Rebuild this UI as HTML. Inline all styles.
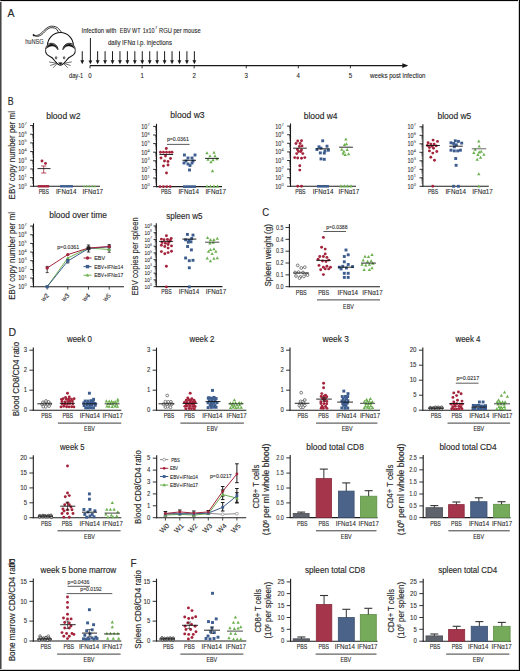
<!DOCTYPE html>
<html><head><meta charset="utf-8"><style>
html,body{margin:0;padding:0;background:#fff;width:520px;height:671px;overflow:hidden}
svg{display:block}
text{font-family:"Liberation Sans", sans-serif;stroke:#2a2a2a;stroke-width:0.1px}
</style></head><body>
<svg width="520" height="671" viewBox="0 0 520 671" font-family='"Liberation Sans", sans-serif' fill="#262626">
<rect x="0" y="0" width="520" height="671" fill="#fff"/>
<rect x="0" y="0" width="520" height="1" fill="#050505"/>
<rect x="0" y="0" width="1" height="671" fill="#454545"/>
<rect x="1" y="1" width="1" height="670" fill="#9a9a9a"/>
<rect x="518" y="0" width="1" height="671" fill="#d0d0d0"/>
<rect x="0" y="669" width="520" height="1" fill="#d0d0d0"/>
<rect x="0" y="1" width="520" height="1" fill="#e6e6e6"/>
<rect x="519" y="0" width="1" height="671" fill="#050505"/>
<rect x="0" y="670" width="520" height="1" fill="#050505"/>
<text x="7.6" y="17.4" font-size="11.5" style="stroke-width:0.14px" textLength="7" lengthAdjust="spacingAndGlyphs">A</text>
<path d="M33.1 34.6 C36 36.4 39.5 35.6 43.9 30.5 C47 27.4 50 26.1 51.5 26.2 C54.5 26.1 57.2 26.9 58.7 28.8 L61.9 32.6" stroke="#111" stroke-width="0.85" fill="none" />
<path d="M34.2 35.7 C37 37.1 40.5 36.6 44.5 31.9 C47 29.1 49.5 27.9 50.8 27.7 C53.5 27.6 55.8 28.1 56.9 29.5 L58.7 32.7" stroke="#111" stroke-width="0.85" fill="none" />
<path d="M33 34.5 L34.4 35.8" stroke="#111" stroke-width="1.6" fill="none" />
<circle cx="60.4" cy="45.4" r="12.9" fill="#fff" stroke="#111" stroke-width="1.1"/>
<path d="M46.5 49.5 L74.3 49.5 L74.8 53.5 L46 53.5Z" fill="#fff"/>
<path d="M45.8 52 C46 55 49.5 56.4 51.8 57.5 C54 59.5 56 63 58.5 64.6 C59.8 65.4 61 65.4 62.3 64.6 C64.8 63 66.8 59.5 69 57.5 C71.3 56.4 74.8 55 75 52" stroke="#111" stroke-width="1.1" fill="#fff" />
<path d="M45.8 52.3 C44.8 48.3 46.8 43.6 51 43.3 C54.8 43.1 57.7 45.8 58 49.8" stroke="#111" stroke-width="0.9" fill="#fff" />
<path d="M75 52.3 C76 48.3 74 43.6 69.8 43.3 C66 43.1 63.1 45.8 62.8 49.8" stroke="#111" stroke-width="0.9" fill="#fff" />
<path d="M46.3 48.6 C47.2 45.6 49.4 44 51.8 44 C54.6 44.1 57 46.2 57.6 49.6 C56.6 47.6 54.6 46.1 52.5 46 C50.2 45.9 48 47 46.3 48.6Z" stroke="#111" stroke-width="0.4" fill="#111" />
<path d="M74.5 48.6 C73.6 45.6 71.4 44 69 44 C66.2 44.1 63.8 46.2 63.2 49.6 C64.2 47.6 66.2 46.1 68.3 46 C70.6 45.9 72.8 47 74.5 48.6Z" stroke="#111" stroke-width="0.4" fill="#111" />
<ellipse cx="56.1" cy="57.8" rx="0.75" ry="1.15" fill="none" stroke="#111" stroke-width="0.75"/>
<ellipse cx="64.1" cy="57.8" rx="0.75" ry="1.15" fill="none" stroke="#111" stroke-width="0.75"/>
<path d="M58.7 62.7 L62.1 62.7 L60.4 64.7Z" stroke="#111" stroke-width="0.5" fill="#111" />
<path d="M56 62.2 C57 63.3 57.8 64 59 64.7" stroke="#111" stroke-width="1" fill="none" />
<path d="M64.8 62.2 C63.8 63.3 63 64 61.8 64.7" stroke="#111" stroke-width="1" fill="none" />
<path d="M56.4 63.2 L49 61.9" stroke="#111" stroke-width="0.6" fill="none" />
<path d="M56.4 63.5 L50.2 65.5" stroke="#111" stroke-width="0.6" fill="none" />
<path d="M56.8 64 L53.1 67.8" stroke="#111" stroke-width="0.6" fill="none" />
<path d="M64.4 63.2 L71.8 61.9" stroke="#111" stroke-width="0.6" fill="none" />
<path d="M64.4 63.5 L70.6 65.5" stroke="#111" stroke-width="0.6" fill="none" />
<path d="M64 64 L67.7 67.8" stroke="#111" stroke-width="0.6" fill="none" />
<text x="25.2" y="43.6" font-size="6.4" textLength="18.5" lengthAdjust="spacingAndGlyphs" fill="#3a3a3a">huNSG</text>
<line x1="90" y1="65.6" x2="407" y2="65.6" stroke="#1a1a1a" stroke-width="1.1"/>
<path d="M402.3 63.3 L408.3 65.6 L402.3 67.9Z" fill="#1a1a1a"/>
<line x1="90" y1="65.6" x2="90" y2="68.3" stroke="#1a1a1a" stroke-width="0.9"/>
<text x="90" y="78" font-size="6.8" text-anchor="middle" textLength="3.4" lengthAdjust="spacingAndGlyphs">0</text>
<line x1="142.08" y1="65.6" x2="142.08" y2="68.3" stroke="#1a1a1a" stroke-width="0.9"/>
<text x="142.08" y="78" font-size="6.8" text-anchor="middle" textLength="3.4" lengthAdjust="spacingAndGlyphs">1</text>
<line x1="194.16" y1="65.6" x2="194.16" y2="68.3" stroke="#1a1a1a" stroke-width="0.9"/>
<text x="194.16" y="78" font-size="6.8" text-anchor="middle" textLength="3.4" lengthAdjust="spacingAndGlyphs">2</text>
<line x1="246.24" y1="65.6" x2="246.24" y2="68.3" stroke="#1a1a1a" stroke-width="0.9"/>
<text x="246.24" y="78" font-size="6.8" text-anchor="middle" textLength="3.4" lengthAdjust="spacingAndGlyphs">3</text>
<line x1="298.32" y1="65.6" x2="298.32" y2="68.3" stroke="#1a1a1a" stroke-width="0.9"/>
<text x="298.32" y="78" font-size="6.8" text-anchor="middle" textLength="3.4" lengthAdjust="spacingAndGlyphs">4</text>
<line x1="350.4" y1="65.6" x2="350.4" y2="68.3" stroke="#1a1a1a" stroke-width="0.9"/>
<text x="350.4" y="78" font-size="6.8" text-anchor="middle" textLength="3.4" lengthAdjust="spacingAndGlyphs">5</text>
<text x="69" y="78" font-size="6.8" textLength="14.2" lengthAdjust="spacingAndGlyphs">day-1</text>
<text x="370" y="77.8" font-size="6.6" textLength="55.5" lengthAdjust="spacingAndGlyphs">weeks post infection</text>
<line x1="82.25" y1="51.2" x2="82.25" y2="61.2" stroke="#1a1a1a" stroke-width="1"/>
<path d="M80.35 60.3 L84.15 60.3 L82.25 64.2Z" fill="#1a1a1a"/>
<line x1="90.4" y1="38" x2="90.4" y2="61.3" stroke="#1a1a1a" stroke-width="1"/>
<path d="M88.5 60.4 L92.3 60.4 L90.4 64.3Z" fill="#1a1a1a"/>
<line x1="97.64" y1="51.2" x2="97.64" y2="61.2" stroke="#1a1a1a" stroke-width="1"/>
<path d="M95.74 60.3 L99.54 60.3 L97.64 64.2Z" fill="#1a1a1a"/>
<line x1="105.08" y1="51.2" x2="105.08" y2="61.2" stroke="#1a1a1a" stroke-width="1"/>
<path d="M103.18 60.3 L106.98 60.3 L105.08 64.2Z" fill="#1a1a1a"/>
<line x1="112.52" y1="51.2" x2="112.52" y2="61.2" stroke="#1a1a1a" stroke-width="1"/>
<path d="M110.62 60.3 L114.42 60.3 L112.52 64.2Z" fill="#1a1a1a"/>
<line x1="119.96" y1="51.2" x2="119.96" y2="61.2" stroke="#1a1a1a" stroke-width="1"/>
<path d="M118.06 60.3 L121.86 60.3 L119.96 64.2Z" fill="#1a1a1a"/>
<line x1="127.4" y1="51.2" x2="127.4" y2="61.2" stroke="#1a1a1a" stroke-width="1"/>
<path d="M125.5 60.3 L129.3 60.3 L127.4 64.2Z" fill="#1a1a1a"/>
<line x1="134.84" y1="51.2" x2="134.84" y2="61.2" stroke="#1a1a1a" stroke-width="1"/>
<path d="M132.94 60.3 L136.74 60.3 L134.84 64.2Z" fill="#1a1a1a"/>
<line x1="142.28" y1="51.2" x2="142.28" y2="61.2" stroke="#1a1a1a" stroke-width="1"/>
<path d="M140.38 60.3 L144.18 60.3 L142.28 64.2Z" fill="#1a1a1a"/>
<line x1="149.72" y1="51.2" x2="149.72" y2="61.2" stroke="#1a1a1a" stroke-width="1"/>
<path d="M147.82 60.3 L151.62 60.3 L149.72 64.2Z" fill="#1a1a1a"/>
<line x1="157.16" y1="51.2" x2="157.16" y2="61.2" stroke="#1a1a1a" stroke-width="1"/>
<path d="M155.26 60.3 L159.06 60.3 L157.16 64.2Z" fill="#1a1a1a"/>
<line x1="164.6" y1="51.2" x2="164.6" y2="61.2" stroke="#1a1a1a" stroke-width="1"/>
<path d="M162.7 60.3 L166.5 60.3 L164.6 64.2Z" fill="#1a1a1a"/>
<line x1="172.04" y1="51.2" x2="172.04" y2="61.2" stroke="#1a1a1a" stroke-width="1"/>
<path d="M170.14 60.3 L173.94 60.3 L172.04 64.2Z" fill="#1a1a1a"/>
<line x1="179.48" y1="51.2" x2="179.48" y2="61.2" stroke="#1a1a1a" stroke-width="1"/>
<path d="M177.58 60.3 L181.38 60.3 L179.48 64.2Z" fill="#1a1a1a"/>
<line x1="186.92" y1="51.2" x2="186.92" y2="61.2" stroke="#1a1a1a" stroke-width="1"/>
<path d="M185.02 60.3 L188.82 60.3 L186.92 64.2Z" fill="#1a1a1a"/>
<line x1="194.36" y1="51.2" x2="194.36" y2="61.2" stroke="#1a1a1a" stroke-width="1"/>
<path d="M192.46 60.3 L196.26 60.3 L194.36 64.2Z" fill="#1a1a1a"/>
<text x="81.5" y="32.6" font-size="6.8" textLength="34.9" lengthAdjust="spacingAndGlyphs">Infection with</text>
<text x="119.8" y="32.6" font-size="6.8" textLength="20.7" lengthAdjust="spacingAndGlyphs">EBV WT</text>
<text x="142.7" y="32.6" font-size="6.8" textLength="11.7" lengthAdjust="spacingAndGlyphs">1x10</text>
<text x="155" y="29.4" font-size="4" fill="#666">7</text>
<text x="159" y="32.6" font-size="6.8" textLength="41.6" lengthAdjust="spacingAndGlyphs">RGU per mouse</text>
<text x="108" y="44.6" font-size="6.8" textLength="64" lengthAdjust="spacingAndGlyphs">daily IFNα i.p. injections</text>
<text x="7.8" y="104.9" font-size="11.5" style="stroke-width:0.14px" textLength="5.9" lengthAdjust="spacingAndGlyphs">B</text>
<line x1="33.5" y1="122.94" x2="33.5" y2="186.8" stroke="#1c1c1c" stroke-width="1.1"/>
<line x1="33" y1="186.3" x2="100" y2="186.3" stroke="#1c1c1c" stroke-width="1.1"/>
<line x1="30.1" y1="186.3" x2="33.5" y2="186.3" stroke="#1c1c1c" stroke-width="0.9"/>
<text x="24.2" y="188.75" font-size="6.8" text-anchor="end" textLength="6" lengthAdjust="spacingAndGlyphs" fill="#333">10</text>
<text x="24.4" y="185.89" font-size="4.01" fill="#888">0</text>
<line x1="32" y1="183.69" x2="33.5" y2="183.69" stroke="#1c1c1c" stroke-width="0.5" opacity="0.8"/>
<line x1="32" y1="182.16" x2="33.5" y2="182.16" stroke="#1c1c1c" stroke-width="0.5" opacity="0.8"/>
<line x1="32" y1="181.07" x2="33.5" y2="181.07" stroke="#1c1c1c" stroke-width="0.5" opacity="0.8"/>
<line x1="32" y1="180.23" x2="33.5" y2="180.23" stroke="#1c1c1c" stroke-width="0.5" opacity="0.8"/>
<line x1="32" y1="179.55" x2="33.5" y2="179.55" stroke="#1c1c1c" stroke-width="0.5" opacity="0.8"/>
<line x1="32" y1="178.96" x2="33.5" y2="178.96" stroke="#1c1c1c" stroke-width="0.5" opacity="0.8"/>
<line x1="32" y1="178.46" x2="33.5" y2="178.46" stroke="#1c1c1c" stroke-width="0.5" opacity="0.8"/>
<line x1="32" y1="178.02" x2="33.5" y2="178.02" stroke="#1c1c1c" stroke-width="0.5" opacity="0.8"/>
<line x1="30.1" y1="177.62" x2="33.5" y2="177.62" stroke="#1c1c1c" stroke-width="0.9"/>
<text x="24.2" y="180.07" font-size="6.8" text-anchor="end" textLength="6" lengthAdjust="spacingAndGlyphs" fill="#333">10</text>
<text x="24.4" y="177.21" font-size="4.01" fill="#888">1</text>
<line x1="32" y1="175.01" x2="33.5" y2="175.01" stroke="#1c1c1c" stroke-width="0.5" opacity="0.8"/>
<line x1="32" y1="173.48" x2="33.5" y2="173.48" stroke="#1c1c1c" stroke-width="0.5" opacity="0.8"/>
<line x1="32" y1="172.39" x2="33.5" y2="172.39" stroke="#1c1c1c" stroke-width="0.5" opacity="0.8"/>
<line x1="32" y1="171.55" x2="33.5" y2="171.55" stroke="#1c1c1c" stroke-width="0.5" opacity="0.8"/>
<line x1="32" y1="170.87" x2="33.5" y2="170.87" stroke="#1c1c1c" stroke-width="0.5" opacity="0.8"/>
<line x1="32" y1="170.28" x2="33.5" y2="170.28" stroke="#1c1c1c" stroke-width="0.5" opacity="0.8"/>
<line x1="32" y1="169.78" x2="33.5" y2="169.78" stroke="#1c1c1c" stroke-width="0.5" opacity="0.8"/>
<line x1="32" y1="169.34" x2="33.5" y2="169.34" stroke="#1c1c1c" stroke-width="0.5" opacity="0.8"/>
<line x1="30.1" y1="168.94" x2="33.5" y2="168.94" stroke="#1c1c1c" stroke-width="0.9"/>
<text x="24.2" y="171.39" font-size="6.8" text-anchor="end" textLength="6" lengthAdjust="spacingAndGlyphs" fill="#333">10</text>
<text x="24.4" y="168.53" font-size="4.01" fill="#888">2</text>
<line x1="32" y1="166.33" x2="33.5" y2="166.33" stroke="#1c1c1c" stroke-width="0.5" opacity="0.8"/>
<line x1="32" y1="164.8" x2="33.5" y2="164.8" stroke="#1c1c1c" stroke-width="0.5" opacity="0.8"/>
<line x1="32" y1="163.71" x2="33.5" y2="163.71" stroke="#1c1c1c" stroke-width="0.5" opacity="0.8"/>
<line x1="32" y1="162.87" x2="33.5" y2="162.87" stroke="#1c1c1c" stroke-width="0.5" opacity="0.8"/>
<line x1="32" y1="162.19" x2="33.5" y2="162.19" stroke="#1c1c1c" stroke-width="0.5" opacity="0.8"/>
<line x1="32" y1="161.6" x2="33.5" y2="161.6" stroke="#1c1c1c" stroke-width="0.5" opacity="0.8"/>
<line x1="32" y1="161.1" x2="33.5" y2="161.1" stroke="#1c1c1c" stroke-width="0.5" opacity="0.8"/>
<line x1="32" y1="160.66" x2="33.5" y2="160.66" stroke="#1c1c1c" stroke-width="0.5" opacity="0.8"/>
<line x1="30.1" y1="160.26" x2="33.5" y2="160.26" stroke="#1c1c1c" stroke-width="0.9"/>
<text x="24.2" y="162.71" font-size="6.8" text-anchor="end" textLength="6" lengthAdjust="spacingAndGlyphs" fill="#333">10</text>
<text x="24.4" y="159.85" font-size="4.01" fill="#888">3</text>
<line x1="32" y1="157.65" x2="33.5" y2="157.65" stroke="#1c1c1c" stroke-width="0.5" opacity="0.8"/>
<line x1="32" y1="156.12" x2="33.5" y2="156.12" stroke="#1c1c1c" stroke-width="0.5" opacity="0.8"/>
<line x1="32" y1="155.03" x2="33.5" y2="155.03" stroke="#1c1c1c" stroke-width="0.5" opacity="0.8"/>
<line x1="32" y1="154.19" x2="33.5" y2="154.19" stroke="#1c1c1c" stroke-width="0.5" opacity="0.8"/>
<line x1="32" y1="153.51" x2="33.5" y2="153.51" stroke="#1c1c1c" stroke-width="0.5" opacity="0.8"/>
<line x1="32" y1="152.92" x2="33.5" y2="152.92" stroke="#1c1c1c" stroke-width="0.5" opacity="0.8"/>
<line x1="32" y1="152.42" x2="33.5" y2="152.42" stroke="#1c1c1c" stroke-width="0.5" opacity="0.8"/>
<line x1="32" y1="151.98" x2="33.5" y2="151.98" stroke="#1c1c1c" stroke-width="0.5" opacity="0.8"/>
<line x1="30.1" y1="151.58" x2="33.5" y2="151.58" stroke="#1c1c1c" stroke-width="0.9"/>
<text x="24.2" y="154.03" font-size="6.8" text-anchor="end" textLength="6" lengthAdjust="spacingAndGlyphs" fill="#333">10</text>
<text x="24.4" y="151.17" font-size="4.01" fill="#888">4</text>
<line x1="32" y1="148.97" x2="33.5" y2="148.97" stroke="#1c1c1c" stroke-width="0.5" opacity="0.8"/>
<line x1="32" y1="147.44" x2="33.5" y2="147.44" stroke="#1c1c1c" stroke-width="0.5" opacity="0.8"/>
<line x1="32" y1="146.35" x2="33.5" y2="146.35" stroke="#1c1c1c" stroke-width="0.5" opacity="0.8"/>
<line x1="32" y1="145.51" x2="33.5" y2="145.51" stroke="#1c1c1c" stroke-width="0.5" opacity="0.8"/>
<line x1="32" y1="144.83" x2="33.5" y2="144.83" stroke="#1c1c1c" stroke-width="0.5" opacity="0.8"/>
<line x1="32" y1="144.24" x2="33.5" y2="144.24" stroke="#1c1c1c" stroke-width="0.5" opacity="0.8"/>
<line x1="32" y1="143.74" x2="33.5" y2="143.74" stroke="#1c1c1c" stroke-width="0.5" opacity="0.8"/>
<line x1="32" y1="143.3" x2="33.5" y2="143.3" stroke="#1c1c1c" stroke-width="0.5" opacity="0.8"/>
<line x1="30.1" y1="142.9" x2="33.5" y2="142.9" stroke="#1c1c1c" stroke-width="0.9"/>
<text x="24.2" y="145.35" font-size="6.8" text-anchor="end" textLength="6" lengthAdjust="spacingAndGlyphs" fill="#333">10</text>
<text x="24.4" y="142.49" font-size="4.01" fill="#888">5</text>
<line x1="32" y1="140.29" x2="33.5" y2="140.29" stroke="#1c1c1c" stroke-width="0.5" opacity="0.8"/>
<line x1="32" y1="138.76" x2="33.5" y2="138.76" stroke="#1c1c1c" stroke-width="0.5" opacity="0.8"/>
<line x1="32" y1="137.67" x2="33.5" y2="137.67" stroke="#1c1c1c" stroke-width="0.5" opacity="0.8"/>
<line x1="32" y1="136.83" x2="33.5" y2="136.83" stroke="#1c1c1c" stroke-width="0.5" opacity="0.8"/>
<line x1="32" y1="136.15" x2="33.5" y2="136.15" stroke="#1c1c1c" stroke-width="0.5" opacity="0.8"/>
<line x1="32" y1="135.56" x2="33.5" y2="135.56" stroke="#1c1c1c" stroke-width="0.5" opacity="0.8"/>
<line x1="32" y1="135.06" x2="33.5" y2="135.06" stroke="#1c1c1c" stroke-width="0.5" opacity="0.8"/>
<line x1="32" y1="134.62" x2="33.5" y2="134.62" stroke="#1c1c1c" stroke-width="0.5" opacity="0.8"/>
<line x1="30.1" y1="134.22" x2="33.5" y2="134.22" stroke="#1c1c1c" stroke-width="0.9"/>
<text x="24.2" y="136.67" font-size="6.8" text-anchor="end" textLength="6" lengthAdjust="spacingAndGlyphs" fill="#333">10</text>
<text x="24.4" y="133.81" font-size="4.01" fill="#888">6</text>
<line x1="32" y1="131.61" x2="33.5" y2="131.61" stroke="#1c1c1c" stroke-width="0.5" opacity="0.8"/>
<line x1="32" y1="130.08" x2="33.5" y2="130.08" stroke="#1c1c1c" stroke-width="0.5" opacity="0.8"/>
<line x1="32" y1="128.99" x2="33.5" y2="128.99" stroke="#1c1c1c" stroke-width="0.5" opacity="0.8"/>
<line x1="32" y1="128.15" x2="33.5" y2="128.15" stroke="#1c1c1c" stroke-width="0.5" opacity="0.8"/>
<line x1="32" y1="127.47" x2="33.5" y2="127.47" stroke="#1c1c1c" stroke-width="0.5" opacity="0.8"/>
<line x1="32" y1="126.88" x2="33.5" y2="126.88" stroke="#1c1c1c" stroke-width="0.5" opacity="0.8"/>
<line x1="32" y1="126.38" x2="33.5" y2="126.38" stroke="#1c1c1c" stroke-width="0.5" opacity="0.8"/>
<line x1="32" y1="125.94" x2="33.5" y2="125.94" stroke="#1c1c1c" stroke-width="0.5" opacity="0.8"/>
<line x1="30.1" y1="125.54" x2="33.5" y2="125.54" stroke="#1c1c1c" stroke-width="0.9"/>
<text x="24.2" y="127.99" font-size="6.8" text-anchor="end" textLength="6" lengthAdjust="spacingAndGlyphs" fill="#333">10</text>
<text x="24.4" y="125.13" font-size="4.01" fill="#888">7</text>
<text x="46.2" y="118.6" font-size="8.6" style="stroke-width:0.14px" textLength="34.3" lengthAdjust="spacingAndGlyphs">blood w2</text>
<text x="15.3" y="155.2" font-size="9.2" style="stroke-width:0.14px" text-anchor="middle" textLength="88.4" lengthAdjust="spacingAndGlyphs" transform="rotate(-90 15.3 155.2)">EBV copy number per ml</text>
<text x="43.85" y="193.9" font-size="6.6" text-anchor="middle" textLength="10.4" lengthAdjust="spacingAndGlyphs">PBS</text>
<text x="66.2" y="193.9" font-size="6.6" text-anchor="middle" textLength="20.6" lengthAdjust="spacingAndGlyphs">IFNα14</text>
<text x="92.8" y="193.9" font-size="6.6" text-anchor="middle" textLength="20.6" lengthAdjust="spacingAndGlyphs">IFNα17</text>
<rect x="37.7" y="185.1" width="11.5" height="2.4" fill="#a4243b"/>
<rect x="60" y="185.1" width="13" height="2.4" fill="#3d5d8f"/>
<path d="M84 184.91L85.27 187.22L82.73 187.22Z" fill="#6db04f"/>
<path d="M86.75 184.91L88.02 187.22L85.48 187.22Z" fill="#6db04f"/>
<path d="M89.5 184.91L90.77 187.22L88.23 187.22Z" fill="#6db04f"/>
<path d="M92.25 184.91L93.52 187.22L90.98 187.22Z" fill="#6db04f"/>
<path d="M95 184.91L96.27 187.22L93.73 187.22Z" fill="#6db04f"/>
<circle cx="42" cy="161" r="1.45" fill="#a4243b"/>
<circle cx="45.5" cy="163.4" r="1.45" fill="#a4243b"/>
<line x1="43.7" y1="166" x2="43.7" y2="173" stroke="#a4243b" stroke-width="0.8"/>
<line x1="41.1" y1="166" x2="46.3" y2="166" stroke="#a4243b" stroke-width="0.8"/>
<line x1="41.1" y1="173" x2="46.3" y2="173" stroke="#a4243b" stroke-width="0.8"/>
<line x1="37.5" y1="168.6" x2="50.5" y2="168.6" stroke="#111" stroke-width="0.9"/>
<line x1="156.5" y1="123.8" x2="156.5" y2="187.1" stroke="#1c1c1c" stroke-width="1.1"/>
<line x1="156" y1="186.6" x2="222" y2="186.6" stroke="#1c1c1c" stroke-width="1.1"/>
<line x1="153.1" y1="186.6" x2="156.5" y2="186.6" stroke="#1c1c1c" stroke-width="0.9"/>
<text x="147.2" y="189.05" font-size="6.8" text-anchor="end" textLength="6" lengthAdjust="spacingAndGlyphs" fill="#333">10</text>
<text x="147.4" y="186.19" font-size="4.01" fill="#888">0</text>
<line x1="155" y1="184.01" x2="156.5" y2="184.01" stroke="#1c1c1c" stroke-width="0.5" opacity="0.8"/>
<line x1="155" y1="182.5" x2="156.5" y2="182.5" stroke="#1c1c1c" stroke-width="0.5" opacity="0.8"/>
<line x1="155" y1="181.42" x2="156.5" y2="181.42" stroke="#1c1c1c" stroke-width="0.5" opacity="0.8"/>
<line x1="155" y1="180.59" x2="156.5" y2="180.59" stroke="#1c1c1c" stroke-width="0.5" opacity="0.8"/>
<line x1="155" y1="179.91" x2="156.5" y2="179.91" stroke="#1c1c1c" stroke-width="0.5" opacity="0.8"/>
<line x1="155" y1="179.33" x2="156.5" y2="179.33" stroke="#1c1c1c" stroke-width="0.5" opacity="0.8"/>
<line x1="155" y1="178.83" x2="156.5" y2="178.83" stroke="#1c1c1c" stroke-width="0.5" opacity="0.8"/>
<line x1="155" y1="178.39" x2="156.5" y2="178.39" stroke="#1c1c1c" stroke-width="0.5" opacity="0.8"/>
<line x1="153.1" y1="178" x2="156.5" y2="178" stroke="#1c1c1c" stroke-width="0.9"/>
<text x="147.2" y="180.45" font-size="6.8" text-anchor="end" textLength="6" lengthAdjust="spacingAndGlyphs" fill="#333">10</text>
<text x="147.4" y="177.59" font-size="4.01" fill="#888">1</text>
<line x1="155" y1="175.41" x2="156.5" y2="175.41" stroke="#1c1c1c" stroke-width="0.5" opacity="0.8"/>
<line x1="155" y1="173.9" x2="156.5" y2="173.9" stroke="#1c1c1c" stroke-width="0.5" opacity="0.8"/>
<line x1="155" y1="172.82" x2="156.5" y2="172.82" stroke="#1c1c1c" stroke-width="0.5" opacity="0.8"/>
<line x1="155" y1="171.99" x2="156.5" y2="171.99" stroke="#1c1c1c" stroke-width="0.5" opacity="0.8"/>
<line x1="155" y1="171.31" x2="156.5" y2="171.31" stroke="#1c1c1c" stroke-width="0.5" opacity="0.8"/>
<line x1="155" y1="170.73" x2="156.5" y2="170.73" stroke="#1c1c1c" stroke-width="0.5" opacity="0.8"/>
<line x1="155" y1="170.23" x2="156.5" y2="170.23" stroke="#1c1c1c" stroke-width="0.5" opacity="0.8"/>
<line x1="155" y1="169.79" x2="156.5" y2="169.79" stroke="#1c1c1c" stroke-width="0.5" opacity="0.8"/>
<line x1="153.1" y1="169.4" x2="156.5" y2="169.4" stroke="#1c1c1c" stroke-width="0.9"/>
<text x="147.2" y="171.85" font-size="6.8" text-anchor="end" textLength="6" lengthAdjust="spacingAndGlyphs" fill="#333">10</text>
<text x="147.4" y="168.99" font-size="4.01" fill="#888">2</text>
<line x1="155" y1="166.81" x2="156.5" y2="166.81" stroke="#1c1c1c" stroke-width="0.5" opacity="0.8"/>
<line x1="155" y1="165.3" x2="156.5" y2="165.3" stroke="#1c1c1c" stroke-width="0.5" opacity="0.8"/>
<line x1="155" y1="164.22" x2="156.5" y2="164.22" stroke="#1c1c1c" stroke-width="0.5" opacity="0.8"/>
<line x1="155" y1="163.39" x2="156.5" y2="163.39" stroke="#1c1c1c" stroke-width="0.5" opacity="0.8"/>
<line x1="155" y1="162.71" x2="156.5" y2="162.71" stroke="#1c1c1c" stroke-width="0.5" opacity="0.8"/>
<line x1="155" y1="162.13" x2="156.5" y2="162.13" stroke="#1c1c1c" stroke-width="0.5" opacity="0.8"/>
<line x1="155" y1="161.63" x2="156.5" y2="161.63" stroke="#1c1c1c" stroke-width="0.5" opacity="0.8"/>
<line x1="155" y1="161.19" x2="156.5" y2="161.19" stroke="#1c1c1c" stroke-width="0.5" opacity="0.8"/>
<line x1="153.1" y1="160.8" x2="156.5" y2="160.8" stroke="#1c1c1c" stroke-width="0.9"/>
<text x="147.2" y="163.25" font-size="6.8" text-anchor="end" textLength="6" lengthAdjust="spacingAndGlyphs" fill="#333">10</text>
<text x="147.4" y="160.39" font-size="4.01" fill="#888">3</text>
<line x1="155" y1="158.21" x2="156.5" y2="158.21" stroke="#1c1c1c" stroke-width="0.5" opacity="0.8"/>
<line x1="155" y1="156.7" x2="156.5" y2="156.7" stroke="#1c1c1c" stroke-width="0.5" opacity="0.8"/>
<line x1="155" y1="155.62" x2="156.5" y2="155.62" stroke="#1c1c1c" stroke-width="0.5" opacity="0.8"/>
<line x1="155" y1="154.79" x2="156.5" y2="154.79" stroke="#1c1c1c" stroke-width="0.5" opacity="0.8"/>
<line x1="155" y1="154.11" x2="156.5" y2="154.11" stroke="#1c1c1c" stroke-width="0.5" opacity="0.8"/>
<line x1="155" y1="153.53" x2="156.5" y2="153.53" stroke="#1c1c1c" stroke-width="0.5" opacity="0.8"/>
<line x1="155" y1="153.03" x2="156.5" y2="153.03" stroke="#1c1c1c" stroke-width="0.5" opacity="0.8"/>
<line x1="155" y1="152.59" x2="156.5" y2="152.59" stroke="#1c1c1c" stroke-width="0.5" opacity="0.8"/>
<line x1="153.1" y1="152.2" x2="156.5" y2="152.2" stroke="#1c1c1c" stroke-width="0.9"/>
<text x="147.2" y="154.65" font-size="6.8" text-anchor="end" textLength="6" lengthAdjust="spacingAndGlyphs" fill="#333">10</text>
<text x="147.4" y="151.79" font-size="4.01" fill="#888">4</text>
<line x1="155" y1="149.61" x2="156.5" y2="149.61" stroke="#1c1c1c" stroke-width="0.5" opacity="0.8"/>
<line x1="155" y1="148.1" x2="156.5" y2="148.1" stroke="#1c1c1c" stroke-width="0.5" opacity="0.8"/>
<line x1="155" y1="147.02" x2="156.5" y2="147.02" stroke="#1c1c1c" stroke-width="0.5" opacity="0.8"/>
<line x1="155" y1="146.19" x2="156.5" y2="146.19" stroke="#1c1c1c" stroke-width="0.5" opacity="0.8"/>
<line x1="155" y1="145.51" x2="156.5" y2="145.51" stroke="#1c1c1c" stroke-width="0.5" opacity="0.8"/>
<line x1="155" y1="144.93" x2="156.5" y2="144.93" stroke="#1c1c1c" stroke-width="0.5" opacity="0.8"/>
<line x1="155" y1="144.43" x2="156.5" y2="144.43" stroke="#1c1c1c" stroke-width="0.5" opacity="0.8"/>
<line x1="155" y1="143.99" x2="156.5" y2="143.99" stroke="#1c1c1c" stroke-width="0.5" opacity="0.8"/>
<line x1="153.1" y1="143.6" x2="156.5" y2="143.6" stroke="#1c1c1c" stroke-width="0.9"/>
<text x="147.2" y="146.05" font-size="6.8" text-anchor="end" textLength="6" lengthAdjust="spacingAndGlyphs" fill="#333">10</text>
<text x="147.4" y="143.19" font-size="4.01" fill="#888">5</text>
<line x1="155" y1="141.01" x2="156.5" y2="141.01" stroke="#1c1c1c" stroke-width="0.5" opacity="0.8"/>
<line x1="155" y1="139.5" x2="156.5" y2="139.5" stroke="#1c1c1c" stroke-width="0.5" opacity="0.8"/>
<line x1="155" y1="138.42" x2="156.5" y2="138.42" stroke="#1c1c1c" stroke-width="0.5" opacity="0.8"/>
<line x1="155" y1="137.59" x2="156.5" y2="137.59" stroke="#1c1c1c" stroke-width="0.5" opacity="0.8"/>
<line x1="155" y1="136.91" x2="156.5" y2="136.91" stroke="#1c1c1c" stroke-width="0.5" opacity="0.8"/>
<line x1="155" y1="136.33" x2="156.5" y2="136.33" stroke="#1c1c1c" stroke-width="0.5" opacity="0.8"/>
<line x1="155" y1="135.83" x2="156.5" y2="135.83" stroke="#1c1c1c" stroke-width="0.5" opacity="0.8"/>
<line x1="155" y1="135.39" x2="156.5" y2="135.39" stroke="#1c1c1c" stroke-width="0.5" opacity="0.8"/>
<line x1="153.1" y1="135" x2="156.5" y2="135" stroke="#1c1c1c" stroke-width="0.9"/>
<text x="147.2" y="137.45" font-size="6.8" text-anchor="end" textLength="6" lengthAdjust="spacingAndGlyphs" fill="#333">10</text>
<text x="147.4" y="134.59" font-size="4.01" fill="#888">6</text>
<line x1="155" y1="132.41" x2="156.5" y2="132.41" stroke="#1c1c1c" stroke-width="0.5" opacity="0.8"/>
<line x1="155" y1="130.9" x2="156.5" y2="130.9" stroke="#1c1c1c" stroke-width="0.5" opacity="0.8"/>
<line x1="155" y1="129.82" x2="156.5" y2="129.82" stroke="#1c1c1c" stroke-width="0.5" opacity="0.8"/>
<line x1="155" y1="128.99" x2="156.5" y2="128.99" stroke="#1c1c1c" stroke-width="0.5" opacity="0.8"/>
<line x1="155" y1="128.31" x2="156.5" y2="128.31" stroke="#1c1c1c" stroke-width="0.5" opacity="0.8"/>
<line x1="155" y1="127.73" x2="156.5" y2="127.73" stroke="#1c1c1c" stroke-width="0.5" opacity="0.8"/>
<line x1="155" y1="127.23" x2="156.5" y2="127.23" stroke="#1c1c1c" stroke-width="0.5" opacity="0.8"/>
<line x1="155" y1="126.79" x2="156.5" y2="126.79" stroke="#1c1c1c" stroke-width="0.5" opacity="0.8"/>
<line x1="153.1" y1="126.4" x2="156.5" y2="126.4" stroke="#1c1c1c" stroke-width="0.9"/>
<text x="147.2" y="128.85" font-size="6.8" text-anchor="end" textLength="6" lengthAdjust="spacingAndGlyphs" fill="#333">10</text>
<text x="147.4" y="125.99" font-size="4.01" fill="#888">7</text>
<text x="170.3" y="118.2" font-size="8.6" style="stroke-width:0.14px" textLength="34.3" lengthAdjust="spacingAndGlyphs">blood w3</text>
<text x="166.1" y="193.9" font-size="6.6" text-anchor="middle" textLength="10.4" lengthAdjust="spacingAndGlyphs">PBS</text>
<text x="188.7" y="193.9" font-size="6.6" text-anchor="middle" textLength="20.6" lengthAdjust="spacingAndGlyphs">IFNα14</text>
<text x="215.7" y="193.9" font-size="6.6" text-anchor="middle" textLength="20.6" lengthAdjust="spacingAndGlyphs">IFNα17</text>
<text x="177.85" y="141.2" font-size="5" text-anchor="middle" textLength="21.9" lengthAdjust="spacingAndGlyphs" fill="#333">p=0.0361</text>
<line x1="166.9" y1="144.4" x2="189.6" y2="144.4" stroke="#333" stroke-width="0.8"/>
<circle cx="166.3" cy="148.5" r="1.45" fill="#a4243b"/>
<circle cx="160.5" cy="152.3" r="1.45" fill="#a4243b"/>
<circle cx="163.5" cy="152.3" r="1.45" fill="#a4243b"/>
<circle cx="166.5" cy="152.3" r="1.45" fill="#a4243b"/>
<circle cx="169.5" cy="152.3" r="1.45" fill="#a4243b"/>
<circle cx="172" cy="152.3" r="1.45" fill="#a4243b"/>
<circle cx="161" cy="158" r="1.45" fill="#a4243b"/>
<circle cx="170.5" cy="158.5" r="1.45" fill="#a4243b"/>
<circle cx="164.5" cy="161" r="1.45" fill="#a4243b"/>
<circle cx="168" cy="161.5" r="1.45" fill="#a4243b"/>
<circle cx="163.5" cy="166" r="1.45" fill="#a4243b"/>
<circle cx="168" cy="165" r="1.45" fill="#a4243b"/>
<circle cx="166.5" cy="173" r="1.45" fill="#a4243b"/>
<circle cx="165.5" cy="156" r="1.45" fill="#a4243b"/>
<circle cx="160" cy="186.6" r="1.45" fill="#a4243b"/>
<circle cx="163.4" cy="186.6" r="1.45" fill="#a4243b"/>
<circle cx="166.8" cy="186.6" r="1.45" fill="#a4243b"/>
<circle cx="170.2" cy="186.6" r="1.45" fill="#a4243b"/>
<line x1="159.4" y1="154.5" x2="173.1" y2="154.5" stroke="#111" stroke-width="0.9"/>
<rect x="182.95" y="153.55" width="2.9" height="2.9" fill="#3d5d8f"/>
<rect x="193.55" y="153.55" width="2.9" height="2.9" fill="#3d5d8f"/>
<rect x="186.55" y="156.55" width="2.9" height="2.9" fill="#3d5d8f"/>
<rect x="190.55" y="156.55" width="2.9" height="2.9" fill="#3d5d8f"/>
<rect x="182.55" y="161.55" width="2.9" height="2.9" fill="#3d5d8f"/>
<rect x="186.55" y="162.55" width="2.9" height="2.9" fill="#3d5d8f"/>
<rect x="190.55" y="161.55" width="2.9" height="2.9" fill="#3d5d8f"/>
<rect x="188.55" y="164.05" width="2.9" height="2.9" fill="#3d5d8f"/>
<rect x="188.05" y="168.55" width="2.9" height="2.9" fill="#3d5d8f"/>
<rect x="184.55" y="159.55" width="2.9" height="2.9" fill="#3d5d8f"/>
<rect x="191.55" y="159.55" width="2.9" height="2.9" fill="#3d5d8f"/>
<rect x="183" y="185.3" width="13" height="2.6" fill="#3d5d8f"/>
<line x1="182.5" y1="160.3" x2="196" y2="160.3" stroke="#111" stroke-width="0.9"/>
<path d="M207 151.17L208.67 154.22L205.33 154.22Z" fill="#6db04f"/>
<path d="M214 150.67L215.67 153.72L212.33 153.72Z" fill="#6db04f"/>
<path d="M210 154.17L211.67 157.22L208.33 157.22Z" fill="#6db04f"/>
<path d="M215 154.17L216.67 157.22L213.33 157.22Z" fill="#6db04f"/>
<path d="M208 157.67L209.67 160.72L206.33 160.72Z" fill="#6db04f"/>
<path d="M213 158.17L214.67 161.22L211.33 161.22Z" fill="#6db04f"/>
<path d="M217 157.17L218.67 160.22L215.33 160.22Z" fill="#6db04f"/>
<path d="M211 160.17L212.67 163.22L209.33 163.22Z" fill="#6db04f"/>
<path d="M212.5 169.17L214.17 172.22L210.83 172.22Z" fill="#6db04f"/>
<path d="M207 184.57L208.67 187.62L205.33 187.62Z" fill="#6db04f"/>
<path d="M210.5 184.57L212.17 187.62L208.83 187.62Z" fill="#6db04f"/>
<path d="M214 184.57L215.67 187.62L212.33 187.62Z" fill="#6db04f"/>
<path d="M217.5 184.57L219.17 187.62L215.83 187.62Z" fill="#6db04f"/>
<line x1="205" y1="158.4" x2="219" y2="158.4" stroke="#111" stroke-width="0.9"/>
<line x1="290.5" y1="123.5" x2="290.5" y2="186.8" stroke="#1c1c1c" stroke-width="1.1"/>
<line x1="290" y1="186.3" x2="356" y2="186.3" stroke="#1c1c1c" stroke-width="1.1"/>
<line x1="287.1" y1="186.3" x2="290.5" y2="186.3" stroke="#1c1c1c" stroke-width="0.9"/>
<text x="281.2" y="188.75" font-size="6.8" text-anchor="end" textLength="6" lengthAdjust="spacingAndGlyphs" fill="#333">10</text>
<text x="281.4" y="185.89" font-size="4.01" fill="#888">0</text>
<line x1="289" y1="183.71" x2="290.5" y2="183.71" stroke="#1c1c1c" stroke-width="0.5" opacity="0.8"/>
<line x1="289" y1="182.2" x2="290.5" y2="182.2" stroke="#1c1c1c" stroke-width="0.5" opacity="0.8"/>
<line x1="289" y1="181.12" x2="290.5" y2="181.12" stroke="#1c1c1c" stroke-width="0.5" opacity="0.8"/>
<line x1="289" y1="180.29" x2="290.5" y2="180.29" stroke="#1c1c1c" stroke-width="0.5" opacity="0.8"/>
<line x1="289" y1="179.61" x2="290.5" y2="179.61" stroke="#1c1c1c" stroke-width="0.5" opacity="0.8"/>
<line x1="289" y1="179.03" x2="290.5" y2="179.03" stroke="#1c1c1c" stroke-width="0.5" opacity="0.8"/>
<line x1="289" y1="178.53" x2="290.5" y2="178.53" stroke="#1c1c1c" stroke-width="0.5" opacity="0.8"/>
<line x1="289" y1="178.09" x2="290.5" y2="178.09" stroke="#1c1c1c" stroke-width="0.5" opacity="0.8"/>
<line x1="287.1" y1="177.7" x2="290.5" y2="177.7" stroke="#1c1c1c" stroke-width="0.9"/>
<text x="281.2" y="180.15" font-size="6.8" text-anchor="end" textLength="6" lengthAdjust="spacingAndGlyphs" fill="#333">10</text>
<text x="281.4" y="177.29" font-size="4.01" fill="#888">1</text>
<line x1="289" y1="175.11" x2="290.5" y2="175.11" stroke="#1c1c1c" stroke-width="0.5" opacity="0.8"/>
<line x1="289" y1="173.6" x2="290.5" y2="173.6" stroke="#1c1c1c" stroke-width="0.5" opacity="0.8"/>
<line x1="289" y1="172.52" x2="290.5" y2="172.52" stroke="#1c1c1c" stroke-width="0.5" opacity="0.8"/>
<line x1="289" y1="171.69" x2="290.5" y2="171.69" stroke="#1c1c1c" stroke-width="0.5" opacity="0.8"/>
<line x1="289" y1="171.01" x2="290.5" y2="171.01" stroke="#1c1c1c" stroke-width="0.5" opacity="0.8"/>
<line x1="289" y1="170.43" x2="290.5" y2="170.43" stroke="#1c1c1c" stroke-width="0.5" opacity="0.8"/>
<line x1="289" y1="169.93" x2="290.5" y2="169.93" stroke="#1c1c1c" stroke-width="0.5" opacity="0.8"/>
<line x1="289" y1="169.49" x2="290.5" y2="169.49" stroke="#1c1c1c" stroke-width="0.5" opacity="0.8"/>
<line x1="287.1" y1="169.1" x2="290.5" y2="169.1" stroke="#1c1c1c" stroke-width="0.9"/>
<text x="281.2" y="171.55" font-size="6.8" text-anchor="end" textLength="6" lengthAdjust="spacingAndGlyphs" fill="#333">10</text>
<text x="281.4" y="168.69" font-size="4.01" fill="#888">2</text>
<line x1="289" y1="166.51" x2="290.5" y2="166.51" stroke="#1c1c1c" stroke-width="0.5" opacity="0.8"/>
<line x1="289" y1="165" x2="290.5" y2="165" stroke="#1c1c1c" stroke-width="0.5" opacity="0.8"/>
<line x1="289" y1="163.92" x2="290.5" y2="163.92" stroke="#1c1c1c" stroke-width="0.5" opacity="0.8"/>
<line x1="289" y1="163.09" x2="290.5" y2="163.09" stroke="#1c1c1c" stroke-width="0.5" opacity="0.8"/>
<line x1="289" y1="162.41" x2="290.5" y2="162.41" stroke="#1c1c1c" stroke-width="0.5" opacity="0.8"/>
<line x1="289" y1="161.83" x2="290.5" y2="161.83" stroke="#1c1c1c" stroke-width="0.5" opacity="0.8"/>
<line x1="289" y1="161.33" x2="290.5" y2="161.33" stroke="#1c1c1c" stroke-width="0.5" opacity="0.8"/>
<line x1="289" y1="160.89" x2="290.5" y2="160.89" stroke="#1c1c1c" stroke-width="0.5" opacity="0.8"/>
<line x1="287.1" y1="160.5" x2="290.5" y2="160.5" stroke="#1c1c1c" stroke-width="0.9"/>
<text x="281.2" y="162.95" font-size="6.8" text-anchor="end" textLength="6" lengthAdjust="spacingAndGlyphs" fill="#333">10</text>
<text x="281.4" y="160.09" font-size="4.01" fill="#888">3</text>
<line x1="289" y1="157.91" x2="290.5" y2="157.91" stroke="#1c1c1c" stroke-width="0.5" opacity="0.8"/>
<line x1="289" y1="156.4" x2="290.5" y2="156.4" stroke="#1c1c1c" stroke-width="0.5" opacity="0.8"/>
<line x1="289" y1="155.32" x2="290.5" y2="155.32" stroke="#1c1c1c" stroke-width="0.5" opacity="0.8"/>
<line x1="289" y1="154.49" x2="290.5" y2="154.49" stroke="#1c1c1c" stroke-width="0.5" opacity="0.8"/>
<line x1="289" y1="153.81" x2="290.5" y2="153.81" stroke="#1c1c1c" stroke-width="0.5" opacity="0.8"/>
<line x1="289" y1="153.23" x2="290.5" y2="153.23" stroke="#1c1c1c" stroke-width="0.5" opacity="0.8"/>
<line x1="289" y1="152.73" x2="290.5" y2="152.73" stroke="#1c1c1c" stroke-width="0.5" opacity="0.8"/>
<line x1="289" y1="152.29" x2="290.5" y2="152.29" stroke="#1c1c1c" stroke-width="0.5" opacity="0.8"/>
<line x1="287.1" y1="151.9" x2="290.5" y2="151.9" stroke="#1c1c1c" stroke-width="0.9"/>
<text x="281.2" y="154.35" font-size="6.8" text-anchor="end" textLength="6" lengthAdjust="spacingAndGlyphs" fill="#333">10</text>
<text x="281.4" y="151.49" font-size="4.01" fill="#888">4</text>
<line x1="289" y1="149.31" x2="290.5" y2="149.31" stroke="#1c1c1c" stroke-width="0.5" opacity="0.8"/>
<line x1="289" y1="147.8" x2="290.5" y2="147.8" stroke="#1c1c1c" stroke-width="0.5" opacity="0.8"/>
<line x1="289" y1="146.72" x2="290.5" y2="146.72" stroke="#1c1c1c" stroke-width="0.5" opacity="0.8"/>
<line x1="289" y1="145.89" x2="290.5" y2="145.89" stroke="#1c1c1c" stroke-width="0.5" opacity="0.8"/>
<line x1="289" y1="145.21" x2="290.5" y2="145.21" stroke="#1c1c1c" stroke-width="0.5" opacity="0.8"/>
<line x1="289" y1="144.63" x2="290.5" y2="144.63" stroke="#1c1c1c" stroke-width="0.5" opacity="0.8"/>
<line x1="289" y1="144.13" x2="290.5" y2="144.13" stroke="#1c1c1c" stroke-width="0.5" opacity="0.8"/>
<line x1="289" y1="143.69" x2="290.5" y2="143.69" stroke="#1c1c1c" stroke-width="0.5" opacity="0.8"/>
<line x1="287.1" y1="143.3" x2="290.5" y2="143.3" stroke="#1c1c1c" stroke-width="0.9"/>
<text x="281.2" y="145.75" font-size="6.8" text-anchor="end" textLength="6" lengthAdjust="spacingAndGlyphs" fill="#333">10</text>
<text x="281.4" y="142.89" font-size="4.01" fill="#888">5</text>
<line x1="289" y1="140.71" x2="290.5" y2="140.71" stroke="#1c1c1c" stroke-width="0.5" opacity="0.8"/>
<line x1="289" y1="139.2" x2="290.5" y2="139.2" stroke="#1c1c1c" stroke-width="0.5" opacity="0.8"/>
<line x1="289" y1="138.12" x2="290.5" y2="138.12" stroke="#1c1c1c" stroke-width="0.5" opacity="0.8"/>
<line x1="289" y1="137.29" x2="290.5" y2="137.29" stroke="#1c1c1c" stroke-width="0.5" opacity="0.8"/>
<line x1="289" y1="136.61" x2="290.5" y2="136.61" stroke="#1c1c1c" stroke-width="0.5" opacity="0.8"/>
<line x1="289" y1="136.03" x2="290.5" y2="136.03" stroke="#1c1c1c" stroke-width="0.5" opacity="0.8"/>
<line x1="289" y1="135.53" x2="290.5" y2="135.53" stroke="#1c1c1c" stroke-width="0.5" opacity="0.8"/>
<line x1="289" y1="135.09" x2="290.5" y2="135.09" stroke="#1c1c1c" stroke-width="0.5" opacity="0.8"/>
<line x1="287.1" y1="134.7" x2="290.5" y2="134.7" stroke="#1c1c1c" stroke-width="0.9"/>
<text x="281.2" y="137.15" font-size="6.8" text-anchor="end" textLength="6" lengthAdjust="spacingAndGlyphs" fill="#333">10</text>
<text x="281.4" y="134.29" font-size="4.01" fill="#888">6</text>
<line x1="289" y1="132.11" x2="290.5" y2="132.11" stroke="#1c1c1c" stroke-width="0.5" opacity="0.8"/>
<line x1="289" y1="130.6" x2="290.5" y2="130.6" stroke="#1c1c1c" stroke-width="0.5" opacity="0.8"/>
<line x1="289" y1="129.52" x2="290.5" y2="129.52" stroke="#1c1c1c" stroke-width="0.5" opacity="0.8"/>
<line x1="289" y1="128.69" x2="290.5" y2="128.69" stroke="#1c1c1c" stroke-width="0.5" opacity="0.8"/>
<line x1="289" y1="128.01" x2="290.5" y2="128.01" stroke="#1c1c1c" stroke-width="0.5" opacity="0.8"/>
<line x1="289" y1="127.43" x2="290.5" y2="127.43" stroke="#1c1c1c" stroke-width="0.5" opacity="0.8"/>
<line x1="289" y1="126.93" x2="290.5" y2="126.93" stroke="#1c1c1c" stroke-width="0.5" opacity="0.8"/>
<line x1="289" y1="126.49" x2="290.5" y2="126.49" stroke="#1c1c1c" stroke-width="0.5" opacity="0.8"/>
<line x1="287.1" y1="126.1" x2="290.5" y2="126.1" stroke="#1c1c1c" stroke-width="0.9"/>
<text x="281.2" y="128.55" font-size="6.8" text-anchor="end" textLength="6" lengthAdjust="spacingAndGlyphs" fill="#333">10</text>
<text x="281.4" y="125.69" font-size="4.01" fill="#888">7</text>
<text x="303.7" y="118.6" font-size="8.6" style="stroke-width:0.14px" textLength="33.8" lengthAdjust="spacingAndGlyphs">blood w4</text>
<text x="300.4" y="193.9" font-size="6.6" text-anchor="middle" textLength="10.4" lengthAdjust="spacingAndGlyphs">PBS</text>
<text x="323.1" y="193.9" font-size="6.6" text-anchor="middle" textLength="20.6" lengthAdjust="spacingAndGlyphs">IFNα14</text>
<text x="348.9" y="193.9" font-size="6.6" text-anchor="middle" textLength="20.6" lengthAdjust="spacingAndGlyphs">IFNα17</text>
<circle cx="297.7" cy="141" r="1.45" fill="#a4243b"/>
<circle cx="301.5" cy="140.8" r="1.45" fill="#a4243b"/>
<circle cx="296" cy="143.5" r="1.45" fill="#a4243b"/>
<circle cx="300.1" cy="143.5" r="1.45" fill="#a4243b"/>
<circle cx="302" cy="145.9" r="1.45" fill="#a4243b"/>
<circle cx="299.4" cy="146.4" r="1.45" fill="#a4243b"/>
<circle cx="297.4" cy="149.5" r="1.45" fill="#a4243b"/>
<circle cx="301.5" cy="149.9" r="1.45" fill="#a4243b"/>
<circle cx="298.5" cy="151.5" r="1.45" fill="#a4243b"/>
<circle cx="300.8" cy="151.5" r="1.45" fill="#a4243b"/>
<circle cx="296.7" cy="153.6" r="1.45" fill="#a4243b"/>
<circle cx="302.8" cy="153.6" r="1.45" fill="#a4243b"/>
<circle cx="294.7" cy="157.6" r="1.45" fill="#a4243b"/>
<circle cx="297.7" cy="158" r="1.45" fill="#a4243b"/>
<circle cx="301.5" cy="158.3" r="1.45" fill="#a4243b"/>
<circle cx="304.8" cy="157.6" r="1.45" fill="#a4243b"/>
<circle cx="299.8" cy="165.7" r="1.45" fill="#a4243b"/>
<circle cx="299.8" cy="170.1" r="1.45" fill="#a4243b"/>
<circle cx="297.7" cy="186.3" r="1.45" fill="#a4243b"/>
<circle cx="301.5" cy="186.3" r="1.45" fill="#a4243b"/>
<line x1="293.1" y1="148.2" x2="306.8" y2="148.2" stroke="#111" stroke-width="0.9"/>
<rect x="321.25" y="139.35" width="2.9" height="2.9" fill="#3d5d8f"/>
<rect x="317.55" y="145.35" width="2.9" height="2.9" fill="#3d5d8f"/>
<rect x="325.55" y="144.75" width="2.9" height="2.9" fill="#3d5d8f"/>
<rect x="315.45" y="148.05" width="2.9" height="2.9" fill="#3d5d8f"/>
<rect x="319.55" y="146.75" width="2.9" height="2.9" fill="#3d5d8f"/>
<rect x="323.55" y="149.45" width="2.9" height="2.9" fill="#3d5d8f"/>
<rect x="326.95" y="148.75" width="2.9" height="2.9" fill="#3d5d8f"/>
<rect x="318.85" y="151.45" width="2.9" height="2.9" fill="#3d5d8f"/>
<rect x="322.85" y="151.65" width="2.9" height="2.9" fill="#3d5d8f"/>
<rect x="319.55" y="157.45" width="2.9" height="2.9" fill="#3d5d8f"/>
<rect x="322.85" y="157.85" width="2.9" height="2.9" fill="#3d5d8f"/>
<rect x="316.9" y="185" width="12.1" height="2.6" fill="#3d5d8f"/>
<line x1="316" y1="148.8" x2="329.7" y2="148.8" stroke="#111" stroke-width="0.9"/>
<path d="M345.9 137.57L347.57 140.62L344.23 140.62Z" fill="#6db04f"/>
<path d="M344.5 142.97L346.17 146.02L342.83 146.02Z" fill="#6db04f"/>
<path d="M346.5 142.27L348.17 145.32L344.83 145.32Z" fill="#6db04f"/>
<path d="M341.8 147.67L343.47 150.72L340.13 150.72Z" fill="#6db04f"/>
<path d="M347.2 148.07L348.87 151.12L345.53 151.12Z" fill="#6db04f"/>
<path d="M343.2 151.77L344.87 154.82L341.53 154.82Z" fill="#6db04f"/>
<path d="M348.6 152.17L350.27 155.22L346.93 155.22Z" fill="#6db04f"/>
<path d="M345.2 153.07L346.87 156.12L343.53 156.12Z" fill="#6db04f"/>
<path d="M343.9 149.67L345.57 152.72L342.23 152.72Z" fill="#6db04f"/>
<path d="M340.9 184.37L342.57 187.42L339.23 187.42Z" fill="#6db04f"/>
<path d="M344.3 184.37L345.97 187.42L342.63 187.42Z" fill="#6db04f"/>
<path d="M347.6 184.37L349.27 187.42L345.93 187.42Z" fill="#6db04f"/>
<path d="M351 184.37L352.67 187.42L349.33 187.42Z" fill="#6db04f"/>
<line x1="339.1" y1="147.2" x2="352.9" y2="147.2" stroke="#111" stroke-width="0.9"/>
<line x1="422.9" y1="124.2" x2="422.9" y2="186.8" stroke="#1c1c1c" stroke-width="1.1"/>
<line x1="422.4" y1="186.3" x2="488.8" y2="186.3" stroke="#1c1c1c" stroke-width="1.1"/>
<line x1="419.5" y1="186.3" x2="422.9" y2="186.3" stroke="#1c1c1c" stroke-width="0.9"/>
<text x="413.6" y="188.75" font-size="6.8" text-anchor="end" textLength="6" lengthAdjust="spacingAndGlyphs" fill="#333">10</text>
<text x="413.8" y="185.89" font-size="4.01" fill="#888">0</text>
<line x1="421.4" y1="183.74" x2="422.9" y2="183.74" stroke="#1c1c1c" stroke-width="0.5" opacity="0.8"/>
<line x1="421.4" y1="182.24" x2="422.9" y2="182.24" stroke="#1c1c1c" stroke-width="0.5" opacity="0.8"/>
<line x1="421.4" y1="181.18" x2="422.9" y2="181.18" stroke="#1c1c1c" stroke-width="0.5" opacity="0.8"/>
<line x1="421.4" y1="180.36" x2="422.9" y2="180.36" stroke="#1c1c1c" stroke-width="0.5" opacity="0.8"/>
<line x1="421.4" y1="179.69" x2="422.9" y2="179.69" stroke="#1c1c1c" stroke-width="0.5" opacity="0.8"/>
<line x1="421.4" y1="179.12" x2="422.9" y2="179.12" stroke="#1c1c1c" stroke-width="0.5" opacity="0.8"/>
<line x1="421.4" y1="178.62" x2="422.9" y2="178.62" stroke="#1c1c1c" stroke-width="0.5" opacity="0.8"/>
<line x1="421.4" y1="178.19" x2="422.9" y2="178.19" stroke="#1c1c1c" stroke-width="0.5" opacity="0.8"/>
<line x1="419.5" y1="177.8" x2="422.9" y2="177.8" stroke="#1c1c1c" stroke-width="0.9"/>
<text x="413.6" y="180.25" font-size="6.8" text-anchor="end" textLength="6" lengthAdjust="spacingAndGlyphs" fill="#333">10</text>
<text x="413.8" y="177.39" font-size="4.01" fill="#888">1</text>
<line x1="421.4" y1="175.24" x2="422.9" y2="175.24" stroke="#1c1c1c" stroke-width="0.5" opacity="0.8"/>
<line x1="421.4" y1="173.74" x2="422.9" y2="173.74" stroke="#1c1c1c" stroke-width="0.5" opacity="0.8"/>
<line x1="421.4" y1="172.68" x2="422.9" y2="172.68" stroke="#1c1c1c" stroke-width="0.5" opacity="0.8"/>
<line x1="421.4" y1="171.86" x2="422.9" y2="171.86" stroke="#1c1c1c" stroke-width="0.5" opacity="0.8"/>
<line x1="421.4" y1="171.19" x2="422.9" y2="171.19" stroke="#1c1c1c" stroke-width="0.5" opacity="0.8"/>
<line x1="421.4" y1="170.62" x2="422.9" y2="170.62" stroke="#1c1c1c" stroke-width="0.5" opacity="0.8"/>
<line x1="421.4" y1="170.12" x2="422.9" y2="170.12" stroke="#1c1c1c" stroke-width="0.5" opacity="0.8"/>
<line x1="421.4" y1="169.69" x2="422.9" y2="169.69" stroke="#1c1c1c" stroke-width="0.5" opacity="0.8"/>
<line x1="419.5" y1="169.3" x2="422.9" y2="169.3" stroke="#1c1c1c" stroke-width="0.9"/>
<text x="413.6" y="171.75" font-size="6.8" text-anchor="end" textLength="6" lengthAdjust="spacingAndGlyphs" fill="#333">10</text>
<text x="413.8" y="168.89" font-size="4.01" fill="#888">2</text>
<line x1="421.4" y1="166.74" x2="422.9" y2="166.74" stroke="#1c1c1c" stroke-width="0.5" opacity="0.8"/>
<line x1="421.4" y1="165.24" x2="422.9" y2="165.24" stroke="#1c1c1c" stroke-width="0.5" opacity="0.8"/>
<line x1="421.4" y1="164.18" x2="422.9" y2="164.18" stroke="#1c1c1c" stroke-width="0.5" opacity="0.8"/>
<line x1="421.4" y1="163.36" x2="422.9" y2="163.36" stroke="#1c1c1c" stroke-width="0.5" opacity="0.8"/>
<line x1="421.4" y1="162.69" x2="422.9" y2="162.69" stroke="#1c1c1c" stroke-width="0.5" opacity="0.8"/>
<line x1="421.4" y1="162.12" x2="422.9" y2="162.12" stroke="#1c1c1c" stroke-width="0.5" opacity="0.8"/>
<line x1="421.4" y1="161.62" x2="422.9" y2="161.62" stroke="#1c1c1c" stroke-width="0.5" opacity="0.8"/>
<line x1="421.4" y1="161.19" x2="422.9" y2="161.19" stroke="#1c1c1c" stroke-width="0.5" opacity="0.8"/>
<line x1="419.5" y1="160.8" x2="422.9" y2="160.8" stroke="#1c1c1c" stroke-width="0.9"/>
<text x="413.6" y="163.25" font-size="6.8" text-anchor="end" textLength="6" lengthAdjust="spacingAndGlyphs" fill="#333">10</text>
<text x="413.8" y="160.39" font-size="4.01" fill="#888">3</text>
<line x1="421.4" y1="158.24" x2="422.9" y2="158.24" stroke="#1c1c1c" stroke-width="0.5" opacity="0.8"/>
<line x1="421.4" y1="156.74" x2="422.9" y2="156.74" stroke="#1c1c1c" stroke-width="0.5" opacity="0.8"/>
<line x1="421.4" y1="155.68" x2="422.9" y2="155.68" stroke="#1c1c1c" stroke-width="0.5" opacity="0.8"/>
<line x1="421.4" y1="154.86" x2="422.9" y2="154.86" stroke="#1c1c1c" stroke-width="0.5" opacity="0.8"/>
<line x1="421.4" y1="154.19" x2="422.9" y2="154.19" stroke="#1c1c1c" stroke-width="0.5" opacity="0.8"/>
<line x1="421.4" y1="153.62" x2="422.9" y2="153.62" stroke="#1c1c1c" stroke-width="0.5" opacity="0.8"/>
<line x1="421.4" y1="153.12" x2="422.9" y2="153.12" stroke="#1c1c1c" stroke-width="0.5" opacity="0.8"/>
<line x1="421.4" y1="152.69" x2="422.9" y2="152.69" stroke="#1c1c1c" stroke-width="0.5" opacity="0.8"/>
<line x1="419.5" y1="152.3" x2="422.9" y2="152.3" stroke="#1c1c1c" stroke-width="0.9"/>
<text x="413.6" y="154.75" font-size="6.8" text-anchor="end" textLength="6" lengthAdjust="spacingAndGlyphs" fill="#333">10</text>
<text x="413.8" y="151.89" font-size="4.01" fill="#888">4</text>
<line x1="421.4" y1="149.74" x2="422.9" y2="149.74" stroke="#1c1c1c" stroke-width="0.5" opacity="0.8"/>
<line x1="421.4" y1="148.24" x2="422.9" y2="148.24" stroke="#1c1c1c" stroke-width="0.5" opacity="0.8"/>
<line x1="421.4" y1="147.18" x2="422.9" y2="147.18" stroke="#1c1c1c" stroke-width="0.5" opacity="0.8"/>
<line x1="421.4" y1="146.36" x2="422.9" y2="146.36" stroke="#1c1c1c" stroke-width="0.5" opacity="0.8"/>
<line x1="421.4" y1="145.69" x2="422.9" y2="145.69" stroke="#1c1c1c" stroke-width="0.5" opacity="0.8"/>
<line x1="421.4" y1="145.12" x2="422.9" y2="145.12" stroke="#1c1c1c" stroke-width="0.5" opacity="0.8"/>
<line x1="421.4" y1="144.62" x2="422.9" y2="144.62" stroke="#1c1c1c" stroke-width="0.5" opacity="0.8"/>
<line x1="421.4" y1="144.19" x2="422.9" y2="144.19" stroke="#1c1c1c" stroke-width="0.5" opacity="0.8"/>
<line x1="419.5" y1="143.8" x2="422.9" y2="143.8" stroke="#1c1c1c" stroke-width="0.9"/>
<text x="413.6" y="146.25" font-size="6.8" text-anchor="end" textLength="6" lengthAdjust="spacingAndGlyphs" fill="#333">10</text>
<text x="413.8" y="143.39" font-size="4.01" fill="#888">5</text>
<line x1="421.4" y1="141.24" x2="422.9" y2="141.24" stroke="#1c1c1c" stroke-width="0.5" opacity="0.8"/>
<line x1="421.4" y1="139.74" x2="422.9" y2="139.74" stroke="#1c1c1c" stroke-width="0.5" opacity="0.8"/>
<line x1="421.4" y1="138.68" x2="422.9" y2="138.68" stroke="#1c1c1c" stroke-width="0.5" opacity="0.8"/>
<line x1="421.4" y1="137.86" x2="422.9" y2="137.86" stroke="#1c1c1c" stroke-width="0.5" opacity="0.8"/>
<line x1="421.4" y1="137.19" x2="422.9" y2="137.19" stroke="#1c1c1c" stroke-width="0.5" opacity="0.8"/>
<line x1="421.4" y1="136.62" x2="422.9" y2="136.62" stroke="#1c1c1c" stroke-width="0.5" opacity="0.8"/>
<line x1="421.4" y1="136.12" x2="422.9" y2="136.12" stroke="#1c1c1c" stroke-width="0.5" opacity="0.8"/>
<line x1="421.4" y1="135.69" x2="422.9" y2="135.69" stroke="#1c1c1c" stroke-width="0.5" opacity="0.8"/>
<line x1="419.5" y1="135.3" x2="422.9" y2="135.3" stroke="#1c1c1c" stroke-width="0.9"/>
<text x="413.6" y="137.75" font-size="6.8" text-anchor="end" textLength="6" lengthAdjust="spacingAndGlyphs" fill="#333">10</text>
<text x="413.8" y="134.89" font-size="4.01" fill="#888">6</text>
<line x1="421.4" y1="132.74" x2="422.9" y2="132.74" stroke="#1c1c1c" stroke-width="0.5" opacity="0.8"/>
<line x1="421.4" y1="131.24" x2="422.9" y2="131.24" stroke="#1c1c1c" stroke-width="0.5" opacity="0.8"/>
<line x1="421.4" y1="130.18" x2="422.9" y2="130.18" stroke="#1c1c1c" stroke-width="0.5" opacity="0.8"/>
<line x1="421.4" y1="129.36" x2="422.9" y2="129.36" stroke="#1c1c1c" stroke-width="0.5" opacity="0.8"/>
<line x1="421.4" y1="128.69" x2="422.9" y2="128.69" stroke="#1c1c1c" stroke-width="0.5" opacity="0.8"/>
<line x1="421.4" y1="128.12" x2="422.9" y2="128.12" stroke="#1c1c1c" stroke-width="0.5" opacity="0.8"/>
<line x1="421.4" y1="127.62" x2="422.9" y2="127.62" stroke="#1c1c1c" stroke-width="0.5" opacity="0.8"/>
<line x1="421.4" y1="127.19" x2="422.9" y2="127.19" stroke="#1c1c1c" stroke-width="0.5" opacity="0.8"/>
<line x1="419.5" y1="126.8" x2="422.9" y2="126.8" stroke="#1c1c1c" stroke-width="0.9"/>
<text x="413.6" y="129.25" font-size="6.8" text-anchor="end" textLength="6" lengthAdjust="spacingAndGlyphs" fill="#333">10</text>
<text x="413.8" y="126.39" font-size="4.01" fill="#888">7</text>
<text x="437.5" y="118.6" font-size="8.6" style="stroke-width:0.14px" textLength="33.8" lengthAdjust="spacingAndGlyphs">blood w5</text>
<text x="433.1" y="193.9" font-size="6.6" text-anchor="middle" textLength="10.4" lengthAdjust="spacingAndGlyphs">PBS</text>
<text x="455.7" y="193.9" font-size="6.6" text-anchor="middle" textLength="20.6" lengthAdjust="spacingAndGlyphs">IFNα14</text>
<text x="482.5" y="193.9" font-size="6.6" text-anchor="middle" textLength="20.6" lengthAdjust="spacingAndGlyphs">IFNα17</text>
<circle cx="433.1" cy="140.1" r="1.45" fill="#a4243b"/>
<circle cx="428.1" cy="142.8" r="1.45" fill="#a4243b"/>
<circle cx="437.5" cy="141.4" r="1.45" fill="#a4243b"/>
<circle cx="430.8" cy="144.1" r="1.45" fill="#a4243b"/>
<circle cx="434.1" cy="144.1" r="1.45" fill="#a4243b"/>
<circle cx="427.4" cy="145.5" r="1.45" fill="#a4243b"/>
<circle cx="432.1" cy="146.2" r="1.45" fill="#a4243b"/>
<circle cx="436.2" cy="145.9" r="1.45" fill="#a4243b"/>
<circle cx="429.4" cy="147.5" r="1.45" fill="#a4243b"/>
<circle cx="433.5" cy="148.2" r="1.45" fill="#a4243b"/>
<circle cx="429.4" cy="150.9" r="1.45" fill="#a4243b"/>
<circle cx="436.8" cy="151.5" r="1.45" fill="#a4243b"/>
<circle cx="432.8" cy="153.1" r="1.45" fill="#a4243b"/>
<circle cx="430.8" cy="157.3" r="1.45" fill="#a4243b"/>
<circle cx="434.5" cy="160.3" r="1.45" fill="#a4243b"/>
<circle cx="432.8" cy="186.3" r="1.45" fill="#a4243b"/>
<line x1="426" y1="145.5" x2="439.9" y2="145.5" stroke="#111" stroke-width="0.9"/>
<rect x="449.55" y="141.35" width="2.9" height="2.9" fill="#3d5d8f"/>
<rect x="453.85" y="139.35" width="2.9" height="2.9" fill="#3d5d8f"/>
<rect x="456.95" y="139.95" width="2.9" height="2.9" fill="#3d5d8f"/>
<rect x="460.25" y="141.65" width="2.9" height="2.9" fill="#3d5d8f"/>
<rect x="452.15" y="142.05" width="2.9" height="2.9" fill="#3d5d8f"/>
<rect x="454.85" y="143.35" width="2.9" height="2.9" fill="#3d5d8f"/>
<rect x="452.85" y="145.35" width="2.9" height="2.9" fill="#3d5d8f"/>
<rect x="449.55" y="148.75" width="2.9" height="2.9" fill="#3d5d8f"/>
<rect x="452.85" y="149.45" width="2.9" height="2.9" fill="#3d5d8f"/>
<rect x="456.25" y="149.45" width="2.9" height="2.9" fill="#3d5d8f"/>
<rect x="458.95" y="148.75" width="2.9" height="2.9" fill="#3d5d8f"/>
<rect x="454.25" y="157.05" width="2.9" height="2.9" fill="#3d5d8f"/>
<rect x="454.65" y="163.85" width="2.9" height="2.9" fill="#3d5d8f"/>
<rect x="452.15" y="184.85" width="2.9" height="2.9" fill="#3d5d8f"/>
<rect x="456.95" y="184.85" width="2.9" height="2.9" fill="#3d5d8f"/>
<line x1="449.3" y1="146.2" x2="462.8" y2="146.2" stroke="#111" stroke-width="0.9"/>
<path d="M478.8 139.57L480.47 142.62L477.13 142.62Z" fill="#6db04f"/>
<path d="M479.2 144.57L480.87 147.62L477.53 147.62Z" fill="#6db04f"/>
<path d="M475.2 147.67L476.87 150.72L473.53 150.72Z" fill="#6db04f"/>
<path d="M481.2 149.67L482.87 152.72L479.53 152.72Z" fill="#6db04f"/>
<path d="M473.8 151.07L475.47 154.12L472.13 154.12Z" fill="#6db04f"/>
<path d="M479.2 150.37L480.87 153.42L477.53 153.42Z" fill="#6db04f"/>
<path d="M483.9 152.77L485.57 155.82L482.23 155.82Z" fill="#6db04f"/>
<path d="M477.9 153.07L479.57 156.12L476.23 156.12Z" fill="#6db04f"/>
<path d="M480.6 155.77L482.27 158.82L478.93 158.82Z" fill="#6db04f"/>
<path d="M477.2 157.77L478.87 160.82L475.53 160.82Z" fill="#6db04f"/>
<path d="M478.8 172.27L480.47 175.32L477.13 175.32Z" fill="#6db04f"/>
<path d="M478.8 184.47L480.47 187.52L477.13 187.52Z" fill="#6db04f"/>
<line x1="471.8" y1="148.8" x2="486.2" y2="148.8" stroke="#555" stroke-width="0.9"/>
<line x1="33.5" y1="223.48" x2="33.5" y2="287.2" stroke="#1c1c1c" stroke-width="1.1"/>
<line x1="33" y1="286.7" x2="124" y2="286.7" stroke="#1c1c1c" stroke-width="1.1"/>
<line x1="30.1" y1="286.7" x2="33.5" y2="286.7" stroke="#1c1c1c" stroke-width="0.9"/>
<text x="24.2" y="289.15" font-size="6.8" text-anchor="end" textLength="6" lengthAdjust="spacingAndGlyphs" fill="#333">10</text>
<text x="24.4" y="286.29" font-size="4.01" fill="#888">0</text>
<line x1="32" y1="284.09" x2="33.5" y2="284.09" stroke="#1c1c1c" stroke-width="0.5" opacity="0.8"/>
<line x1="32" y1="282.57" x2="33.5" y2="282.57" stroke="#1c1c1c" stroke-width="0.5" opacity="0.8"/>
<line x1="32" y1="281.49" x2="33.5" y2="281.49" stroke="#1c1c1c" stroke-width="0.5" opacity="0.8"/>
<line x1="32" y1="280.65" x2="33.5" y2="280.65" stroke="#1c1c1c" stroke-width="0.5" opacity="0.8"/>
<line x1="32" y1="279.96" x2="33.5" y2="279.96" stroke="#1c1c1c" stroke-width="0.5" opacity="0.8"/>
<line x1="32" y1="279.38" x2="33.5" y2="279.38" stroke="#1c1c1c" stroke-width="0.5" opacity="0.8"/>
<line x1="32" y1="278.88" x2="33.5" y2="278.88" stroke="#1c1c1c" stroke-width="0.5" opacity="0.8"/>
<line x1="32" y1="278.44" x2="33.5" y2="278.44" stroke="#1c1c1c" stroke-width="0.5" opacity="0.8"/>
<line x1="30.1" y1="278.04" x2="33.5" y2="278.04" stroke="#1c1c1c" stroke-width="0.9"/>
<text x="24.2" y="280.49" font-size="6.8" text-anchor="end" textLength="6" lengthAdjust="spacingAndGlyphs" fill="#333">10</text>
<text x="24.4" y="277.63" font-size="4.01" fill="#888">1</text>
<line x1="32" y1="275.43" x2="33.5" y2="275.43" stroke="#1c1c1c" stroke-width="0.5" opacity="0.8"/>
<line x1="32" y1="273.91" x2="33.5" y2="273.91" stroke="#1c1c1c" stroke-width="0.5" opacity="0.8"/>
<line x1="32" y1="272.83" x2="33.5" y2="272.83" stroke="#1c1c1c" stroke-width="0.5" opacity="0.8"/>
<line x1="32" y1="271.99" x2="33.5" y2="271.99" stroke="#1c1c1c" stroke-width="0.5" opacity="0.8"/>
<line x1="32" y1="271.3" x2="33.5" y2="271.3" stroke="#1c1c1c" stroke-width="0.5" opacity="0.8"/>
<line x1="32" y1="270.72" x2="33.5" y2="270.72" stroke="#1c1c1c" stroke-width="0.5" opacity="0.8"/>
<line x1="32" y1="270.22" x2="33.5" y2="270.22" stroke="#1c1c1c" stroke-width="0.5" opacity="0.8"/>
<line x1="32" y1="269.78" x2="33.5" y2="269.78" stroke="#1c1c1c" stroke-width="0.5" opacity="0.8"/>
<line x1="30.1" y1="269.38" x2="33.5" y2="269.38" stroke="#1c1c1c" stroke-width="0.9"/>
<text x="24.2" y="271.83" font-size="6.8" text-anchor="end" textLength="6" lengthAdjust="spacingAndGlyphs" fill="#333">10</text>
<text x="24.4" y="268.97" font-size="4.01" fill="#888">2</text>
<line x1="32" y1="266.77" x2="33.5" y2="266.77" stroke="#1c1c1c" stroke-width="0.5" opacity="0.8"/>
<line x1="32" y1="265.25" x2="33.5" y2="265.25" stroke="#1c1c1c" stroke-width="0.5" opacity="0.8"/>
<line x1="32" y1="264.17" x2="33.5" y2="264.17" stroke="#1c1c1c" stroke-width="0.5" opacity="0.8"/>
<line x1="32" y1="263.33" x2="33.5" y2="263.33" stroke="#1c1c1c" stroke-width="0.5" opacity="0.8"/>
<line x1="32" y1="262.64" x2="33.5" y2="262.64" stroke="#1c1c1c" stroke-width="0.5" opacity="0.8"/>
<line x1="32" y1="262.06" x2="33.5" y2="262.06" stroke="#1c1c1c" stroke-width="0.5" opacity="0.8"/>
<line x1="32" y1="261.56" x2="33.5" y2="261.56" stroke="#1c1c1c" stroke-width="0.5" opacity="0.8"/>
<line x1="32" y1="261.12" x2="33.5" y2="261.12" stroke="#1c1c1c" stroke-width="0.5" opacity="0.8"/>
<line x1="30.1" y1="260.72" x2="33.5" y2="260.72" stroke="#1c1c1c" stroke-width="0.9"/>
<text x="24.2" y="263.17" font-size="6.8" text-anchor="end" textLength="6" lengthAdjust="spacingAndGlyphs" fill="#333">10</text>
<text x="24.4" y="260.31" font-size="4.01" fill="#888">3</text>
<line x1="32" y1="258.11" x2="33.5" y2="258.11" stroke="#1c1c1c" stroke-width="0.5" opacity="0.8"/>
<line x1="32" y1="256.59" x2="33.5" y2="256.59" stroke="#1c1c1c" stroke-width="0.5" opacity="0.8"/>
<line x1="32" y1="255.51" x2="33.5" y2="255.51" stroke="#1c1c1c" stroke-width="0.5" opacity="0.8"/>
<line x1="32" y1="254.67" x2="33.5" y2="254.67" stroke="#1c1c1c" stroke-width="0.5" opacity="0.8"/>
<line x1="32" y1="253.98" x2="33.5" y2="253.98" stroke="#1c1c1c" stroke-width="0.5" opacity="0.8"/>
<line x1="32" y1="253.4" x2="33.5" y2="253.4" stroke="#1c1c1c" stroke-width="0.5" opacity="0.8"/>
<line x1="32" y1="252.9" x2="33.5" y2="252.9" stroke="#1c1c1c" stroke-width="0.5" opacity="0.8"/>
<line x1="32" y1="252.46" x2="33.5" y2="252.46" stroke="#1c1c1c" stroke-width="0.5" opacity="0.8"/>
<line x1="30.1" y1="252.06" x2="33.5" y2="252.06" stroke="#1c1c1c" stroke-width="0.9"/>
<text x="24.2" y="254.51" font-size="6.8" text-anchor="end" textLength="6" lengthAdjust="spacingAndGlyphs" fill="#333">10</text>
<text x="24.4" y="251.65" font-size="4.01" fill="#888">4</text>
<line x1="32" y1="249.45" x2="33.5" y2="249.45" stroke="#1c1c1c" stroke-width="0.5" opacity="0.8"/>
<line x1="32" y1="247.93" x2="33.5" y2="247.93" stroke="#1c1c1c" stroke-width="0.5" opacity="0.8"/>
<line x1="32" y1="246.85" x2="33.5" y2="246.85" stroke="#1c1c1c" stroke-width="0.5" opacity="0.8"/>
<line x1="32" y1="246.01" x2="33.5" y2="246.01" stroke="#1c1c1c" stroke-width="0.5" opacity="0.8"/>
<line x1="32" y1="245.32" x2="33.5" y2="245.32" stroke="#1c1c1c" stroke-width="0.5" opacity="0.8"/>
<line x1="32" y1="244.74" x2="33.5" y2="244.74" stroke="#1c1c1c" stroke-width="0.5" opacity="0.8"/>
<line x1="32" y1="244.24" x2="33.5" y2="244.24" stroke="#1c1c1c" stroke-width="0.5" opacity="0.8"/>
<line x1="32" y1="243.8" x2="33.5" y2="243.8" stroke="#1c1c1c" stroke-width="0.5" opacity="0.8"/>
<line x1="30.1" y1="243.4" x2="33.5" y2="243.4" stroke="#1c1c1c" stroke-width="0.9"/>
<text x="24.2" y="245.85" font-size="6.8" text-anchor="end" textLength="6" lengthAdjust="spacingAndGlyphs" fill="#333">10</text>
<text x="24.4" y="242.99" font-size="4.01" fill="#888">5</text>
<line x1="32" y1="240.79" x2="33.5" y2="240.79" stroke="#1c1c1c" stroke-width="0.5" opacity="0.8"/>
<line x1="32" y1="239.27" x2="33.5" y2="239.27" stroke="#1c1c1c" stroke-width="0.5" opacity="0.8"/>
<line x1="32" y1="238.19" x2="33.5" y2="238.19" stroke="#1c1c1c" stroke-width="0.5" opacity="0.8"/>
<line x1="32" y1="237.35" x2="33.5" y2="237.35" stroke="#1c1c1c" stroke-width="0.5" opacity="0.8"/>
<line x1="32" y1="236.66" x2="33.5" y2="236.66" stroke="#1c1c1c" stroke-width="0.5" opacity="0.8"/>
<line x1="32" y1="236.08" x2="33.5" y2="236.08" stroke="#1c1c1c" stroke-width="0.5" opacity="0.8"/>
<line x1="32" y1="235.58" x2="33.5" y2="235.58" stroke="#1c1c1c" stroke-width="0.5" opacity="0.8"/>
<line x1="32" y1="235.14" x2="33.5" y2="235.14" stroke="#1c1c1c" stroke-width="0.5" opacity="0.8"/>
<line x1="30.1" y1="234.74" x2="33.5" y2="234.74" stroke="#1c1c1c" stroke-width="0.9"/>
<text x="24.2" y="237.19" font-size="6.8" text-anchor="end" textLength="6" lengthAdjust="spacingAndGlyphs" fill="#333">10</text>
<text x="24.4" y="234.33" font-size="4.01" fill="#888">6</text>
<line x1="32" y1="232.13" x2="33.5" y2="232.13" stroke="#1c1c1c" stroke-width="0.5" opacity="0.8"/>
<line x1="32" y1="230.61" x2="33.5" y2="230.61" stroke="#1c1c1c" stroke-width="0.5" opacity="0.8"/>
<line x1="32" y1="229.53" x2="33.5" y2="229.53" stroke="#1c1c1c" stroke-width="0.5" opacity="0.8"/>
<line x1="32" y1="228.69" x2="33.5" y2="228.69" stroke="#1c1c1c" stroke-width="0.5" opacity="0.8"/>
<line x1="32" y1="228" x2="33.5" y2="228" stroke="#1c1c1c" stroke-width="0.5" opacity="0.8"/>
<line x1="32" y1="227.42" x2="33.5" y2="227.42" stroke="#1c1c1c" stroke-width="0.5" opacity="0.8"/>
<line x1="32" y1="226.92" x2="33.5" y2="226.92" stroke="#1c1c1c" stroke-width="0.5" opacity="0.8"/>
<line x1="32" y1="226.48" x2="33.5" y2="226.48" stroke="#1c1c1c" stroke-width="0.5" opacity="0.8"/>
<line x1="30.1" y1="226.08" x2="33.5" y2="226.08" stroke="#1c1c1c" stroke-width="0.9"/>
<text x="24.2" y="228.53" font-size="6.8" text-anchor="end" textLength="6" lengthAdjust="spacingAndGlyphs" fill="#333">10</text>
<text x="24.4" y="225.67" font-size="4.01" fill="#888">7</text>
<text x="49.3" y="218.4" font-size="8.6" style="stroke-width:0.14px" textLength="57.7" lengthAdjust="spacingAndGlyphs">blood over time</text>
<text x="15.3" y="255.9" font-size="9.2" style="stroke-width:0.14px" text-anchor="middle" textLength="87.8" lengthAdjust="spacingAndGlyphs" transform="rotate(-90 15.3 255.9)">EBV copy number per ml</text>
<line x1="47.2" y1="286.7" x2="47.2" y2="289.6" stroke="#1c1c1c" stroke-width="0.8"/>
<text x="49.2" y="296" font-size="6.4" text-anchor="end" textLength="8.2" lengthAdjust="spacingAndGlyphs" transform="rotate(-45 49.2 296)">w2</text>
<line x1="67.8" y1="286.7" x2="67.8" y2="289.6" stroke="#1c1c1c" stroke-width="0.8"/>
<text x="69.8" y="296" font-size="6.4" text-anchor="end" textLength="8.2" lengthAdjust="spacingAndGlyphs" transform="rotate(-45 69.8 296)">w3</text>
<line x1="88.5" y1="286.7" x2="88.5" y2="289.6" stroke="#1c1c1c" stroke-width="0.8"/>
<text x="90.5" y="296" font-size="6.4" text-anchor="end" textLength="8.2" lengthAdjust="spacingAndGlyphs" transform="rotate(-45 90.5 296)">w4</text>
<line x1="109.2" y1="286.7" x2="109.2" y2="289.6" stroke="#1c1c1c" stroke-width="0.8"/>
<text x="111.2" y="296" font-size="6.4" text-anchor="end" textLength="8.2" lengthAdjust="spacingAndGlyphs" transform="rotate(-45 111.2 296)">w5</text>
<text x="68.2" y="249.3" font-size="5" text-anchor="middle" textLength="22" lengthAdjust="spacingAndGlyphs" fill="#333">p=0.0361</text>
<polyline points="47.2,286.7 67.8,258 88.5,248 109.2,249.5" fill="none" stroke="#6db04f" stroke-width="1"/>
<polyline points="47.2,286.7 67.8,261 88.5,248.5 109.2,246.8" fill="none" stroke="#3d5d8f" stroke-width="1"/>
<polyline points="47.2,268 67.8,254.6 88.5,248 109.2,246.5" fill="none" stroke="#a4243b" stroke-width="1"/>
<line x1="47.2" y1="266.4" x2="47.2" y2="272.6" stroke="#222" stroke-width="0.8"/>
<line x1="45.7" y1="266.4" x2="48.7" y2="266.4" stroke="#222" stroke-width="0.8"/>
<line x1="45.7" y1="272.6" x2="48.7" y2="272.6" stroke="#222" stroke-width="0.8"/>
<line x1="67.8" y1="259.5" x2="67.8" y2="263" stroke="#222" stroke-width="0.8"/>
<line x1="66.3" y1="259.5" x2="69.3" y2="259.5" stroke="#222" stroke-width="0.8"/>
<line x1="66.3" y1="263" x2="69.3" y2="263" stroke="#222" stroke-width="0.8"/>
<line x1="88.5" y1="245" x2="88.5" y2="252" stroke="#222" stroke-width="0.9"/>
<line x1="86.9" y1="245" x2="90.1" y2="245" stroke="#222" stroke-width="0.9"/>
<line x1="86.9" y1="252" x2="90.1" y2="252" stroke="#222" stroke-width="0.9"/>
<line x1="109.2" y1="244.5" x2="109.2" y2="250" stroke="#222" stroke-width="0.8"/>
<line x1="107.7" y1="244.5" x2="110.7" y2="244.5" stroke="#222" stroke-width="0.8"/>
<line x1="107.7" y1="250" x2="110.7" y2="250" stroke="#222" stroke-width="0.8"/>
<line x1="109.2" y1="247.5" x2="109.2" y2="252.3" stroke="#222" stroke-width="0.8"/>
<line x1="107.7" y1="247.5" x2="110.7" y2="247.5" stroke="#222" stroke-width="0.8"/>
<line x1="107.7" y1="252.3" x2="110.7" y2="252.3" stroke="#222" stroke-width="0.8"/>
<path d="M47.2 284.9L49 288L45.4 288Z" fill="#6db04f"/>
<path d="M67.8 256.2L69.6 259.3L66 259.3Z" fill="#6db04f"/>
<path d="M88.5 246.2L90.3 249.3L86.7 249.3Z" fill="#6db04f"/>
<path d="M109.2 247.7L111 250.8L107.4 250.8Z" fill="#6db04f"/>
<rect x="45.6" y="285.1" width="3.2" height="3.2" fill="#3d5d8f"/>
<rect x="66.2" y="259.4" width="3.2" height="3.2" fill="#3d5d8f"/>
<rect x="86.9" y="246.9" width="3.2" height="3.2" fill="#3d5d8f"/>
<rect x="107.6" y="245.2" width="3.2" height="3.2" fill="#3d5d8f"/>
<circle cx="47.2" cy="268" r="1.7" fill="#a4243b"/>
<circle cx="67.8" cy="254.6" r="1.7" fill="#a4243b"/>
<circle cx="88.5" cy="248" r="1.7" fill="#a4243b"/>
<circle cx="109.2" cy="246.5" r="1.7" fill="#a4243b"/>
<rect x="86.6" y="246.4" width="3.8" height="3.8" fill="#222"/>
<line x1="83.5" y1="258" x2="91.5" y2="258" stroke="#a4243b" stroke-width="1"/>
<circle cx="87.5" cy="258" r="1.7" fill="#a4243b"/>
<text x="94.2" y="260.1" font-size="5.9" textLength="11" lengthAdjust="spacingAndGlyphs">EBV</text>
<line x1="83.5" y1="266.6" x2="91.5" y2="266.6" stroke="#3d5d8f" stroke-width="1"/>
<rect x="85.8" y="264.9" width="3.4" height="3.4" fill="#3d5d8f"/>
<text x="94.2" y="268.7" font-size="5.9" textLength="29" lengthAdjust="spacingAndGlyphs">EBV+IFNα14</text>
<line x1="83.5" y1="275.2" x2="91.5" y2="275.2" stroke="#6db04f" stroke-width="1"/>
<path d="M87.5 273.4L89.3 276.5L85.7 276.5Z" fill="#6db04f"/>
<text x="94.2" y="277.3" font-size="5.9" textLength="29" lengthAdjust="spacingAndGlyphs">EBV+IFNα17</text>
<line x1="156.3" y1="223.34" x2="156.3" y2="287.1" stroke="#1c1c1c" stroke-width="1.1"/>
<line x1="155.8" y1="286.6" x2="222.5" y2="286.6" stroke="#1c1c1c" stroke-width="1.1"/>
<line x1="153.6" y1="286.6" x2="156.3" y2="286.6" stroke="#1c1c1c" stroke-width="0.9"/>
<text x="149.9" y="288.72" font-size="5.9" text-anchor="end" textLength="5.4" lengthAdjust="spacingAndGlyphs" fill="#333">10</text>
<text x="150.1" y="286.25" font-size="3.48" fill="#888">0</text>
<line x1="154.8" y1="284.57" x2="156.3" y2="284.57" stroke="#1c1c1c" stroke-width="0.5" opacity="0.8"/>
<line x1="154.8" y1="283.38" x2="156.3" y2="283.38" stroke="#1c1c1c" stroke-width="0.5" opacity="0.8"/>
<line x1="154.8" y1="282.54" x2="156.3" y2="282.54" stroke="#1c1c1c" stroke-width="0.5" opacity="0.8"/>
<line x1="154.8" y1="281.89" x2="156.3" y2="281.89" stroke="#1c1c1c" stroke-width="0.5" opacity="0.8"/>
<line x1="154.8" y1="281.36" x2="156.3" y2="281.36" stroke="#1c1c1c" stroke-width="0.5" opacity="0.8"/>
<line x1="154.8" y1="280.9" x2="156.3" y2="280.9" stroke="#1c1c1c" stroke-width="0.5" opacity="0.8"/>
<line x1="154.8" y1="280.51" x2="156.3" y2="280.51" stroke="#1c1c1c" stroke-width="0.5" opacity="0.8"/>
<line x1="154.8" y1="280.17" x2="156.3" y2="280.17" stroke="#1c1c1c" stroke-width="0.5" opacity="0.8"/>
<line x1="153.6" y1="279.86" x2="156.3" y2="279.86" stroke="#1c1c1c" stroke-width="0.9"/>
<text x="149.9" y="281.98" font-size="5.9" text-anchor="end" textLength="5.4" lengthAdjust="spacingAndGlyphs" fill="#333">10</text>
<text x="150.1" y="279.51" font-size="3.48" fill="#888">1</text>
<line x1="154.8" y1="277.83" x2="156.3" y2="277.83" stroke="#1c1c1c" stroke-width="0.5" opacity="0.8"/>
<line x1="154.8" y1="276.64" x2="156.3" y2="276.64" stroke="#1c1c1c" stroke-width="0.5" opacity="0.8"/>
<line x1="154.8" y1="275.8" x2="156.3" y2="275.8" stroke="#1c1c1c" stroke-width="0.5" opacity="0.8"/>
<line x1="154.8" y1="275.15" x2="156.3" y2="275.15" stroke="#1c1c1c" stroke-width="0.5" opacity="0.8"/>
<line x1="154.8" y1="274.62" x2="156.3" y2="274.62" stroke="#1c1c1c" stroke-width="0.5" opacity="0.8"/>
<line x1="154.8" y1="274.16" x2="156.3" y2="274.16" stroke="#1c1c1c" stroke-width="0.5" opacity="0.8"/>
<line x1="154.8" y1="273.77" x2="156.3" y2="273.77" stroke="#1c1c1c" stroke-width="0.5" opacity="0.8"/>
<line x1="154.8" y1="273.43" x2="156.3" y2="273.43" stroke="#1c1c1c" stroke-width="0.5" opacity="0.8"/>
<line x1="153.6" y1="273.12" x2="156.3" y2="273.12" stroke="#1c1c1c" stroke-width="0.9"/>
<text x="149.9" y="275.24" font-size="5.9" text-anchor="end" textLength="5.4" lengthAdjust="spacingAndGlyphs" fill="#333">10</text>
<text x="150.1" y="272.77" font-size="3.48" fill="#888">2</text>
<line x1="154.8" y1="271.09" x2="156.3" y2="271.09" stroke="#1c1c1c" stroke-width="0.5" opacity="0.8"/>
<line x1="154.8" y1="269.9" x2="156.3" y2="269.9" stroke="#1c1c1c" stroke-width="0.5" opacity="0.8"/>
<line x1="154.8" y1="269.06" x2="156.3" y2="269.06" stroke="#1c1c1c" stroke-width="0.5" opacity="0.8"/>
<line x1="154.8" y1="268.41" x2="156.3" y2="268.41" stroke="#1c1c1c" stroke-width="0.5" opacity="0.8"/>
<line x1="154.8" y1="267.88" x2="156.3" y2="267.88" stroke="#1c1c1c" stroke-width="0.5" opacity="0.8"/>
<line x1="154.8" y1="267.42" x2="156.3" y2="267.42" stroke="#1c1c1c" stroke-width="0.5" opacity="0.8"/>
<line x1="154.8" y1="267.03" x2="156.3" y2="267.03" stroke="#1c1c1c" stroke-width="0.5" opacity="0.8"/>
<line x1="154.8" y1="266.69" x2="156.3" y2="266.69" stroke="#1c1c1c" stroke-width="0.5" opacity="0.8"/>
<line x1="153.6" y1="266.38" x2="156.3" y2="266.38" stroke="#1c1c1c" stroke-width="0.9"/>
<text x="149.9" y="268.5" font-size="5.9" text-anchor="end" textLength="5.4" lengthAdjust="spacingAndGlyphs" fill="#333">10</text>
<text x="150.1" y="266.03" font-size="3.48" fill="#888">3</text>
<line x1="154.8" y1="264.35" x2="156.3" y2="264.35" stroke="#1c1c1c" stroke-width="0.5" opacity="0.8"/>
<line x1="154.8" y1="263.16" x2="156.3" y2="263.16" stroke="#1c1c1c" stroke-width="0.5" opacity="0.8"/>
<line x1="154.8" y1="262.32" x2="156.3" y2="262.32" stroke="#1c1c1c" stroke-width="0.5" opacity="0.8"/>
<line x1="154.8" y1="261.67" x2="156.3" y2="261.67" stroke="#1c1c1c" stroke-width="0.5" opacity="0.8"/>
<line x1="154.8" y1="261.14" x2="156.3" y2="261.14" stroke="#1c1c1c" stroke-width="0.5" opacity="0.8"/>
<line x1="154.8" y1="260.68" x2="156.3" y2="260.68" stroke="#1c1c1c" stroke-width="0.5" opacity="0.8"/>
<line x1="154.8" y1="260.29" x2="156.3" y2="260.29" stroke="#1c1c1c" stroke-width="0.5" opacity="0.8"/>
<line x1="154.8" y1="259.95" x2="156.3" y2="259.95" stroke="#1c1c1c" stroke-width="0.5" opacity="0.8"/>
<line x1="153.6" y1="259.64" x2="156.3" y2="259.64" stroke="#1c1c1c" stroke-width="0.9"/>
<text x="149.9" y="261.76" font-size="5.9" text-anchor="end" textLength="5.4" lengthAdjust="spacingAndGlyphs" fill="#333">10</text>
<text x="150.1" y="259.29" font-size="3.48" fill="#888">4</text>
<line x1="154.8" y1="257.61" x2="156.3" y2="257.61" stroke="#1c1c1c" stroke-width="0.5" opacity="0.8"/>
<line x1="154.8" y1="256.42" x2="156.3" y2="256.42" stroke="#1c1c1c" stroke-width="0.5" opacity="0.8"/>
<line x1="154.8" y1="255.58" x2="156.3" y2="255.58" stroke="#1c1c1c" stroke-width="0.5" opacity="0.8"/>
<line x1="154.8" y1="254.93" x2="156.3" y2="254.93" stroke="#1c1c1c" stroke-width="0.5" opacity="0.8"/>
<line x1="154.8" y1="254.4" x2="156.3" y2="254.4" stroke="#1c1c1c" stroke-width="0.5" opacity="0.8"/>
<line x1="154.8" y1="253.94" x2="156.3" y2="253.94" stroke="#1c1c1c" stroke-width="0.5" opacity="0.8"/>
<line x1="154.8" y1="253.55" x2="156.3" y2="253.55" stroke="#1c1c1c" stroke-width="0.5" opacity="0.8"/>
<line x1="154.8" y1="253.21" x2="156.3" y2="253.21" stroke="#1c1c1c" stroke-width="0.5" opacity="0.8"/>
<line x1="153.6" y1="252.9" x2="156.3" y2="252.9" stroke="#1c1c1c" stroke-width="0.9"/>
<text x="149.9" y="255.02" font-size="5.9" text-anchor="end" textLength="5.4" lengthAdjust="spacingAndGlyphs" fill="#333">10</text>
<text x="150.1" y="252.55" font-size="3.48" fill="#888">5</text>
<line x1="154.8" y1="250.87" x2="156.3" y2="250.87" stroke="#1c1c1c" stroke-width="0.5" opacity="0.8"/>
<line x1="154.8" y1="249.68" x2="156.3" y2="249.68" stroke="#1c1c1c" stroke-width="0.5" opacity="0.8"/>
<line x1="154.8" y1="248.84" x2="156.3" y2="248.84" stroke="#1c1c1c" stroke-width="0.5" opacity="0.8"/>
<line x1="154.8" y1="248.19" x2="156.3" y2="248.19" stroke="#1c1c1c" stroke-width="0.5" opacity="0.8"/>
<line x1="154.8" y1="247.66" x2="156.3" y2="247.66" stroke="#1c1c1c" stroke-width="0.5" opacity="0.8"/>
<line x1="154.8" y1="247.2" x2="156.3" y2="247.2" stroke="#1c1c1c" stroke-width="0.5" opacity="0.8"/>
<line x1="154.8" y1="246.81" x2="156.3" y2="246.81" stroke="#1c1c1c" stroke-width="0.5" opacity="0.8"/>
<line x1="154.8" y1="246.47" x2="156.3" y2="246.47" stroke="#1c1c1c" stroke-width="0.5" opacity="0.8"/>
<line x1="153.6" y1="246.16" x2="156.3" y2="246.16" stroke="#1c1c1c" stroke-width="0.9"/>
<text x="149.9" y="248.28" font-size="5.9" text-anchor="end" textLength="5.4" lengthAdjust="spacingAndGlyphs" fill="#333">10</text>
<text x="150.1" y="245.81" font-size="3.48" fill="#888">6</text>
<line x1="154.8" y1="244.13" x2="156.3" y2="244.13" stroke="#1c1c1c" stroke-width="0.5" opacity="0.8"/>
<line x1="154.8" y1="242.94" x2="156.3" y2="242.94" stroke="#1c1c1c" stroke-width="0.5" opacity="0.8"/>
<line x1="154.8" y1="242.1" x2="156.3" y2="242.1" stroke="#1c1c1c" stroke-width="0.5" opacity="0.8"/>
<line x1="154.8" y1="241.45" x2="156.3" y2="241.45" stroke="#1c1c1c" stroke-width="0.5" opacity="0.8"/>
<line x1="154.8" y1="240.92" x2="156.3" y2="240.92" stroke="#1c1c1c" stroke-width="0.5" opacity="0.8"/>
<line x1="154.8" y1="240.46" x2="156.3" y2="240.46" stroke="#1c1c1c" stroke-width="0.5" opacity="0.8"/>
<line x1="154.8" y1="240.07" x2="156.3" y2="240.07" stroke="#1c1c1c" stroke-width="0.5" opacity="0.8"/>
<line x1="154.8" y1="239.73" x2="156.3" y2="239.73" stroke="#1c1c1c" stroke-width="0.5" opacity="0.8"/>
<line x1="153.6" y1="239.42" x2="156.3" y2="239.42" stroke="#1c1c1c" stroke-width="0.9"/>
<text x="149.9" y="241.54" font-size="5.9" text-anchor="end" textLength="5.4" lengthAdjust="spacingAndGlyphs" fill="#333">10</text>
<text x="150.1" y="239.07" font-size="3.48" fill="#888">7</text>
<line x1="154.8" y1="237.39" x2="156.3" y2="237.39" stroke="#1c1c1c" stroke-width="0.5" opacity="0.8"/>
<line x1="154.8" y1="236.2" x2="156.3" y2="236.2" stroke="#1c1c1c" stroke-width="0.5" opacity="0.8"/>
<line x1="154.8" y1="235.36" x2="156.3" y2="235.36" stroke="#1c1c1c" stroke-width="0.5" opacity="0.8"/>
<line x1="154.8" y1="234.71" x2="156.3" y2="234.71" stroke="#1c1c1c" stroke-width="0.5" opacity="0.8"/>
<line x1="154.8" y1="234.18" x2="156.3" y2="234.18" stroke="#1c1c1c" stroke-width="0.5" opacity="0.8"/>
<line x1="154.8" y1="233.72" x2="156.3" y2="233.72" stroke="#1c1c1c" stroke-width="0.5" opacity="0.8"/>
<line x1="154.8" y1="233.33" x2="156.3" y2="233.33" stroke="#1c1c1c" stroke-width="0.5" opacity="0.8"/>
<line x1="154.8" y1="232.99" x2="156.3" y2="232.99" stroke="#1c1c1c" stroke-width="0.5" opacity="0.8"/>
<line x1="153.6" y1="232.68" x2="156.3" y2="232.68" stroke="#1c1c1c" stroke-width="0.9"/>
<text x="149.9" y="234.8" font-size="5.9" text-anchor="end" textLength="5.4" lengthAdjust="spacingAndGlyphs" fill="#333">10</text>
<text x="150.1" y="232.33" font-size="3.48" fill="#888">8</text>
<line x1="154.8" y1="230.65" x2="156.3" y2="230.65" stroke="#1c1c1c" stroke-width="0.5" opacity="0.8"/>
<line x1="154.8" y1="229.46" x2="156.3" y2="229.46" stroke="#1c1c1c" stroke-width="0.5" opacity="0.8"/>
<line x1="154.8" y1="228.62" x2="156.3" y2="228.62" stroke="#1c1c1c" stroke-width="0.5" opacity="0.8"/>
<line x1="154.8" y1="227.97" x2="156.3" y2="227.97" stroke="#1c1c1c" stroke-width="0.5" opacity="0.8"/>
<line x1="154.8" y1="227.44" x2="156.3" y2="227.44" stroke="#1c1c1c" stroke-width="0.5" opacity="0.8"/>
<line x1="154.8" y1="226.98" x2="156.3" y2="226.98" stroke="#1c1c1c" stroke-width="0.5" opacity="0.8"/>
<line x1="154.8" y1="226.59" x2="156.3" y2="226.59" stroke="#1c1c1c" stroke-width="0.5" opacity="0.8"/>
<line x1="154.8" y1="226.25" x2="156.3" y2="226.25" stroke="#1c1c1c" stroke-width="0.5" opacity="0.8"/>
<line x1="153.6" y1="225.94" x2="156.3" y2="225.94" stroke="#1c1c1c" stroke-width="0.9"/>
<text x="149.9" y="228.06" font-size="5.9" text-anchor="end" textLength="5.4" lengthAdjust="spacingAndGlyphs" fill="#333">10</text>
<text x="150.1" y="225.59" font-size="3.48" fill="#888">9</text>
<text x="166.2" y="219.2" font-size="8.6" style="stroke-width:0.14px" textLength="36.3" lengthAdjust="spacingAndGlyphs">spleen w5</text>
<text x="138.1" y="256.4" font-size="9.3" style="stroke-width:0.14px" text-anchor="middle" textLength="78.3" lengthAdjust="spacingAndGlyphs" transform="rotate(-90 138.1 256.4)">EBV copies per spleen</text>
<text x="166.5" y="294.4" font-size="6.6" text-anchor="middle" textLength="10.4" lengthAdjust="spacingAndGlyphs">PBS</text>
<text x="189" y="294.4" font-size="6.6" text-anchor="middle" textLength="20.6" lengthAdjust="spacingAndGlyphs">IFNα14</text>
<text x="216" y="294.4" font-size="6.6" text-anchor="middle" textLength="20.6" lengthAdjust="spacingAndGlyphs">IFNα17</text>
<circle cx="166.4" cy="235.8" r="1.45" fill="#a4243b"/>
<circle cx="161.4" cy="239.1" r="1.45" fill="#a4243b"/>
<circle cx="164.1" cy="239.8" r="1.45" fill="#a4243b"/>
<circle cx="167.5" cy="239.5" r="1.45" fill="#a4243b"/>
<circle cx="171.2" cy="238.5" r="1.45" fill="#a4243b"/>
<circle cx="170.2" cy="240.5" r="1.45" fill="#a4243b"/>
<circle cx="162.1" cy="242.5" r="1.45" fill="#a4243b"/>
<circle cx="165.4" cy="243.2" r="1.45" fill="#a4243b"/>
<circle cx="168.8" cy="242.2" r="1.45" fill="#a4243b"/>
<circle cx="161.4" cy="245.2" r="1.45" fill="#a4243b"/>
<circle cx="164.8" cy="246.5" r="1.45" fill="#a4243b"/>
<circle cx="168.1" cy="244.5" r="1.45" fill="#a4243b"/>
<circle cx="171.5" cy="245.9" r="1.45" fill="#a4243b"/>
<circle cx="168.1" cy="248.1" r="1.45" fill="#a4243b"/>
<circle cx="161.4" cy="251.6" r="1.45" fill="#a4243b"/>
<circle cx="164.8" cy="253.7" r="1.45" fill="#a4243b"/>
<circle cx="168.1" cy="252.6" r="1.45" fill="#a4243b"/>
<circle cx="171.5" cy="251.2" r="1.45" fill="#a4243b"/>
<circle cx="166.4" cy="266.3" r="1.45" fill="#a4243b"/>
<circle cx="166.4" cy="286.9" r="1.45" fill="#a4243b"/>
<line x1="159.1" y1="241.4" x2="173.1" y2="241.4" stroke="#111" stroke-width="0.9"/>
<rect x="185.95" y="232.95" width="2.9" height="2.9" fill="#3d5d8f"/>
<rect x="191.55" y="233.65" width="2.9" height="2.9" fill="#3d5d8f"/>
<rect x="184.15" y="238.35" width="2.9" height="2.9" fill="#3d5d8f"/>
<rect x="187.55" y="239.05" width="2.9" height="2.9" fill="#3d5d8f"/>
<rect x="190.25" y="237.05" width="2.9" height="2.9" fill="#3d5d8f"/>
<rect x="186.85" y="240.75" width="2.9" height="2.9" fill="#3d5d8f"/>
<rect x="189.55" y="240.35" width="2.9" height="2.9" fill="#3d5d8f"/>
<rect x="186.15" y="245.05" width="2.9" height="2.9" fill="#3d5d8f"/>
<rect x="189.95" y="248.45" width="2.9" height="2.9" fill="#3d5d8f"/>
<rect x="184.15" y="256.55" width="2.9" height="2.9" fill="#3d5d8f"/>
<rect x="187.85" y="259.25" width="2.9" height="2.9" fill="#3d5d8f"/>
<rect x="191.55" y="258.85" width="2.9" height="2.9" fill="#3d5d8f"/>
<rect x="187.85" y="266.35" width="2.9" height="2.9" fill="#3d5d8f"/>
<rect x="187.85" y="285.45" width="2.9" height="2.9" fill="#3d5d8f"/>
<line x1="182.3" y1="239.1" x2="196.4" y2="239.1" stroke="#111" stroke-width="0.9"/>
<path d="M207.6 235.97L209.27 239.02L205.93 239.02Z" fill="#6db04f"/>
<path d="M210.5 237.97L212.17 241.02L208.83 241.02Z" fill="#6db04f"/>
<path d="M213.9 237.97L215.57 241.02L212.23 241.02Z" fill="#6db04f"/>
<path d="M217.3 236.67L218.97 239.72L215.63 239.72Z" fill="#6db04f"/>
<path d="M209.9 241.37L211.57 244.42L208.23 244.42Z" fill="#6db04f"/>
<path d="M213.2 240.67L214.87 243.72L211.53 243.72Z" fill="#6db04f"/>
<path d="M210.5 248.07L212.17 251.12L208.83 251.12Z" fill="#6db04f"/>
<path d="M213.9 247.17L215.57 250.22L212.23 250.22Z" fill="#6db04f"/>
<path d="M208.5 249.77L210.17 252.82L206.83 252.82Z" fill="#6db04f"/>
<path d="M215.9 249.77L217.57 252.82L214.23 252.82Z" fill="#6db04f"/>
<path d="M212.1 252.07L213.77 255.12L210.43 255.12Z" fill="#6db04f"/>
<path d="M207.2 256.57L208.87 259.62L205.53 259.62Z" fill="#6db04f"/>
<path d="M210.5 259.27L212.17 262.32L208.83 262.32Z" fill="#6db04f"/>
<path d="M213.9 256.77L215.57 259.82L212.23 259.82Z" fill="#6db04f"/>
<path d="M217.3 256.17L218.97 259.22L215.63 259.22Z" fill="#6db04f"/>
<line x1="205.1" y1="242.2" x2="219.3" y2="242.2" stroke="#333" stroke-width="0.9"/>
<text x="262.2" y="215.7" font-size="11.5" style="stroke-width:0.14px" textLength="6.9" lengthAdjust="spacingAndGlyphs">C</text>
<line x1="289.4" y1="224" x2="289.4" y2="287.2" stroke="#1c1c1c" stroke-width="1.1"/>
<line x1="288.9" y1="286.7" x2="380" y2="286.7" stroke="#1c1c1c" stroke-width="1.1"/>
<line x1="285.5" y1="286.7" x2="289.4" y2="286.7" stroke="#1c1c1c" stroke-width="0.9"/>
<text x="283.5" y="288.9" font-size="6.4" text-anchor="end" textLength="7.5" lengthAdjust="spacingAndGlyphs" fill="#333">0.0</text>
<line x1="285.5" y1="274.86" x2="289.4" y2="274.86" stroke="#1c1c1c" stroke-width="0.9"/>
<text x="283.5" y="277.06" font-size="6.4" text-anchor="end" textLength="7.5" lengthAdjust="spacingAndGlyphs" fill="#333">0.1</text>
<line x1="285.5" y1="263.02" x2="289.4" y2="263.02" stroke="#1c1c1c" stroke-width="0.9"/>
<text x="283.5" y="265.22" font-size="6.4" text-anchor="end" textLength="7.5" lengthAdjust="spacingAndGlyphs" fill="#333">0.2</text>
<line x1="285.5" y1="251.18" x2="289.4" y2="251.18" stroke="#1c1c1c" stroke-width="0.9"/>
<text x="283.5" y="253.38" font-size="6.4" text-anchor="end" textLength="7.5" lengthAdjust="spacingAndGlyphs" fill="#333">0.3</text>
<line x1="285.5" y1="239.34" x2="289.4" y2="239.34" stroke="#1c1c1c" stroke-width="0.9"/>
<text x="283.5" y="241.54" font-size="6.4" text-anchor="end" textLength="7.5" lengthAdjust="spacingAndGlyphs" fill="#333">0.4</text>
<line x1="285.5" y1="227.5" x2="289.4" y2="227.5" stroke="#1c1c1c" stroke-width="0.9"/>
<text x="283.5" y="229.7" font-size="6.4" text-anchor="end" textLength="7.5" lengthAdjust="spacingAndGlyphs" fill="#333">0.5</text>
<text x="270.6" y="255.3" font-size="8.2" style="stroke-width:0.14px" text-anchor="middle" textLength="62.4" lengthAdjust="spacingAndGlyphs" transform="rotate(-90 270.6 255.3)">Spleen weight (g)</text>
<text x="301.3" y="294.7" font-size="6.6" text-anchor="middle" textLength="11.02" lengthAdjust="spacingAndGlyphs">PBS</text>
<text x="323.7" y="294.7" font-size="6.6" text-anchor="middle" textLength="11.02" lengthAdjust="spacingAndGlyphs">PBS</text>
<text x="347.8" y="294.7" font-size="6.6" text-anchor="middle" textLength="20.59" lengthAdjust="spacingAndGlyphs">IFNα14</text>
<text x="372.5" y="294.7" font-size="6.6" text-anchor="middle" textLength="20.38" lengthAdjust="spacingAndGlyphs">IFNα17</text>
<line x1="317" y1="299.9" x2="380" y2="299.9" stroke="#333" stroke-width="0.9"/>
<text x="348.5" y="308.7" font-size="6.8" text-anchor="middle" textLength="10.8" lengthAdjust="spacingAndGlyphs">EBV</text>
<text x="336.9" y="229" font-size="4.8" text-anchor="middle" textLength="21.2" lengthAdjust="spacingAndGlyphs" fill="#333">p=0.0388</text>
<line x1="323.4" y1="231.5" x2="346" y2="231.5" stroke="#333" stroke-width="0.8"/>
<circle cx="297.7" cy="265.4" r="1.38" fill="#fff" stroke="#555" stroke-width="0.75"/>
<circle cx="301.3" cy="268" r="1.38" fill="#fff" stroke="#555" stroke-width="0.75"/>
<circle cx="304.8" cy="267.2" r="1.38" fill="#fff" stroke="#555" stroke-width="0.75"/>
<circle cx="295.1" cy="272.5" r="1.38" fill="#fff" stroke="#555" stroke-width="0.75"/>
<circle cx="298.6" cy="272.1" r="1.38" fill="#fff" stroke="#555" stroke-width="0.75"/>
<circle cx="303" cy="272.5" r="1.38" fill="#fff" stroke="#555" stroke-width="0.75"/>
<circle cx="306.6" cy="274.2" r="1.38" fill="#fff" stroke="#555" stroke-width="0.75"/>
<circle cx="296" cy="276" r="1.38" fill="#fff" stroke="#555" stroke-width="0.75"/>
<circle cx="300.4" cy="276.9" r="1.38" fill="#fff" stroke="#555" stroke-width="0.75"/>
<circle cx="303.9" cy="276.4" r="1.38" fill="#fff" stroke="#555" stroke-width="0.75"/>
<circle cx="307.5" cy="275.1" r="1.38" fill="#fff" stroke="#555" stroke-width="0.75"/>
<circle cx="299.5" cy="278.1" r="1.38" fill="#fff" stroke="#555" stroke-width="0.75"/>
<line x1="293.3" y1="273" x2="308.9" y2="273" stroke="#111" stroke-width="0.9"/>
<circle cx="323.4" cy="237.4" r="1.45" fill="#a4243b"/>
<circle cx="321.6" cy="247.3" r="1.45" fill="#a4243b"/>
<circle cx="325.2" cy="249.1" r="1.45" fill="#a4243b"/>
<circle cx="325.2" cy="253.9" r="1.45" fill="#a4243b"/>
<circle cx="319.8" cy="256.5" r="1.45" fill="#a4243b"/>
<circle cx="323.4" cy="256.5" r="1.45" fill="#a4243b"/>
<circle cx="326.9" cy="257.4" r="1.45" fill="#a4243b"/>
<circle cx="318.1" cy="259.2" r="1.45" fill="#a4243b"/>
<circle cx="322.5" cy="261" r="1.45" fill="#a4243b"/>
<circle cx="326" cy="261.5" r="1.45" fill="#a4243b"/>
<circle cx="328.7" cy="260.1" r="1.45" fill="#a4243b"/>
<circle cx="319" cy="265.4" r="1.45" fill="#a4243b"/>
<circle cx="323.4" cy="267.2" r="1.45" fill="#a4243b"/>
<circle cx="326.9" cy="266.3" r="1.45" fill="#a4243b"/>
<circle cx="330.5" cy="267.2" r="1.45" fill="#a4243b"/>
<circle cx="320.7" cy="269.8" r="1.45" fill="#a4243b"/>
<circle cx="325.2" cy="268.9" r="1.45" fill="#a4243b"/>
<circle cx="328.7" cy="268.9" r="1.45" fill="#a4243b"/>
<circle cx="323.4" cy="274.6" r="1.45" fill="#a4243b"/>
<line x1="316.3" y1="260.4" x2="330.8" y2="260.4" stroke="#111" stroke-width="0.9"/>
<rect x="344.55" y="248.55" width="2.9" height="2.9" fill="#3d5d8f"/>
<rect x="346.75" y="253.35" width="2.9" height="2.9" fill="#3d5d8f"/>
<rect x="342.85" y="255.05" width="2.9" height="2.9" fill="#3d5d8f"/>
<rect x="342.85" y="260.35" width="2.9" height="2.9" fill="#3d5d8f"/>
<rect x="337.85" y="265.75" width="2.9" height="2.9" fill="#3d5d8f"/>
<rect x="341.35" y="264.85" width="2.9" height="2.9" fill="#3d5d8f"/>
<rect x="346.75" y="263.05" width="2.9" height="2.9" fill="#3d5d8f"/>
<rect x="351.15" y="265.15" width="2.9" height="2.9" fill="#3d5d8f"/>
<rect x="339.65" y="267.45" width="2.9" height="2.9" fill="#3d5d8f"/>
<rect x="344.95" y="266.55" width="2.9" height="2.9" fill="#3d5d8f"/>
<rect x="342.85" y="271.85" width="2.9" height="2.9" fill="#3d5d8f"/>
<rect x="346.75" y="271.85" width="2.9" height="2.9" fill="#3d5d8f"/>
<rect x="342.85" y="275.95" width="2.9" height="2.9" fill="#3d5d8f"/>
<rect x="346.75" y="275.95" width="2.9" height="2.9" fill="#3d5d8f"/>
<line x1="338.1" y1="267.2" x2="353.5" y2="267.2" stroke="#111" stroke-width="0.9"/>
<path d="M365 254.67L366.67 257.72L363.33 257.72Z" fill="#6db04f"/>
<path d="M368.5 255.07L370.17 258.12L366.83 258.12Z" fill="#6db04f"/>
<path d="M372 252.97L373.67 256.02L370.33 256.02Z" fill="#6db04f"/>
<path d="M363.2 258.57L364.87 261.62L361.53 261.62Z" fill="#6db04f"/>
<path d="M367.6 259.67L369.27 262.72L365.93 262.72Z" fill="#6db04f"/>
<path d="M371.2 259.17L372.87 262.22L369.53 262.22Z" fill="#6db04f"/>
<path d="M362 262.67L363.67 265.72L360.33 265.72Z" fill="#6db04f"/>
<path d="M372.9 261.77L374.57 264.82L371.23 264.82Z" fill="#6db04f"/>
<path d="M365.8 263.57L367.47 266.62L364.13 266.62Z" fill="#6db04f"/>
<path d="M369.4 262.67L371.07 265.72L367.73 265.72Z" fill="#6db04f"/>
<path d="M364.1 267.97L365.77 271.02L362.43 271.02Z" fill="#6db04f"/>
<path d="M369.4 267.97L371.07 271.02L367.73 271.02Z" fill="#6db04f"/>
<path d="M372 266.17L373.67 269.22L370.33 269.22Z" fill="#6db04f"/>
<line x1="361.1" y1="263.1" x2="375.9" y2="263.1" stroke="#111" stroke-width="0.9"/>
<text x="8.4" y="335.9" font-size="11.5" style="stroke-width:0.14px" textLength="7.6" lengthAdjust="spacingAndGlyphs">D</text>
<text x="19.2" y="379" font-size="8.3" style="stroke-width:0.14px" text-anchor="middle" textLength="74.5" lengthAdjust="spacingAndGlyphs" transform="rotate(-90 19.2 379)">Blood CD8/CD4 ratio</text>
<line x1="33.3" y1="347.6" x2="33.3" y2="410.7" stroke="#1c1c1c" stroke-width="1.1"/>
<line x1="32.8" y1="410.2" x2="121.3" y2="410.2" stroke="#1c1c1c" stroke-width="1.1"/>
<line x1="29.4" y1="410.2" x2="33.3" y2="410.2" stroke="#1c1c1c" stroke-width="0.9"/>
<text x="27" y="412.4" font-size="6.4" text-anchor="end" textLength="3.3" lengthAdjust="spacingAndGlyphs" fill="#333">0</text>
<line x1="29.4" y1="390.2" x2="33.3" y2="390.2" stroke="#1c1c1c" stroke-width="0.9"/>
<text x="27" y="392.4" font-size="6.4" text-anchor="end" textLength="3.3" lengthAdjust="spacingAndGlyphs" fill="#333">1</text>
<line x1="29.4" y1="370.2" x2="33.3" y2="370.2" stroke="#1c1c1c" stroke-width="0.9"/>
<text x="27" y="372.4" font-size="6.4" text-anchor="end" textLength="3.3" lengthAdjust="spacingAndGlyphs" fill="#333">2</text>
<line x1="29.4" y1="350.2" x2="33.3" y2="350.2" stroke="#1c1c1c" stroke-width="0.9"/>
<text x="27" y="352.4" font-size="6.4" text-anchor="end" textLength="3.3" lengthAdjust="spacingAndGlyphs" fill="#333">3</text>
<text x="46.5" y="417.9" font-size="6.6" text-anchor="middle" textLength="10.6" lengthAdjust="spacingAndGlyphs">PBS</text>
<text x="67.7" y="417.9" font-size="6.6" text-anchor="middle" textLength="10.6" lengthAdjust="spacingAndGlyphs">PBS</text>
<text x="89.9" y="417.9" font-size="6.6" text-anchor="middle" textLength="20.2" lengthAdjust="spacingAndGlyphs">IFNα14</text>
<text x="112.7" y="417.9" font-size="6.6" text-anchor="middle" textLength="20.2" lengthAdjust="spacingAndGlyphs">IFNα17</text>
<line x1="57.9" y1="423.1" x2="121.3" y2="423.1" stroke="#333" stroke-width="0.95"/>
<text x="89.5" y="430.5" font-size="6.6" text-anchor="middle" textLength="10.8" lengthAdjust="spacingAndGlyphs">EBV</text>
<text x="67" y="342.2" font-size="8.6" style="stroke-width:0.14px" textLength="25" lengthAdjust="spacingAndGlyphs">week 0</text>
<line x1="156.5" y1="347.6" x2="156.5" y2="410.7" stroke="#1c1c1c" stroke-width="1.1"/>
<line x1="156" y1="410.2" x2="246.3" y2="410.2" stroke="#1c1c1c" stroke-width="1.1"/>
<line x1="152.6" y1="410.2" x2="156.5" y2="410.2" stroke="#1c1c1c" stroke-width="0.9"/>
<text x="150.2" y="412.4" font-size="6.4" text-anchor="end" textLength="3.3" lengthAdjust="spacingAndGlyphs" fill="#333">0</text>
<line x1="152.6" y1="390.2" x2="156.5" y2="390.2" stroke="#1c1c1c" stroke-width="0.9"/>
<text x="150.2" y="392.4" font-size="6.4" text-anchor="end" textLength="3.3" lengthAdjust="spacingAndGlyphs" fill="#333">1</text>
<line x1="152.6" y1="370.2" x2="156.5" y2="370.2" stroke="#1c1c1c" stroke-width="0.9"/>
<text x="150.2" y="372.4" font-size="6.4" text-anchor="end" textLength="3.3" lengthAdjust="spacingAndGlyphs" fill="#333">2</text>
<line x1="152.6" y1="350.2" x2="156.5" y2="350.2" stroke="#1c1c1c" stroke-width="0.9"/>
<text x="150.2" y="352.4" font-size="6.4" text-anchor="end" textLength="3.3" lengthAdjust="spacingAndGlyphs" fill="#333">3</text>
<text x="169" y="417.9" font-size="6.6" text-anchor="middle" textLength="10.6" lengthAdjust="spacingAndGlyphs">PBS</text>
<text x="189.6" y="417.9" font-size="6.6" text-anchor="middle" textLength="10.6" lengthAdjust="spacingAndGlyphs">PBS</text>
<text x="212.4" y="417.9" font-size="6.6" text-anchor="middle" textLength="20.2" lengthAdjust="spacingAndGlyphs">IFNα14</text>
<text x="236.6" y="417.9" font-size="6.6" text-anchor="middle" textLength="20.2" lengthAdjust="spacingAndGlyphs">IFNα17</text>
<line x1="180.4" y1="423.1" x2="243.9" y2="423.1" stroke="#333" stroke-width="0.95"/>
<text x="212.2" y="430.5" font-size="6.6" text-anchor="middle" textLength="10.8" lengthAdjust="spacingAndGlyphs">EBV</text>
<text x="189.5" y="342.2" font-size="8.6" style="stroke-width:0.14px" textLength="25" lengthAdjust="spacingAndGlyphs">week 2</text>
<line x1="290" y1="347.6" x2="290" y2="410.7" stroke="#1c1c1c" stroke-width="1.1"/>
<line x1="289.5" y1="410.2" x2="380" y2="410.2" stroke="#1c1c1c" stroke-width="1.1"/>
<line x1="286.1" y1="410.2" x2="290" y2="410.2" stroke="#1c1c1c" stroke-width="0.9"/>
<text x="283.7" y="412.4" font-size="6.4" text-anchor="end" textLength="3.3" lengthAdjust="spacingAndGlyphs" fill="#333">0</text>
<line x1="286.1" y1="390.2" x2="290" y2="390.2" stroke="#1c1c1c" stroke-width="0.9"/>
<text x="283.7" y="392.4" font-size="6.4" text-anchor="end" textLength="3.3" lengthAdjust="spacingAndGlyphs" fill="#333">1</text>
<line x1="286.1" y1="370.2" x2="290" y2="370.2" stroke="#1c1c1c" stroke-width="0.9"/>
<text x="283.7" y="372.4" font-size="6.4" text-anchor="end" textLength="3.3" lengthAdjust="spacingAndGlyphs" fill="#333">2</text>
<line x1="286.1" y1="350.2" x2="290" y2="350.2" stroke="#1c1c1c" stroke-width="0.9"/>
<text x="283.7" y="352.4" font-size="6.4" text-anchor="end" textLength="3.3" lengthAdjust="spacingAndGlyphs" fill="#333">3</text>
<text x="302.7" y="417.9" font-size="6.6" text-anchor="middle" textLength="10.6" lengthAdjust="spacingAndGlyphs">PBS</text>
<text x="323.5" y="417.9" font-size="6.6" text-anchor="middle" textLength="10.6" lengthAdjust="spacingAndGlyphs">PBS</text>
<text x="346.3" y="417.9" font-size="6.6" text-anchor="middle" textLength="20.2" lengthAdjust="spacingAndGlyphs">IFNα14</text>
<text x="370" y="417.9" font-size="6.6" text-anchor="middle" textLength="20.2" lengthAdjust="spacingAndGlyphs">IFNα17</text>
<line x1="316" y1="423.1" x2="377.4" y2="423.1" stroke="#333" stroke-width="0.95"/>
<text x="347.1" y="430.5" font-size="6.6" text-anchor="middle" textLength="10.8" lengthAdjust="spacingAndGlyphs">EBV</text>
<text x="322.5" y="342.2" font-size="8.6" style="stroke-width:0.14px" textLength="26.3" lengthAdjust="spacingAndGlyphs">week 3</text>
<line x1="422.8" y1="347.6" x2="422.8" y2="410.7" stroke="#1c1c1c" stroke-width="1.1"/>
<line x1="422.3" y1="410.2" x2="511.3" y2="410.2" stroke="#1c1c1c" stroke-width="1.1"/>
<line x1="418.9" y1="410.2" x2="422.8" y2="410.2" stroke="#1c1c1c" stroke-width="0.9"/>
<text x="416.5" y="412.4" font-size="6.4" text-anchor="end" textLength="3.3" lengthAdjust="spacingAndGlyphs" fill="#333">0</text>
<line x1="418.9" y1="395.2" x2="422.8" y2="395.2" stroke="#1c1c1c" stroke-width="0.9"/>
<text x="416.5" y="397.4" font-size="6.4" text-anchor="end" textLength="3.3" lengthAdjust="spacingAndGlyphs" fill="#333">5</text>
<line x1="418.9" y1="380.2" x2="422.8" y2="380.2" stroke="#1c1c1c" stroke-width="0.9"/>
<text x="416.5" y="382.4" font-size="6.4" text-anchor="end" textLength="6.8" lengthAdjust="spacingAndGlyphs" fill="#333">10</text>
<line x1="418.9" y1="365.2" x2="422.8" y2="365.2" stroke="#1c1c1c" stroke-width="0.9"/>
<text x="416.5" y="367.4" font-size="6.4" text-anchor="end" textLength="6.8" lengthAdjust="spacingAndGlyphs" fill="#333">15</text>
<line x1="418.9" y1="350.2" x2="422.8" y2="350.2" stroke="#1c1c1c" stroke-width="0.9"/>
<text x="416.5" y="352.4" font-size="6.4" text-anchor="end" textLength="6.8" lengthAdjust="spacingAndGlyphs" fill="#333">20</text>
<text x="436" y="417.9" font-size="6.6" text-anchor="middle" textLength="10.6" lengthAdjust="spacingAndGlyphs">PBS</text>
<text x="456.7" y="417.9" font-size="6.6" text-anchor="middle" textLength="10.6" lengthAdjust="spacingAndGlyphs">PBS</text>
<text x="479.3" y="417.9" font-size="6.6" text-anchor="middle" textLength="20.2" lengthAdjust="spacingAndGlyphs">IFNα14</text>
<text x="502.4" y="417.9" font-size="6.6" text-anchor="middle" textLength="20.2" lengthAdjust="spacingAndGlyphs">IFNα17</text>
<line x1="447.5" y1="423.1" x2="510.1" y2="423.1" stroke="#333" stroke-width="0.95"/>
<text x="478.8" y="430.5" font-size="6.6" text-anchor="middle" textLength="10.8" lengthAdjust="spacingAndGlyphs">EBV</text>
<text x="455.5" y="342.2" font-size="8.6" style="stroke-width:0.14px" textLength="25" lengthAdjust="spacingAndGlyphs">week 4</text>
<circle cx="42.93" cy="402.28" r="1.38" fill="#fff" stroke="#555" stroke-width="0.75"/>
<circle cx="46.26" cy="401.8" r="1.38" fill="#fff" stroke="#555" stroke-width="0.75"/>
<circle cx="48.7" cy="401.96" r="1.38" fill="#fff" stroke="#555" stroke-width="0.75"/>
<circle cx="42.1" cy="404.48" r="1.38" fill="#fff" stroke="#555" stroke-width="0.75"/>
<circle cx="44.24" cy="403.87" r="1.38" fill="#fff" stroke="#555" stroke-width="0.75"/>
<circle cx="47.69" cy="404.2" r="1.38" fill="#fff" stroke="#555" stroke-width="0.75"/>
<circle cx="50.31" cy="403.85" r="1.38" fill="#fff" stroke="#555" stroke-width="0.75"/>
<circle cx="43.25" cy="406.68" r="1.38" fill="#fff" stroke="#555" stroke-width="0.75"/>
<circle cx="45.73" cy="406.86" r="1.38" fill="#fff" stroke="#555" stroke-width="0.75"/>
<circle cx="49.1" cy="406.12" r="1.38" fill="#fff" stroke="#555" stroke-width="0.75"/>
<circle cx="46" cy="401" r="1.38" fill="#fff" stroke="#555" stroke-width="0.75"/>
<line x1="37.3" y1="403.8" x2="52" y2="403.8" stroke="#111" stroke-width="0.9"/>
<circle cx="67.5" cy="393.2" r="1.45" fill="#a4243b"/>
<circle cx="65.6" cy="397.4" r="1.45" fill="#a4243b"/>
<circle cx="69.3" cy="396.9" r="1.45" fill="#a4243b"/>
<circle cx="61.46" cy="399.36" r="1.45" fill="#a4243b"/>
<circle cx="63.16" cy="398.67" r="1.45" fill="#a4243b"/>
<circle cx="66.54" cy="399.19" r="1.45" fill="#a4243b"/>
<circle cx="68.97" cy="398.85" r="1.45" fill="#a4243b"/>
<circle cx="71.51" cy="399.09" r="1.45" fill="#a4243b"/>
<circle cx="74.08" cy="398.73" r="1.45" fill="#a4243b"/>
<circle cx="62.03" cy="401.41" r="1.45" fill="#a4243b"/>
<circle cx="65.02" cy="401.9" r="1.45" fill="#a4243b"/>
<circle cx="67.95" cy="401.54" r="1.45" fill="#a4243b"/>
<circle cx="70.14" cy="401.31" r="1.45" fill="#a4243b"/>
<circle cx="72.44" cy="401.12" r="1.45" fill="#a4243b"/>
<circle cx="62.06" cy="403.85" r="1.45" fill="#a4243b"/>
<circle cx="64.68" cy="404.31" r="1.45" fill="#a4243b"/>
<circle cx="67.53" cy="404.05" r="1.45" fill="#a4243b"/>
<circle cx="69.94" cy="403.62" r="1.45" fill="#a4243b"/>
<circle cx="72.73" cy="403.71" r="1.45" fill="#a4243b"/>
<circle cx="61.01" cy="406.9" r="1.45" fill="#a4243b"/>
<circle cx="63.77" cy="406.25" r="1.45" fill="#a4243b"/>
<circle cx="66.59" cy="406.74" r="1.45" fill="#a4243b"/>
<circle cx="69.03" cy="406.83" r="1.45" fill="#a4243b"/>
<circle cx="71.66" cy="406.73" r="1.45" fill="#a4243b"/>
<circle cx="73.85" cy="406.88" r="1.45" fill="#a4243b"/>
<line x1="59.8" y1="403.3" x2="74.8" y2="403.3" stroke="#111" stroke-width="0.9"/>
<rect x="87.95" y="391.75" width="2.9" height="2.9" fill="#3d5d8f"/>
<rect x="92.15" y="397.85" width="2.9" height="2.9" fill="#3d5d8f"/>
<rect x="83.74" y="399.59" width="2.9" height="2.9" fill="#3d5d8f"/>
<rect x="86.57" y="399.63" width="2.9" height="2.9" fill="#3d5d8f"/>
<rect x="89.53" y="399.2" width="2.9" height="2.9" fill="#3d5d8f"/>
<rect x="91.61" y="399.82" width="2.9" height="2.9" fill="#3d5d8f"/>
<rect x="82.41" y="401.5" width="2.9" height="2.9" fill="#3d5d8f"/>
<rect x="85.85" y="401.69" width="2.9" height="2.9" fill="#3d5d8f"/>
<rect x="88.39" y="401.7" width="2.9" height="2.9" fill="#3d5d8f"/>
<rect x="90.89" y="401.44" width="2.9" height="2.9" fill="#3d5d8f"/>
<rect x="93.58" y="402.01" width="2.9" height="2.9" fill="#3d5d8f"/>
<rect x="82.67" y="404.08" width="2.9" height="2.9" fill="#3d5d8f"/>
<rect x="85.52" y="403.53" width="2.9" height="2.9" fill="#3d5d8f"/>
<rect x="88.31" y="403.96" width="2.9" height="2.9" fill="#3d5d8f"/>
<rect x="90.55" y="403.51" width="2.9" height="2.9" fill="#3d5d8f"/>
<rect x="93.82" y="403.86" width="2.9" height="2.9" fill="#3d5d8f"/>
<rect x="84.22" y="406.35" width="2.9" height="2.9" fill="#3d5d8f"/>
<rect x="86.91" y="406.39" width="2.9" height="2.9" fill="#3d5d8f"/>
<rect x="89.29" y="406.29" width="2.9" height="2.9" fill="#3d5d8f"/>
<rect x="92.04" y="406.4" width="2.9" height="2.9" fill="#3d5d8f"/>
<line x1="82.1" y1="403.8" x2="97.3" y2="403.8" stroke="#111" stroke-width="0.9"/>
<path d="M113.2 400.57L114.87 403.62L111.53 403.62Z" fill="#6db04f"/>
<path d="M117.8 397.77L119.47 400.82L116.13 400.82Z" fill="#6db04f"/>
<path d="M106.34 399.36L108 402.4L104.67 402.4Z" fill="#6db04f"/>
<path d="M109.2 399.4L110.86 402.44L107.53 402.44Z" fill="#6db04f"/>
<path d="M111.57 399.59L113.23 402.64L109.9 402.64Z" fill="#6db04f"/>
<path d="M115.12 399.91L116.79 402.96L113.45 402.96Z" fill="#6db04f"/>
<path d="M117.67 399.45L119.33 402.5L116 402.5Z" fill="#6db04f"/>
<path d="M107.99 401.99L109.65 405.04L106.32 405.04Z" fill="#6db04f"/>
<path d="M110.32 401.86L111.99 404.9L108.66 404.9Z" fill="#6db04f"/>
<path d="M113.06 402.51L114.73 405.56L111.4 405.56Z" fill="#6db04f"/>
<path d="M116.38 402.42L118.05 405.46L114.71 405.46Z" fill="#6db04f"/>
<path d="M106.9 404.43L108.57 407.47L105.23 407.47Z" fill="#6db04f"/>
<path d="M109.11 404.77L110.78 407.82L107.44 407.82Z" fill="#6db04f"/>
<path d="M112.23 404.96L113.9 408L110.56 408Z" fill="#6db04f"/>
<path d="M115.08 404.34L116.75 407.39L113.41 407.39Z" fill="#6db04f"/>
<path d="M117.51 404.81L119.17 407.86L115.84 407.86Z" fill="#6db04f"/>
<line x1="104.6" y1="403.8" x2="119.6" y2="403.8" stroke="#333" stroke-width="0.9"/>
<circle cx="167.2" cy="395.5" r="1.38" fill="#fff" stroke="#555" stroke-width="0.75"/>
<circle cx="165.42" cy="401.69" r="1.38" fill="#fff" stroke="#555" stroke-width="0.75"/>
<circle cx="168.3" cy="401.85" r="1.38" fill="#fff" stroke="#555" stroke-width="0.75"/>
<circle cx="170.94" cy="401.84" r="1.38" fill="#fff" stroke="#555" stroke-width="0.75"/>
<circle cx="163.48" cy="404.22" r="1.38" fill="#fff" stroke="#555" stroke-width="0.75"/>
<circle cx="167.09" cy="404.37" r="1.38" fill="#fff" stroke="#555" stroke-width="0.75"/>
<circle cx="169.75" cy="403.94" r="1.38" fill="#fff" stroke="#555" stroke-width="0.75"/>
<circle cx="172.02" cy="404.05" r="1.38" fill="#fff" stroke="#555" stroke-width="0.75"/>
<circle cx="165.34" cy="407.06" r="1.38" fill="#fff" stroke="#555" stroke-width="0.75"/>
<circle cx="167.51" cy="406.77" r="1.38" fill="#fff" stroke="#555" stroke-width="0.75"/>
<circle cx="170.48" cy="407.33" r="1.38" fill="#fff" stroke="#555" stroke-width="0.75"/>
<line x1="158.5" y1="403.8" x2="174.5" y2="403.8" stroke="#111" stroke-width="0.9"/>
<circle cx="190.2" cy="393.2" r="1.45" fill="#a4243b"/>
<circle cx="187.8" cy="397.9" r="1.45" fill="#a4243b"/>
<circle cx="191.8" cy="398.8" r="1.45" fill="#a4243b"/>
<circle cx="186.24" cy="400.26" r="1.45" fill="#a4243b"/>
<circle cx="188.64" cy="399.81" r="1.45" fill="#a4243b"/>
<circle cx="190.85" cy="400.13" r="1.45" fill="#a4243b"/>
<circle cx="194.02" cy="400.21" r="1.45" fill="#a4243b"/>
<circle cx="184.47" cy="402.34" r="1.45" fill="#a4243b"/>
<circle cx="187.07" cy="402.37" r="1.45" fill="#a4243b"/>
<circle cx="190.23" cy="402.06" r="1.45" fill="#a4243b"/>
<circle cx="192.74" cy="402.27" r="1.45" fill="#a4243b"/>
<circle cx="195.09" cy="402.17" r="1.45" fill="#a4243b"/>
<circle cx="186.26" cy="404.06" r="1.45" fill="#a4243b"/>
<circle cx="188.95" cy="404.4" r="1.45" fill="#a4243b"/>
<circle cx="191.69" cy="404.12" r="1.45" fill="#a4243b"/>
<circle cx="193.64" cy="404.49" r="1.45" fill="#a4243b"/>
<circle cx="184.9" cy="406.33" r="1.45" fill="#a4243b"/>
<circle cx="186.89" cy="406.13" r="1.45" fill="#a4243b"/>
<circle cx="190.13" cy="406.21" r="1.45" fill="#a4243b"/>
<circle cx="193.15" cy="406.45" r="1.45" fill="#a4243b"/>
<circle cx="195.1" cy="406.5" r="1.45" fill="#a4243b"/>
<circle cx="185.81" cy="408.85" r="1.45" fill="#a4243b"/>
<circle cx="189.06" cy="408.51" r="1.45" fill="#a4243b"/>
<circle cx="191.49" cy="408.66" r="1.45" fill="#a4243b"/>
<circle cx="194.36" cy="408.88" r="1.45" fill="#a4243b"/>
<line x1="182.5" y1="403.4" x2="197.5" y2="403.4" stroke="#111" stroke-width="0.9"/>
<rect x="211.05" y="388.95" width="2.9" height="2.9" fill="#3d5d8f"/>
<rect x="207.35" y="396.25" width="2.9" height="2.9" fill="#3d5d8f"/>
<rect x="212.55" y="395.95" width="2.9" height="2.9" fill="#3d5d8f"/>
<rect x="206.82" y="396.77" width="2.9" height="2.9" fill="#3d5d8f"/>
<rect x="209.85" y="396.71" width="2.9" height="2.9" fill="#3d5d8f"/>
<rect x="212.44" y="396.94" width="2.9" height="2.9" fill="#3d5d8f"/>
<rect x="214.66" y="397.06" width="2.9" height="2.9" fill="#3d5d8f"/>
<rect x="207.89" y="399.25" width="2.9" height="2.9" fill="#3d5d8f"/>
<rect x="210.62" y="398.97" width="2.9" height="2.9" fill="#3d5d8f"/>
<rect x="213.67" y="399.56" width="2.9" height="2.9" fill="#3d5d8f"/>
<rect x="206.62" y="401.33" width="2.9" height="2.9" fill="#3d5d8f"/>
<rect x="209.83" y="401.91" width="2.9" height="2.9" fill="#3d5d8f"/>
<rect x="212.48" y="401.47" width="2.9" height="2.9" fill="#3d5d8f"/>
<rect x="215.58" y="401.19" width="2.9" height="2.9" fill="#3d5d8f"/>
<rect x="208.71" y="403.63" width="2.9" height="2.9" fill="#3d5d8f"/>
<rect x="210.69" y="403.49" width="2.9" height="2.9" fill="#3d5d8f"/>
<rect x="213.56" y="404.05" width="2.9" height="2.9" fill="#3d5d8f"/>
<rect x="206.68" y="406.12" width="2.9" height="2.9" fill="#3d5d8f"/>
<rect x="209.84" y="405.95" width="2.9" height="2.9" fill="#3d5d8f"/>
<rect x="212.45" y="405.7" width="2.9" height="2.9" fill="#3d5d8f"/>
<rect x="214.66" y="405.81" width="2.9" height="2.9" fill="#3d5d8f"/>
<line x1="205.5" y1="401.6" x2="220.5" y2="401.6" stroke="#111" stroke-width="0.9"/>
<path d="M234.4 398.27L236.07 401.32L232.73 401.32Z" fill="#6db04f"/>
<path d="M230.33 401.54L231.99 404.59L228.66 404.59Z" fill="#6db04f"/>
<path d="M232.93 401.34L234.59 404.38L231.26 404.38Z" fill="#6db04f"/>
<path d="M235.59 400.97L237.25 404.02L233.92 404.02Z" fill="#6db04f"/>
<path d="M239.2 400.94L240.87 403.99L237.53 403.99Z" fill="#6db04f"/>
<path d="M241.54 401.14L243.21 404.19L239.87 404.19Z" fill="#6db04f"/>
<path d="M231.9 403.42L233.57 406.46L230.24 406.46Z" fill="#6db04f"/>
<path d="M234.34 403.69L236.01 406.73L232.67 406.73Z" fill="#6db04f"/>
<path d="M236.94 403.21L238.61 406.26L235.27 406.26Z" fill="#6db04f"/>
<path d="M239.57 403.24L241.24 406.28L237.9 406.28Z" fill="#6db04f"/>
<path d="M230.51 405.99L232.18 409.04L228.84 409.04Z" fill="#6db04f"/>
<path d="M233.18 405.36L234.85 408.41L231.51 408.41Z" fill="#6db04f"/>
<path d="M235.76 406.07L237.43 409.11L234.09 409.11Z" fill="#6db04f"/>
<path d="M238.26 405.77L239.93 408.81L236.6 408.81Z" fill="#6db04f"/>
<path d="M241.28 405.8L242.94 408.85L239.61 408.85Z" fill="#6db04f"/>
<line x1="228.5" y1="403.8" x2="243.5" y2="403.8" stroke="#333" stroke-width="0.9"/>
<circle cx="301.2" cy="392.7" r="1.38" fill="#fff" stroke="#555" stroke-width="0.75"/>
<circle cx="304.8" cy="400" r="1.38" fill="#fff" stroke="#555" stroke-width="0.75"/>
<circle cx="300.61" cy="401.4" r="1.38" fill="#fff" stroke="#555" stroke-width="0.75"/>
<circle cx="302.99" cy="401.79" r="1.38" fill="#fff" stroke="#555" stroke-width="0.75"/>
<circle cx="300.16" cy="403.5" r="1.38" fill="#fff" stroke="#555" stroke-width="0.75"/>
<circle cx="303.75" cy="403.16" r="1.38" fill="#fff" stroke="#555" stroke-width="0.75"/>
<circle cx="299.35" cy="405.59" r="1.38" fill="#fff" stroke="#555" stroke-width="0.75"/>
<circle cx="301.54" cy="405.4" r="1.38" fill="#fff" stroke="#555" stroke-width="0.75"/>
<circle cx="304.9" cy="405.46" r="1.38" fill="#fff" stroke="#555" stroke-width="0.75"/>
<circle cx="300.88" cy="407.23" r="1.38" fill="#fff" stroke="#555" stroke-width="0.75"/>
<circle cx="303.09" cy="407.19" r="1.38" fill="#fff" stroke="#555" stroke-width="0.75"/>
<line x1="294.8" y1="403.3" x2="309.4" y2="403.3" stroke="#111" stroke-width="0.9"/>
<circle cx="323.6" cy="383.2" r="1.45" fill="#a4243b"/>
<circle cx="323.6" cy="387.8" r="1.45" fill="#a4243b"/>
<circle cx="321.8" cy="393.6" r="1.45" fill="#a4243b"/>
<circle cx="325.5" cy="395.1" r="1.45" fill="#a4243b"/>
<circle cx="321.17" cy="396.44" r="1.45" fill="#a4243b"/>
<circle cx="323.88" cy="396.26" r="1.45" fill="#a4243b"/>
<circle cx="326.81" cy="396.76" r="1.45" fill="#a4243b"/>
<circle cx="322.6" cy="398.63" r="1.45" fill="#a4243b"/>
<circle cx="325.17" cy="398.76" r="1.45" fill="#a4243b"/>
<circle cx="320.85" cy="401.66" r="1.45" fill="#a4243b"/>
<circle cx="324.3" cy="400.94" r="1.45" fill="#a4243b"/>
<circle cx="326.86" cy="401.38" r="1.45" fill="#a4243b"/>
<circle cx="320.98" cy="403.53" r="1.45" fill="#a4243b"/>
<circle cx="323.97" cy="403.67" r="1.45" fill="#a4243b"/>
<circle cx="326.69" cy="403.83" r="1.45" fill="#a4243b"/>
<circle cx="322.08" cy="406.31" r="1.45" fill="#a4243b"/>
<circle cx="325.63" cy="406.48" r="1.45" fill="#a4243b"/>
<circle cx="321.21" cy="408.14" r="1.45" fill="#a4243b"/>
<circle cx="323.3" cy="408.21" r="1.45" fill="#a4243b"/>
<circle cx="326.94" cy="408.34" r="1.45" fill="#a4243b"/>
<line x1="316.2" y1="399.1" x2="331.8" y2="399.1" stroke="#111" stroke-width="0.9"/>
<line x1="323.8" y1="397.5" x2="323.8" y2="401" stroke="#222" stroke-width="0.6"/>
<line x1="321.8" y1="397.5" x2="325.8" y2="397.5" stroke="#222" stroke-width="0.6"/>
<line x1="321.8" y1="401" x2="325.8" y2="401" stroke="#222" stroke-width="0.6"/>
<rect x="342.35" y="389.65" width="2.9" height="2.9" fill="#3d5d8f"/>
<rect x="346.55" y="392.15" width="2.9" height="2.9" fill="#3d5d8f"/>
<rect x="340.8" y="395.1" width="2.9" height="2.9" fill="#3d5d8f"/>
<rect x="343.97" y="395.02" width="2.9" height="2.9" fill="#3d5d8f"/>
<rect x="346.26" y="395.12" width="2.9" height="2.9" fill="#3d5d8f"/>
<rect x="341.88" y="397.36" width="2.9" height="2.9" fill="#3d5d8f"/>
<rect x="345.03" y="397.58" width="2.9" height="2.9" fill="#3d5d8f"/>
<rect x="340.44" y="399.49" width="2.9" height="2.9" fill="#3d5d8f"/>
<rect x="343.14" y="399.9" width="2.9" height="2.9" fill="#3d5d8f"/>
<rect x="346.44" y="399.28" width="2.9" height="2.9" fill="#3d5d8f"/>
<rect x="341.33" y="402.32" width="2.9" height="2.9" fill="#3d5d8f"/>
<rect x="343.7" y="402.04" width="2.9" height="2.9" fill="#3d5d8f"/>
<rect x="345.91" y="401.56" width="2.9" height="2.9" fill="#3d5d8f"/>
<rect x="342.23" y="403.9" width="2.9" height="2.9" fill="#3d5d8f"/>
<rect x="344.59" y="404.04" width="2.9" height="2.9" fill="#3d5d8f"/>
<rect x="340.38" y="406.52" width="2.9" height="2.9" fill="#3d5d8f"/>
<rect x="343.49" y="406.82" width="2.9" height="2.9" fill="#3d5d8f"/>
<rect x="346.27" y="406.66" width="2.9" height="2.9" fill="#3d5d8f"/>
<line x1="337.2" y1="402.1" x2="353" y2="402.1" stroke="#111" stroke-width="0.9"/>
<path d="M370.3 396.97L371.97 400.02L368.63 400.02Z" fill="#6db04f"/>
<path d="M366.6 397.87L368.27 400.92L364.93 400.92Z" fill="#6db04f"/>
<path d="M364.42 399.8L366.09 402.84L362.76 402.84Z" fill="#6db04f"/>
<path d="M367.32 399.39L368.98 402.43L365.65 402.43Z" fill="#6db04f"/>
<path d="M369.36 399.57L371.03 402.62L367.69 402.62Z" fill="#6db04f"/>
<path d="M372.32 399.92L373.99 402.97L370.66 402.97Z" fill="#6db04f"/>
<path d="M365.99 401.92L367.66 404.97L364.32 404.97Z" fill="#6db04f"/>
<path d="M368.56 401.97L370.23 405.01L366.89 405.01Z" fill="#6db04f"/>
<path d="M370.85 401.79L372.51 404.84L369.18 404.84Z" fill="#6db04f"/>
<path d="M365.46 404.33L367.13 407.38L363.79 407.38Z" fill="#6db04f"/>
<path d="M368.06 404.26L369.73 407.31L366.39 407.31Z" fill="#6db04f"/>
<path d="M370.77 404.16L372.44 407.2L369.11 407.2Z" fill="#6db04f"/>
<path d="M364.29 406.1L365.95 409.14L362.62 409.14Z" fill="#6db04f"/>
<path d="M367.49 405.79L369.16 408.83L365.82 408.83Z" fill="#6db04f"/>
<path d="M369.41 406.51L371.08 409.55L367.74 409.55Z" fill="#6db04f"/>
<path d="M372.56 405.85L374.23 408.89L370.89 408.89Z" fill="#6db04f"/>
<line x1="360" y1="403.3" x2="375" y2="403.3" stroke="#333" stroke-width="0.9"/>
<circle cx="430.36" cy="407.75" r="1.38" fill="#bbb" stroke="#3a3a3a" stroke-width="0.8"/>
<circle cx="433.48" cy="407.88" r="1.38" fill="#bbb" stroke="#3a3a3a" stroke-width="0.8"/>
<circle cx="435.69" cy="407.38" r="1.38" fill="#bbb" stroke="#3a3a3a" stroke-width="0.8"/>
<circle cx="438.35" cy="407.38" r="1.38" fill="#bbb" stroke="#3a3a3a" stroke-width="0.8"/>
<circle cx="441.63" cy="407.3" r="1.38" fill="#bbb" stroke="#3a3a3a" stroke-width="0.8"/>
<circle cx="430.63" cy="408.77" r="1.38" fill="#bbb" stroke="#3a3a3a" stroke-width="0.8"/>
<circle cx="433.09" cy="408.95" r="1.38" fill="#bbb" stroke="#3a3a3a" stroke-width="0.8"/>
<circle cx="436.34" cy="409.09" r="1.38" fill="#bbb" stroke="#3a3a3a" stroke-width="0.8"/>
<circle cx="438.21" cy="408.82" r="1.38" fill="#bbb" stroke="#3a3a3a" stroke-width="0.8"/>
<circle cx="441.05" cy="409.3" r="1.38" fill="#bbb" stroke="#3a3a3a" stroke-width="0.8"/>
<line x1="428" y1="408.2" x2="444" y2="408.2" stroke="#111" stroke-width="0.9"/>
<circle cx="453.8" cy="392.9" r="1.45" fill="#a4243b"/>
<circle cx="458.4" cy="391.9" r="1.45" fill="#a4243b"/>
<circle cx="461.1" cy="393.8" r="1.45" fill="#a4243b"/>
<circle cx="456.6" cy="395.6" r="1.45" fill="#a4243b"/>
<circle cx="452.9" cy="397.4" r="1.45" fill="#a4243b"/>
<circle cx="457.5" cy="400.2" r="1.45" fill="#a4243b"/>
<circle cx="453.8" cy="402" r="1.45" fill="#a4243b"/>
<circle cx="462" cy="401.1" r="1.45" fill="#a4243b"/>
<circle cx="451.21" cy="404.16" r="1.45" fill="#a4243b"/>
<circle cx="454.45" cy="404.35" r="1.45" fill="#a4243b"/>
<circle cx="456.77" cy="403.8" r="1.45" fill="#a4243b"/>
<circle cx="459.93" cy="404.13" r="1.45" fill="#a4243b"/>
<circle cx="462.2" cy="404.15" r="1.45" fill="#a4243b"/>
<circle cx="452.85" cy="406.72" r="1.45" fill="#a4243b"/>
<circle cx="455.27" cy="406.28" r="1.45" fill="#a4243b"/>
<circle cx="458.75" cy="406.39" r="1.45" fill="#a4243b"/>
<circle cx="460.81" cy="406.74" r="1.45" fill="#a4243b"/>
<circle cx="451.73" cy="408.72" r="1.45" fill="#a4243b"/>
<circle cx="454.35" cy="409.13" r="1.45" fill="#a4243b"/>
<circle cx="456.66" cy="409.12" r="1.45" fill="#a4243b"/>
<circle cx="459.32" cy="408.87" r="1.45" fill="#a4243b"/>
<circle cx="461.98" cy="408.76" r="1.45" fill="#a4243b"/>
<line x1="449.3" y1="403.5" x2="464.2" y2="403.5" stroke="#111" stroke-width="0.9"/>
<rect x="477.95" y="400.55" width="2.9" height="2.9" fill="#3d5d8f"/>
<rect x="481.65" y="400.55" width="2.9" height="2.9" fill="#3d5d8f"/>
<rect x="471.82" y="403.96" width="2.9" height="2.9" fill="#3d5d8f"/>
<rect x="474.19" y="404.08" width="2.9" height="2.9" fill="#3d5d8f"/>
<rect x="477.04" y="403.96" width="2.9" height="2.9" fill="#3d5d8f"/>
<rect x="479.53" y="404.5" width="2.9" height="2.9" fill="#3d5d8f"/>
<rect x="482.11" y="404.75" width="2.9" height="2.9" fill="#3d5d8f"/>
<rect x="484.09" y="404.22" width="2.9" height="2.9" fill="#3d5d8f"/>
<rect x="471.56" y="407.17" width="2.9" height="2.9" fill="#3d5d8f"/>
<rect x="473.71" y="407.13" width="2.9" height="2.9" fill="#3d5d8f"/>
<rect x="476.91" y="407.65" width="2.9" height="2.9" fill="#3d5d8f"/>
<rect x="479.45" y="407.13" width="2.9" height="2.9" fill="#3d5d8f"/>
<rect x="482.17" y="407.36" width="2.9" height="2.9" fill="#3d5d8f"/>
<rect x="484.08" y="407.31" width="2.9" height="2.9" fill="#3d5d8f"/>
<line x1="471.6" y1="407.1" x2="487" y2="407.1" stroke="#111" stroke-width="0.9"/>
<path d="M504.5 390.47L506.17 393.52L502.83 393.52Z" fill="#6db04f"/>
<path d="M501.4 393.77L503.07 396.82L499.73 396.82Z" fill="#6db04f"/>
<path d="M507.4 394.67L509.07 397.72L505.73 397.72Z" fill="#6db04f"/>
<path d="M498.6 398.37L500.27 401.42L496.93 401.42Z" fill="#6db04f"/>
<path d="M497.11 400.16L498.78 403.2L495.44 403.2Z" fill="#6db04f"/>
<path d="M499.87 400.13L501.53 403.18L498.2 403.18Z" fill="#6db04f"/>
<path d="M502.56 400.3L504.23 403.34L500.89 403.34Z" fill="#6db04f"/>
<path d="M505.11 400.28L506.78 403.33L503.44 403.33Z" fill="#6db04f"/>
<path d="M498.11 402.35L499.78 405.39L496.44 405.39Z" fill="#6db04f"/>
<path d="M501.14 402.22L502.8 405.26L499.47 405.26Z" fill="#6db04f"/>
<path d="M504.24 402.35L505.91 405.4L502.58 405.4Z" fill="#6db04f"/>
<path d="M498.89 405.2L500.56 408.25L497.22 408.25Z" fill="#6db04f"/>
<path d="M501.05 405.15L502.72 408.2L499.39 408.2Z" fill="#6db04f"/>
<path d="M504.31 404.97L505.98 408.02L502.64 408.02Z" fill="#6db04f"/>
<path d="M496.78 407.14L498.44 410.18L495.11 410.18Z" fill="#6db04f"/>
<path d="M500.08 407.01L501.74 410.05L498.41 410.05Z" fill="#6db04f"/>
<path d="M502.37 407.02L504.04 410.07L500.71 410.07Z" fill="#6db04f"/>
<path d="M505.11 407.4L506.78 410.45L503.44 410.45Z" fill="#6db04f"/>
<line x1="494" y1="403.8" x2="510" y2="403.8" stroke="#333" stroke-width="0.9"/>
<text x="468" y="380.4" font-size="4.8" text-anchor="middle" textLength="22.8" lengthAdjust="spacingAndGlyphs" fill="#333">p=0.0217</text>
<line x1="455.8" y1="383.2" x2="478.5" y2="383.2" stroke="#333" stroke-width="0.8"/>
<line x1="33.3" y1="455.2" x2="33.3" y2="518.2" stroke="#1c1c1c" stroke-width="1.1"/>
<line x1="32.8" y1="517.7" x2="121.3" y2="517.7" stroke="#1c1c1c" stroke-width="1.1"/>
<line x1="29.4" y1="517.7" x2="33.3" y2="517.7" stroke="#1c1c1c" stroke-width="0.9"/>
<text x="27" y="519.9" font-size="6.4" text-anchor="end" textLength="3.3" lengthAdjust="spacingAndGlyphs" fill="#333">0</text>
<line x1="29.4" y1="502.8" x2="33.3" y2="502.8" stroke="#1c1c1c" stroke-width="0.9"/>
<text x="27" y="505" font-size="6.4" text-anchor="end" textLength="3.3" lengthAdjust="spacingAndGlyphs" fill="#333">5</text>
<line x1="29.4" y1="487.9" x2="33.3" y2="487.9" stroke="#1c1c1c" stroke-width="0.9"/>
<text x="27" y="490.1" font-size="6.4" text-anchor="end" textLength="6.8" lengthAdjust="spacingAndGlyphs" fill="#333">10</text>
<line x1="29.4" y1="473" x2="33.3" y2="473" stroke="#1c1c1c" stroke-width="0.9"/>
<text x="27" y="475.2" font-size="6.4" text-anchor="end" textLength="6.8" lengthAdjust="spacingAndGlyphs" fill="#333">15</text>
<line x1="29.4" y1="458.1" x2="33.3" y2="458.1" stroke="#1c1c1c" stroke-width="0.9"/>
<text x="27" y="460.3" font-size="6.4" text-anchor="end" textLength="6.8" lengthAdjust="spacingAndGlyphs" fill="#333">20</text>
<text x="46.2" y="525.9" font-size="6.6" text-anchor="middle" textLength="10.6" lengthAdjust="spacingAndGlyphs">PBS</text>
<text x="67" y="525.9" font-size="6.6" text-anchor="middle" textLength="10.6" lengthAdjust="spacingAndGlyphs">PBS</text>
<text x="89.7" y="525.9" font-size="6.6" text-anchor="middle" textLength="20.2" lengthAdjust="spacingAndGlyphs">IFNα14</text>
<text x="112.7" y="525.9" font-size="6.6" text-anchor="middle" textLength="20.2" lengthAdjust="spacingAndGlyphs">IFNα17</text>
<line x1="57.5" y1="530.8" x2="120.6" y2="530.8" stroke="#333" stroke-width="0.95"/>
<text x="89.5" y="538.5" font-size="6.6" text-anchor="middle" textLength="10.8" lengthAdjust="spacingAndGlyphs">EBV</text>
<text x="60" y="449.7" font-size="8.6" style="stroke-width:0.14px" textLength="24.5" lengthAdjust="spacingAndGlyphs">week 5</text>
<circle cx="39.76" cy="515.75" r="1.38" fill="#bbb" stroke="#3a3a3a" stroke-width="0.8"/>
<circle cx="42.93" cy="515.58" r="1.38" fill="#bbb" stroke="#3a3a3a" stroke-width="0.8"/>
<circle cx="45.22" cy="515.83" r="1.38" fill="#bbb" stroke="#3a3a3a" stroke-width="0.8"/>
<circle cx="48.51" cy="515.61" r="1.38" fill="#bbb" stroke="#3a3a3a" stroke-width="0.8"/>
<circle cx="50.91" cy="515.39" r="1.38" fill="#bbb" stroke="#3a3a3a" stroke-width="0.8"/>
<circle cx="39.6" cy="516.9" r="1.38" fill="#bbb" stroke="#3a3a3a" stroke-width="0.8"/>
<circle cx="42.89" cy="516.66" r="1.38" fill="#bbb" stroke="#3a3a3a" stroke-width="0.8"/>
<circle cx="45.79" cy="516.79" r="1.38" fill="#bbb" stroke="#3a3a3a" stroke-width="0.8"/>
<circle cx="47.93" cy="516.63" r="1.38" fill="#bbb" stroke="#3a3a3a" stroke-width="0.8"/>
<circle cx="51.4" cy="517.19" r="1.38" fill="#bbb" stroke="#3a3a3a" stroke-width="0.8"/>
<line x1="38" y1="516.2" x2="53" y2="516.2" stroke="#111" stroke-width="0.9"/>
<circle cx="67.5" cy="466" r="1.45" fill="#a4243b"/>
<circle cx="67.5" cy="493" r="1.45" fill="#a4243b"/>
<circle cx="65.3" cy="496.7" r="1.45" fill="#a4243b"/>
<circle cx="69.3" cy="495.6" r="1.45" fill="#a4243b"/>
<circle cx="67.5" cy="502.9" r="1.45" fill="#a4243b"/>
<circle cx="64.7" cy="504.7" r="1.45" fill="#a4243b"/>
<circle cx="69.3" cy="504.7" r="1.45" fill="#a4243b"/>
<circle cx="62.9" cy="508.9" r="1.45" fill="#a4243b"/>
<circle cx="67.5" cy="509.8" r="1.45" fill="#a4243b"/>
<circle cx="72" cy="509.8" r="1.45" fill="#a4243b"/>
<circle cx="62" cy="513.5" r="1.45" fill="#a4243b"/>
<circle cx="67.5" cy="513.5" r="1.45" fill="#a4243b"/>
<circle cx="73" cy="513.5" r="1.45" fill="#a4243b"/>
<circle cx="63.8" cy="517.2" r="1.45" fill="#a4243b"/>
<circle cx="69.3" cy="517.2" r="1.45" fill="#a4243b"/>
<circle cx="71" cy="507" r="1.45" fill="#a4243b"/>
<circle cx="64" cy="511" r="1.45" fill="#a4243b"/>
<line x1="60.2" y1="506.2" x2="75.3" y2="506.2" stroke="#111" stroke-width="0.9"/>
<line x1="67.5" y1="502.3" x2="67.5" y2="510" stroke="#222" stroke-width="0.7"/>
<line x1="65.5" y1="502.3" x2="69.5" y2="502.3" stroke="#222" stroke-width="0.7"/>
<line x1="65.5" y1="510" x2="69.5" y2="510" stroke="#222" stroke-width="0.7"/>
<rect x="87.95" y="492.45" width="2.9" height="2.9" fill="#3d5d8f"/>
<rect x="87.95" y="497.75" width="2.9" height="2.9" fill="#3d5d8f"/>
<rect x="82.45" y="508.05" width="2.9" height="2.9" fill="#3d5d8f"/>
<rect x="88.55" y="508.05" width="2.9" height="2.9" fill="#3d5d8f"/>
<rect x="93.45" y="509.35" width="2.9" height="2.9" fill="#3d5d8f"/>
<rect x="83.35" y="512.95" width="2.9" height="2.9" fill="#3d5d8f"/>
<rect x="90.75" y="512.95" width="2.9" height="2.9" fill="#3d5d8f"/>
<rect x="85.25" y="515.75" width="2.9" height="2.9" fill="#3d5d8f"/>
<rect x="92.55" y="515.35" width="2.9" height="2.9" fill="#3d5d8f"/>
<rect x="86.55" y="510.55" width="2.9" height="2.9" fill="#3d5d8f"/>
<rect x="88.55" y="514.55" width="2.9" height="2.9" fill="#3d5d8f"/>
<line x1="82" y1="512.2" x2="97" y2="512.2" stroke="#111" stroke-width="0.9"/>
<path d="M112.3 501.07L113.97 504.12L110.63 504.12Z" fill="#6db04f"/>
<path d="M106.8 507.67L108.47 510.72L105.13 510.72Z" fill="#6db04f"/>
<path d="M110.4 507.67L112.07 510.72L108.73 510.72Z" fill="#6db04f"/>
<path d="M114.1 507.67L115.77 510.72L112.43 510.72Z" fill="#6db04f"/>
<path d="M117.8 510.17L119.47 513.22L116.13 513.22Z" fill="#6db04f"/>
<path d="M105.9 512.57L107.57 515.62L104.23 515.62Z" fill="#6db04f"/>
<path d="M111.4 513.47L113.07 516.52L109.73 516.52Z" fill="#6db04f"/>
<path d="M116.8 514.37L118.47 517.42L115.13 517.42Z" fill="#6db04f"/>
<path d="M108 515.17L109.67 518.22L106.33 518.22Z" fill="#6db04f"/>
<path d="M113 515.17L114.67 518.22L111.33 518.22Z" fill="#6db04f"/>
<line x1="104.6" y1="513.1" x2="120" y2="513.1" stroke="#333" stroke-width="0.9"/>
<text x="141.2" y="487" font-size="8.3" style="stroke-width:0.14px" text-anchor="middle" textLength="73.8" lengthAdjust="spacingAndGlyphs" transform="rotate(-90 141.2 487)">Blood CD8/CD4 ratio</text>
<line x1="156.7" y1="455.2" x2="156.7" y2="518.2" stroke="#1c1c1c" stroke-width="1.1"/>
<line x1="156.2" y1="517.7" x2="246.2" y2="517.7" stroke="#1c1c1c" stroke-width="1.1"/>
<line x1="152.8" y1="517.7" x2="156.7" y2="517.7" stroke="#1c1c1c" stroke-width="0.9"/>
<text x="150.4" y="519.9" font-size="6.4" text-anchor="end" textLength="3.3" lengthAdjust="spacingAndGlyphs" fill="#333">0</text>
<line x1="152.8" y1="505.8" x2="156.7" y2="505.8" stroke="#1c1c1c" stroke-width="0.9"/>
<text x="150.4" y="508" font-size="6.4" text-anchor="end" textLength="3.3" lengthAdjust="spacingAndGlyphs" fill="#333">1</text>
<line x1="152.8" y1="493.9" x2="156.7" y2="493.9" stroke="#1c1c1c" stroke-width="0.9"/>
<text x="150.4" y="496.1" font-size="6.4" text-anchor="end" textLength="3.3" lengthAdjust="spacingAndGlyphs" fill="#333">2</text>
<line x1="152.8" y1="482" x2="156.7" y2="482" stroke="#1c1c1c" stroke-width="0.9"/>
<text x="150.4" y="484.2" font-size="6.4" text-anchor="end" textLength="3.3" lengthAdjust="spacingAndGlyphs" fill="#333">3</text>
<line x1="152.8" y1="470.1" x2="156.7" y2="470.1" stroke="#1c1c1c" stroke-width="0.9"/>
<text x="150.4" y="472.3" font-size="6.4" text-anchor="end" textLength="3.3" lengthAdjust="spacingAndGlyphs" fill="#333">4</text>
<line x1="152.8" y1="458.2" x2="156.7" y2="458.2" stroke="#1c1c1c" stroke-width="0.9"/>
<text x="150.4" y="460.4" font-size="6.4" text-anchor="end" textLength="3.3" lengthAdjust="spacingAndGlyphs" fill="#333">5</text>
<line x1="165.4" y1="517.7" x2="165.4" y2="520.5" stroke="#1c1c1c" stroke-width="0.8"/>
<text x="169.8" y="526.4" font-size="6.9" text-anchor="end" textLength="10.2" lengthAdjust="spacingAndGlyphs" transform="rotate(-45 169.8 526.4)">W0</text>
<line x1="179.8" y1="517.7" x2="179.8" y2="520.5" stroke="#1c1c1c" stroke-width="0.8"/>
<text x="184.2" y="526.4" font-size="6.9" text-anchor="end" textLength="10.2" lengthAdjust="spacingAndGlyphs" transform="rotate(-45 184.2 526.4)">W1</text>
<line x1="193.8" y1="517.7" x2="193.8" y2="520.5" stroke="#1c1c1c" stroke-width="0.8"/>
<text x="198.2" y="526.4" font-size="6.9" text-anchor="end" textLength="10.2" lengthAdjust="spacingAndGlyphs" transform="rotate(-45 198.2 526.4)">W2</text>
<line x1="208.3" y1="517.7" x2="208.3" y2="520.5" stroke="#1c1c1c" stroke-width="0.8"/>
<text x="212.7" y="526.4" font-size="6.9" text-anchor="end" textLength="10.2" lengthAdjust="spacingAndGlyphs" transform="rotate(-45 212.7 526.4)">W3</text>
<line x1="222.7" y1="517.7" x2="222.7" y2="520.5" stroke="#1c1c1c" stroke-width="0.8"/>
<text x="227.1" y="526.4" font-size="6.9" text-anchor="end" textLength="10.2" lengthAdjust="spacingAndGlyphs" transform="rotate(-45 227.1 526.4)">W4</text>
<line x1="236.9" y1="517.7" x2="236.9" y2="520.5" stroke="#1c1c1c" stroke-width="0.8"/>
<text x="241.3" y="526.4" font-size="6.9" text-anchor="end" textLength="10.2" lengthAdjust="spacingAndGlyphs" transform="rotate(-45 241.3 526.4)">W5</text>
<polyline points="165.4,513.8 179.8,513.8 193.8,513.6 208.3,513.3 222.7,514.3 236.9,513.7" fill="none" stroke="#8a8a8a" stroke-width="1"/>
<polyline points="165.4,515 179.8,514.4 193.8,515 208.3,513.8 222.7,494.6 236.9,498.1" fill="none" stroke="#6db04f" stroke-width="1"/>
<polyline points="165.4,513.8 179.8,513.8 193.8,513.8 208.3,513.1 222.7,507.3 236.9,495.8" fill="none" stroke="#3d5d8f" stroke-width="1"/>
<polyline points="165.4,513.5 179.8,511.9 193.8,513.1 208.3,511.9 222.7,491.3 236.9,474" fill="none" stroke="#a4243b" stroke-width="1"/>
<line x1="222.7" y1="486.5" x2="222.7" y2="496" stroke="#1a1a1a" stroke-width="1"/>
<line x1="220.9" y1="486.5" x2="224.5" y2="486.5" stroke="#1a1a1a" stroke-width="1"/>
<line x1="220.9" y1="496" x2="224.5" y2="496" stroke="#1a1a1a" stroke-width="1"/>
<line x1="236.9" y1="463.8" x2="236.9" y2="482.7" stroke="#1a1a1a" stroke-width="1"/>
<line x1="235.1" y1="463.8" x2="238.7" y2="463.8" stroke="#1a1a1a" stroke-width="1"/>
<line x1="235.1" y1="482.7" x2="238.7" y2="482.7" stroke="#1a1a1a" stroke-width="1"/>
<line x1="222.7" y1="502.5" x2="222.7" y2="511" stroke="#1a1a1a" stroke-width="1"/>
<line x1="220.9" y1="502.5" x2="224.5" y2="502.5" stroke="#1a1a1a" stroke-width="1"/>
<line x1="220.9" y1="511" x2="224.5" y2="511" stroke="#1a1a1a" stroke-width="1"/>
<line x1="236.9" y1="488.5" x2="236.9" y2="503" stroke="#1a1a1a" stroke-width="1"/>
<line x1="235.1" y1="488.5" x2="238.7" y2="488.5" stroke="#1a1a1a" stroke-width="1"/>
<line x1="235.1" y1="503" x2="238.7" y2="503" stroke="#1a1a1a" stroke-width="1"/>
<line x1="222.7" y1="490" x2="222.7" y2="499.6" stroke="#1a1a1a" stroke-width="1"/>
<line x1="220.9" y1="490" x2="224.5" y2="490" stroke="#1a1a1a" stroke-width="1"/>
<line x1="220.9" y1="499.6" x2="224.5" y2="499.6" stroke="#1a1a1a" stroke-width="1"/>
<line x1="236.9" y1="492.7" x2="236.9" y2="502.3" stroke="#1a1a1a" stroke-width="1"/>
<line x1="235.1" y1="492.7" x2="238.7" y2="492.7" stroke="#1a1a1a" stroke-width="1"/>
<line x1="235.1" y1="502.3" x2="238.7" y2="502.3" stroke="#1a1a1a" stroke-width="1"/>
<line x1="179.8" y1="510" x2="179.8" y2="514" stroke="#1a1a1a" stroke-width="1"/>
<line x1="178" y1="510" x2="181.6" y2="510" stroke="#1a1a1a" stroke-width="1"/>
<line x1="178" y1="514" x2="181.6" y2="514" stroke="#1a1a1a" stroke-width="1"/>
<line x1="208.3" y1="510.5" x2="208.3" y2="514.5" stroke="#1a1a1a" stroke-width="1"/>
<line x1="206.5" y1="510.5" x2="210.1" y2="510.5" stroke="#1a1a1a" stroke-width="1"/>
<line x1="206.5" y1="514.5" x2="210.1" y2="514.5" stroke="#1a1a1a" stroke-width="1"/>
<line x1="193.8" y1="511" x2="193.8" y2="516" stroke="#1a1a1a" stroke-width="1"/>
<line x1="192" y1="511" x2="195.6" y2="511" stroke="#1a1a1a" stroke-width="1"/>
<line x1="192" y1="516" x2="195.6" y2="516" stroke="#1a1a1a" stroke-width="1"/>
<line x1="165.4" y1="511.5" x2="165.4" y2="516" stroke="#1a1a1a" stroke-width="1"/>
<line x1="163.6" y1="511.5" x2="167.2" y2="511.5" stroke="#1a1a1a" stroke-width="1"/>
<line x1="163.6" y1="516" x2="167.2" y2="516" stroke="#1a1a1a" stroke-width="1"/>
<circle cx="165.4" cy="513.8" r="1.4" fill="#fff" stroke="#888" stroke-width="0.7"/>
<circle cx="179.8" cy="513.8" r="1.4" fill="#fff" stroke="#888" stroke-width="0.7"/>
<circle cx="193.8" cy="513.6" r="1.4" fill="#fff" stroke="#888" stroke-width="0.7"/>
<circle cx="208.3" cy="513.3" r="1.4" fill="#fff" stroke="#888" stroke-width="0.7"/>
<circle cx="222.7" cy="514.3" r="1.4" fill="#fff" stroke="#888" stroke-width="0.7"/>
<circle cx="236.9" cy="513.7" r="1.4" fill="#fff" stroke="#888" stroke-width="0.7"/>
<path d="M165.4 513.2L167.2 516.3L163.6 516.3Z" fill="#6db04f"/>
<path d="M179.8 512.6L181.6 515.7L178 515.7Z" fill="#6db04f"/>
<path d="M193.8 513.2L195.6 516.3L192 516.3Z" fill="#6db04f"/>
<path d="M208.3 512L210.1 515.1L206.5 515.1Z" fill="#6db04f"/>
<path d="M222.7 492.8L224.5 495.9L220.9 495.9Z" fill="#6db04f"/>
<path d="M236.9 496.3L238.7 499.4L235.1 499.4Z" fill="#6db04f"/>
<rect x="164" y="512.4" width="2.8" height="2.8" fill="#3d5d8f"/>
<rect x="178.4" y="512.4" width="2.8" height="2.8" fill="#3d5d8f"/>
<rect x="192.4" y="512.4" width="2.8" height="2.8" fill="#3d5d8f"/>
<rect x="206.9" y="511.7" width="2.8" height="2.8" fill="#3d5d8f"/>
<rect x="221.3" y="505.9" width="2.8" height="2.8" fill="#3d5d8f"/>
<rect x="235.5" y="494.4" width="2.8" height="2.8" fill="#3d5d8f"/>
<circle cx="165.4" cy="513.5" r="1.4" fill="#a4243b"/>
<circle cx="179.8" cy="511.9" r="1.4" fill="#a4243b"/>
<circle cx="193.8" cy="513.1" r="1.4" fill="#a4243b"/>
<circle cx="208.3" cy="511.9" r="1.4" fill="#a4243b"/>
<circle cx="222.7" cy="491.3" r="1.4" fill="#a4243b"/>
<circle cx="236.9" cy="474" r="1.4" fill="#a4243b"/>
<line x1="160" y1="459.6" x2="168.3" y2="459.6" stroke="#8a8a8a" stroke-width="1"/>
<circle cx="164.2" cy="459.6" r="1.4" fill="#fff" stroke="#888" stroke-width="0.7"/>
<text x="171.2" y="461.7" font-size="5.9" textLength="8.6" lengthAdjust="spacingAndGlyphs">PBS</text>
<line x1="160" y1="468.3" x2="168.3" y2="468.3" stroke="#a4243b" stroke-width="1"/>
<circle cx="164.2" cy="468.3" r="1.4" fill="#a4243b"/>
<text x="170" y="470.4" font-size="5.9" textLength="8" lengthAdjust="spacingAndGlyphs">EBV</text>
<line x1="160" y1="476.5" x2="168.3" y2="476.5" stroke="#3d5d8f" stroke-width="1"/>
<rect x="162.8" y="475.1" width="2.8" height="2.8" fill="#3d5d8f"/>
<text x="170" y="478.6" font-size="5.9" textLength="28" lengthAdjust="spacingAndGlyphs">EBV+IFNα14</text>
<line x1="160" y1="485" x2="168.3" y2="485" stroke="#6db04f" stroke-width="1"/>
<path d="M164.2 483.2L166 486.3L162.4 486.3Z" fill="#6db04f"/>
<text x="170" y="487.1" font-size="5.9" textLength="28" lengthAdjust="spacingAndGlyphs">EBV+IFNα17</text>
<text x="220.85" y="477.8" font-size="4.8" text-anchor="middle" textLength="21.7" lengthAdjust="spacingAndGlyphs" fill="#333">p=0.0217</text>
<line x1="290.2" y1="455" x2="290.2" y2="518.1" stroke="#1c1c1c" stroke-width="1.1"/>
<line x1="289.7" y1="517.6" x2="377.5" y2="517.6" stroke="#1c1c1c" stroke-width="1.1"/>
<line x1="286.3" y1="517.6" x2="290.2" y2="517.6" stroke="#1c1c1c" stroke-width="0.9"/>
<text x="283.9" y="519.8" font-size="6.4" text-anchor="end" textLength="7.6" lengthAdjust="spacingAndGlyphs" fill="#333">0.0</text>
<line x1="286.3" y1="502.9" x2="290.2" y2="502.9" stroke="#1c1c1c" stroke-width="0.9"/>
<text x="283.9" y="505.1" font-size="6.4" text-anchor="end" textLength="7.6" lengthAdjust="spacingAndGlyphs" fill="#333">0.5</text>
<line x1="286.3" y1="488" x2="290.2" y2="488" stroke="#1c1c1c" stroke-width="0.9"/>
<text x="283.9" y="490.2" font-size="6.4" text-anchor="end" textLength="7.6" lengthAdjust="spacingAndGlyphs" fill="#333">1.0</text>
<line x1="286.3" y1="473.1" x2="290.2" y2="473.1" stroke="#1c1c1c" stroke-width="0.9"/>
<text x="283.9" y="475.3" font-size="6.4" text-anchor="end" textLength="7.6" lengthAdjust="spacingAndGlyphs" fill="#333">1.5</text>
<line x1="286.3" y1="457.9" x2="290.2" y2="457.9" stroke="#1c1c1c" stroke-width="0.9"/>
<text x="283.9" y="460.1" font-size="6.4" text-anchor="end" textLength="7.6" lengthAdjust="spacingAndGlyphs" fill="#333">2.0</text>
<text x="306.3" y="449.7" font-size="8.6" style="stroke-width:0.14px" textLength="57.5" lengthAdjust="spacingAndGlyphs">blood total CD8</text>
<rect x="293.2" y="513.4" width="15.9" height="4.2" fill="#5f636b" stroke="#4a4d54" stroke-width="0.8"/>
<line x1="301.15" y1="513.4" x2="301.15" y2="512.1" stroke="#333" stroke-width="1"/>
<line x1="297.15" y1="512.1" x2="305.15" y2="512.1" stroke="#333" stroke-width="1.1"/>
<rect x="316.1" y="478.6" width="15.5" height="39" fill="#a5354b" stroke="#8a2a3c" stroke-width="0.8"/>
<line x1="323.85" y1="478.6" x2="323.85" y2="469.1" stroke="#333" stroke-width="1"/>
<line x1="319.85" y1="469.1" x2="327.85" y2="469.1" stroke="#333" stroke-width="1.1"/>
<rect x="338.4" y="491.1" width="15.7" height="26.5" fill="#4b6388" stroke="#3b5070" stroke-width="0.8"/>
<line x1="346.25" y1="491.1" x2="346.25" y2="482.9" stroke="#333" stroke-width="1"/>
<line x1="342.25" y1="482.9" x2="350.25" y2="482.9" stroke="#333" stroke-width="1.1"/>
<rect x="360.5" y="496.2" width="16.3" height="21.4" fill="#74aa5a" stroke="#5e9148" stroke-width="0.8"/>
<line x1="368.65" y1="496.2" x2="368.65" y2="490.7" stroke="#333" stroke-width="1"/>
<line x1="364.65" y1="490.7" x2="372.65" y2="490.7" stroke="#333" stroke-width="1.1"/>
<text x="302.3" y="525.9" font-size="6.6" text-anchor="middle" textLength="10.6" lengthAdjust="spacingAndGlyphs">PBS</text>
<text x="323.7" y="525.9" font-size="6.6" text-anchor="middle" textLength="10.6" lengthAdjust="spacingAndGlyphs">PBS</text>
<text x="345.8" y="525.9" font-size="6.6" text-anchor="middle" textLength="20.2" lengthAdjust="spacingAndGlyphs">IFNα14</text>
<text x="368.7" y="525.9" font-size="6.6" text-anchor="middle" textLength="20.2" lengthAdjust="spacingAndGlyphs">IFNα17</text>
<line x1="316" y1="530.8" x2="376.5" y2="530.8" stroke="#333" stroke-width="0.95"/>
<text x="346.2" y="538.5" font-size="6.6" text-anchor="middle" textLength="10.8" lengthAdjust="spacingAndGlyphs">EBV</text>
<text x="258.9" y="486.6" font-size="8.2" style="stroke-width:0.14px" text-anchor="middle" textLength="44" lengthAdjust="spacingAndGlyphs" transform="rotate(-90 258.9 486.6)">CD8+ T cells</text>
<text x="269.4" y="489.5" font-size="8.2" style="stroke-width:0.14px" text-anchor="middle" textLength="91.7" lengthAdjust="spacingAndGlyphs" transform="rotate(-90 269.4 489.5)">(10<tspan dy="-2.5" font-size="5">6</tspan><tspan dy="2.5"> per ml whole blood)</tspan></text>
<line x1="423.2" y1="455" x2="423.2" y2="518.1" stroke="#1c1c1c" stroke-width="1.1"/>
<line x1="422.7" y1="517.6" x2="510.5" y2="517.6" stroke="#1c1c1c" stroke-width="1.1"/>
<line x1="419.3" y1="517.6" x2="423.2" y2="517.6" stroke="#1c1c1c" stroke-width="0.9"/>
<text x="416.9" y="519.8" font-size="6.4" text-anchor="end" textLength="7.6" lengthAdjust="spacingAndGlyphs" fill="#333">0.0</text>
<line x1="419.3" y1="505.9" x2="423.2" y2="505.9" stroke="#1c1c1c" stroke-width="0.9"/>
<text x="416.9" y="508.1" font-size="6.4" text-anchor="end" textLength="7.6" lengthAdjust="spacingAndGlyphs" fill="#333">0.5</text>
<line x1="419.3" y1="494" x2="423.2" y2="494" stroke="#1c1c1c" stroke-width="0.9"/>
<text x="416.9" y="496.2" font-size="6.4" text-anchor="end" textLength="7.6" lengthAdjust="spacingAndGlyphs" fill="#333">1.0</text>
<line x1="419.3" y1="482" x2="423.2" y2="482" stroke="#1c1c1c" stroke-width="0.9"/>
<text x="416.9" y="484.2" font-size="6.4" text-anchor="end" textLength="7.6" lengthAdjust="spacingAndGlyphs" fill="#333">1.5</text>
<line x1="419.3" y1="469.8" x2="423.2" y2="469.8" stroke="#1c1c1c" stroke-width="0.9"/>
<text x="416.9" y="472" font-size="6.4" text-anchor="end" textLength="7.6" lengthAdjust="spacingAndGlyphs" fill="#333">2.0</text>
<line x1="419.3" y1="457.9" x2="423.2" y2="457.9" stroke="#1c1c1c" stroke-width="0.9"/>
<text x="416.9" y="460.1" font-size="6.4" text-anchor="end" textLength="7.6" lengthAdjust="spacingAndGlyphs" fill="#333">2.5</text>
<text x="439.5" y="449.7" font-size="8.6" style="stroke-width:0.14px" textLength="57.1" lengthAdjust="spacingAndGlyphs">blood total CD4</text>
<rect x="426" y="507.7" width="16.6" height="9.9" fill="#5f636b" stroke="#4a4d54" stroke-width="0.8"/>
<line x1="434.3" y1="507.7" x2="434.3" y2="505.6" stroke="#333" stroke-width="1"/>
<line x1="430.3" y1="505.6" x2="438.3" y2="505.6" stroke="#333" stroke-width="1.1"/>
<rect x="448.6" y="504.6" width="15.6" height="13" fill="#a5354b" stroke="#8a2a3c" stroke-width="0.8"/>
<line x1="456.4" y1="504.6" x2="456.4" y2="502" stroke="#333" stroke-width="1"/>
<line x1="452.4" y1="502" x2="460.4" y2="502" stroke="#333" stroke-width="1.1"/>
<rect x="470.7" y="501.7" width="16.3" height="15.9" fill="#4b6388" stroke="#3b5070" stroke-width="0.8"/>
<line x1="478.85" y1="501.7" x2="478.85" y2="497.8" stroke="#333" stroke-width="1"/>
<line x1="474.85" y1="497.8" x2="482.85" y2="497.8" stroke="#333" stroke-width="1.1"/>
<rect x="493.5" y="504.3" width="16.1" height="13.3" fill="#74aa5a" stroke="#5e9148" stroke-width="0.8"/>
<line x1="501.55" y1="504.3" x2="501.55" y2="501.7" stroke="#333" stroke-width="1"/>
<line x1="497.55" y1="501.7" x2="505.55" y2="501.7" stroke="#333" stroke-width="1.1"/>
<text x="435.6" y="525.9" font-size="6.6" text-anchor="middle" textLength="10.6" lengthAdjust="spacingAndGlyphs">PBS</text>
<text x="456.4" y="525.9" font-size="6.6" text-anchor="middle" textLength="10.6" lengthAdjust="spacingAndGlyphs">PBS</text>
<text x="479" y="525.9" font-size="6.6" text-anchor="middle" textLength="20.2" lengthAdjust="spacingAndGlyphs">IFNα14</text>
<text x="502" y="525.9" font-size="6.6" text-anchor="middle" textLength="20.2" lengthAdjust="spacingAndGlyphs">IFNα17</text>
<line x1="448.4" y1="530.8" x2="509.8" y2="530.8" stroke="#333" stroke-width="0.95"/>
<text x="478.6" y="538.5" font-size="6.6" text-anchor="middle" textLength="10.8" lengthAdjust="spacingAndGlyphs">EBV</text>
<text x="392.7" y="486.6" font-size="8.2" style="stroke-width:0.14px" text-anchor="middle" textLength="44" lengthAdjust="spacingAndGlyphs" transform="rotate(-90 392.7 486.6)">CD4+ T cells</text>
<text x="403.5" y="489.5" font-size="8.2" style="stroke-width:0.14px" text-anchor="middle" textLength="91.7" lengthAdjust="spacingAndGlyphs" transform="rotate(-90 403.5 489.5)">(10<tspan dy="-2.5" font-size="5">6</tspan><tspan dy="2.5"> per ml whole blood)</tspan></text>
<text x="14.5" y="610" font-size="8.3" style="stroke-width:0.14px" text-anchor="middle" textLength="102.5" lengthAdjust="spacingAndGlyphs" transform="rotate(-90 14.5 610)">Bone marrow CD8/CD4 ratio</text>
<text x="8.6" y="566.9" font-size="11.5" style="stroke-width:0.14px" textLength="6.6" lengthAdjust="spacingAndGlyphs">E</text>
<line x1="33.3" y1="578.6" x2="33.3" y2="641.5" stroke="#1c1c1c" stroke-width="1.1"/>
<line x1="32.8" y1="641" x2="121.3" y2="641" stroke="#1c1c1c" stroke-width="1.1"/>
<line x1="29.4" y1="641" x2="33.3" y2="641" stroke="#1c1c1c" stroke-width="0.9"/>
<text x="27" y="643.2" font-size="6.4" text-anchor="end" textLength="3.3" lengthAdjust="spacingAndGlyphs" fill="#333">0</text>
<line x1="29.4" y1="621.1" x2="33.3" y2="621.1" stroke="#1c1c1c" stroke-width="0.9"/>
<text x="27" y="623.3" font-size="6.4" text-anchor="end" textLength="3.3" lengthAdjust="spacingAndGlyphs" fill="#333">5</text>
<line x1="29.4" y1="601.3" x2="33.3" y2="601.3" stroke="#1c1c1c" stroke-width="0.9"/>
<text x="27" y="603.5" font-size="6.4" text-anchor="end" textLength="6.8" lengthAdjust="spacingAndGlyphs" fill="#333">10</text>
<line x1="29.4" y1="581.4" x2="33.3" y2="581.4" stroke="#1c1c1c" stroke-width="0.9"/>
<text x="27" y="583.6" font-size="6.4" text-anchor="end" textLength="6.8" lengthAdjust="spacingAndGlyphs" fill="#333">15</text>
<text x="45.7" y="649" font-size="6.6" text-anchor="middle" textLength="10.6" lengthAdjust="spacingAndGlyphs">PBS</text>
<text x="68.7" y="649" font-size="6.6" text-anchor="middle" textLength="10.6" lengthAdjust="spacingAndGlyphs">PBS</text>
<text x="89" y="649" font-size="6.6" text-anchor="middle" textLength="20.2" lengthAdjust="spacingAndGlyphs">IFNα14</text>
<text x="112.4" y="649" font-size="6.6" text-anchor="middle" textLength="20.2" lengthAdjust="spacingAndGlyphs">IFNα17</text>
<line x1="57.1" y1="654.1" x2="120.6" y2="654.1" stroke="#333" stroke-width="0.95"/>
<text x="89" y="662" font-size="6.6" text-anchor="middle" textLength="10.8" lengthAdjust="spacingAndGlyphs">EBV</text>
<text x="40.5" y="572.9" font-size="8.6" style="stroke-width:0.14px" textLength="75.7" lengthAdjust="spacingAndGlyphs">week 5 bone marrow</text>
<text x="78.45" y="584.1" font-size="4.8" text-anchor="middle" textLength="21.9" lengthAdjust="spacingAndGlyphs" fill="#333">p=0.0436</text>
<line x1="67.5" y1="586.3" x2="90" y2="586.3" stroke="#333" stroke-width="0.8"/>
<text x="91" y="591.4" font-size="4.8" text-anchor="middle" textLength="21.4" lengthAdjust="spacingAndGlyphs" fill="#333">p=0.0192</text>
<line x1="66.6" y1="593.6" x2="112.3" y2="593.6" stroke="#333" stroke-width="0.8"/>
<circle cx="40" cy="636.2" r="1.38" fill="#fff" stroke="#555" stroke-width="0.75"/>
<circle cx="48.3" cy="636.2" r="1.38" fill="#fff" stroke="#555" stroke-width="0.75"/>
<circle cx="40.46" cy="637.69" r="1.38" fill="#bbb" stroke="#3a3a3a" stroke-width="0.8"/>
<circle cx="43.54" cy="638.15" r="1.38" fill="#bbb" stroke="#3a3a3a" stroke-width="0.8"/>
<circle cx="45.99" cy="637.69" r="1.38" fill="#bbb" stroke="#3a3a3a" stroke-width="0.8"/>
<circle cx="48.78" cy="638.21" r="1.38" fill="#bbb" stroke="#3a3a3a" stroke-width="0.8"/>
<circle cx="39.25" cy="639.99" r="1.38" fill="#bbb" stroke="#3a3a3a" stroke-width="0.8"/>
<circle cx="42.46" cy="639.51" r="1.38" fill="#bbb" stroke="#3a3a3a" stroke-width="0.8"/>
<circle cx="45.04" cy="639.76" r="1.38" fill="#bbb" stroke="#3a3a3a" stroke-width="0.8"/>
<circle cx="47.61" cy="640.2" r="1.38" fill="#bbb" stroke="#3a3a3a" stroke-width="0.8"/>
<circle cx="49.99" cy="639.42" r="1.38" fill="#bbb" stroke="#3a3a3a" stroke-width="0.8"/>
<line x1="37" y1="639" x2="52" y2="639" stroke="#111" stroke-width="0.9"/>
<circle cx="67.5" cy="597" r="1.45" fill="#a4243b"/>
<circle cx="67.5" cy="602.4" r="1.45" fill="#a4243b"/>
<circle cx="67.5" cy="607.5" r="1.45" fill="#a4243b"/>
<circle cx="67.5" cy="614.3" r="1.45" fill="#a4243b"/>
<circle cx="63.5" cy="618" r="1.45" fill="#a4243b"/>
<circle cx="67.5" cy="618.9" r="1.45" fill="#a4243b"/>
<circle cx="71.1" cy="618.9" r="1.45" fill="#a4243b"/>
<circle cx="64.7" cy="622.5" r="1.45" fill="#a4243b"/>
<circle cx="69.3" cy="622.9" r="1.45" fill="#a4243b"/>
<circle cx="64.7" cy="628" r="1.45" fill="#a4243b"/>
<circle cx="69.3" cy="628" r="1.45" fill="#a4243b"/>
<circle cx="62" cy="632.6" r="1.45" fill="#a4243b"/>
<circle cx="66.6" cy="633.5" r="1.45" fill="#a4243b"/>
<circle cx="72" cy="633.5" r="1.45" fill="#a4243b"/>
<circle cx="63.8" cy="636.2" r="1.45" fill="#a4243b"/>
<circle cx="69.3" cy="636.2" r="1.45" fill="#a4243b"/>
<circle cx="73.9" cy="634.4" r="1.45" fill="#a4243b"/>
<circle cx="67.5" cy="638.6" r="1.45" fill="#a4243b"/>
<circle cx="71" cy="626" r="1.45" fill="#a4243b"/>
<line x1="60.2" y1="624.7" x2="75.7" y2="624.7" stroke="#111" stroke-width="0.9"/>
<line x1="67.5" y1="621" x2="67.5" y2="628.5" stroke="#222" stroke-width="0.6"/>
<line x1="65.5" y1="621" x2="69.5" y2="621" stroke="#222" stroke-width="0.6"/>
<line x1="65.5" y1="628.5" x2="69.5" y2="628.5" stroke="#222" stroke-width="0.6"/>
<rect x="87.95" y="608.25" width="2.9" height="2.9" fill="#3d5d8f"/>
<rect x="86.15" y="621.45" width="2.9" height="2.9" fill="#3d5d8f"/>
<rect x="92.15" y="623.25" width="2.9" height="2.9" fill="#3d5d8f"/>
<rect x="85.25" y="629.35" width="2.9" height="2.9" fill="#3d5d8f"/>
<rect x="90.75" y="628.35" width="2.9" height="2.9" fill="#3d5d8f"/>
<rect x="83.35" y="633.85" width="2.9" height="2.9" fill="#3d5d8f"/>
<rect x="94.35" y="635.75" width="2.9" height="2.9" fill="#3d5d8f"/>
<rect x="86.55" y="637.05" width="2.9" height="2.9" fill="#3d5d8f"/>
<rect x="90.55" y="636.55" width="2.9" height="2.9" fill="#3d5d8f"/>
<rect x="88.55" y="632.55" width="2.9" height="2.9" fill="#3d5d8f"/>
<rect x="82.05" y="637.35" width="2.9" height="2.9" fill="#3d5d8f"/>
<rect x="84.55" y="637.75" width="2.9" height="2.9" fill="#3d5d8f"/>
<rect x="87.55" y="637.55" width="2.9" height="2.9" fill="#3d5d8f"/>
<rect x="92.55" y="637.75" width="2.9" height="2.9" fill="#3d5d8f"/>
<rect x="95.55" y="637.05" width="2.9" height="2.9" fill="#3d5d8f"/>
<line x1="89.4" y1="629.5" x2="89.4" y2="636.5" stroke="#222" stroke-width="0.6"/>
<line x1="87.4" y1="629.5" x2="91.4" y2="629.5" stroke="#222" stroke-width="0.6"/>
<line x1="87.4" y1="636.5" x2="91.4" y2="636.5" stroke="#222" stroke-width="0.6"/>
<line x1="82" y1="633.1" x2="97" y2="633.1" stroke="#111" stroke-width="0.9"/>
<path d="M112.3 620.37L113.97 623.42L110.63 623.42Z" fill="#6db04f"/>
<path d="M112.3 625.27L113.97 628.32L110.63 628.32Z" fill="#6db04f"/>
<path d="M106.8 631.67L108.47 634.72L105.13 634.72Z" fill="#6db04f"/>
<path d="M110.4 631.67L112.07 634.72L108.73 634.72Z" fill="#6db04f"/>
<path d="M114.1 631.67L115.77 634.72L112.43 634.72Z" fill="#6db04f"/>
<path d="M117.8 631.67L119.47 634.72L116.13 634.72Z" fill="#6db04f"/>
<path d="M107.7 636.77L109.37 639.82L106.03 639.82Z" fill="#6db04f"/>
<path d="M113.2 636.77L114.87 639.82L111.53 639.82Z" fill="#6db04f"/>
<path d="M118.7 636.77L120.37 639.82L117.03 639.82Z" fill="#6db04f"/>
<line x1="104" y1="633.9" x2="120" y2="633.9" stroke="#333" stroke-width="0.9"/>
<text x="130.5" y="566.9" font-size="11.5" style="stroke-width:0.14px" textLength="6.1" lengthAdjust="spacingAndGlyphs">F</text>
<text x="141.2" y="609.4" font-size="8.3" style="stroke-width:0.14px" text-anchor="middle" textLength="78.7" lengthAdjust="spacingAndGlyphs" transform="rotate(-90 141.2 609.4)">Spleen CD8/CD4 ratio</text>
<line x1="156.5" y1="578.6" x2="156.5" y2="641.5" stroke="#1c1c1c" stroke-width="1.1"/>
<line x1="156" y1="641" x2="246.3" y2="641" stroke="#1c1c1c" stroke-width="1.1"/>
<line x1="152.6" y1="641" x2="156.5" y2="641" stroke="#1c1c1c" stroke-width="0.9"/>
<text x="150.2" y="643.2" font-size="6.4" text-anchor="end" textLength="3.3" lengthAdjust="spacingAndGlyphs" fill="#333">0</text>
<line x1="152.6" y1="621.1" x2="156.5" y2="621.1" stroke="#1c1c1c" stroke-width="0.9"/>
<text x="150.2" y="623.3" font-size="6.4" text-anchor="end" textLength="3.3" lengthAdjust="spacingAndGlyphs" fill="#333">5</text>
<line x1="152.6" y1="601.3" x2="156.5" y2="601.3" stroke="#1c1c1c" stroke-width="0.9"/>
<text x="150.2" y="603.5" font-size="6.4" text-anchor="end" textLength="6.8" lengthAdjust="spacingAndGlyphs" fill="#333">10</text>
<line x1="152.6" y1="581.4" x2="156.5" y2="581.4" stroke="#1c1c1c" stroke-width="0.9"/>
<text x="150.2" y="583.6" font-size="6.4" text-anchor="end" textLength="6.8" lengthAdjust="spacingAndGlyphs" fill="#333">15</text>
<text x="168.3" y="649" font-size="6.6" text-anchor="middle" textLength="10.6" lengthAdjust="spacingAndGlyphs">PBS</text>
<text x="189.4" y="649" font-size="6.6" text-anchor="middle" textLength="10.6" lengthAdjust="spacingAndGlyphs">PBS</text>
<text x="211.7" y="649" font-size="6.6" text-anchor="middle" textLength="20.2" lengthAdjust="spacingAndGlyphs">IFNα14</text>
<text x="235.9" y="649" font-size="6.6" text-anchor="middle" textLength="20.2" lengthAdjust="spacingAndGlyphs">IFNα17</text>
<line x1="180.4" y1="654.1" x2="243.4" y2="654.1" stroke="#333" stroke-width="0.95"/>
<text x="211.8" y="662" font-size="6.6" text-anchor="middle" textLength="10.8" lengthAdjust="spacingAndGlyphs">EBV</text>
<circle cx="161.98" cy="637.98" r="1.38" fill="#bbb" stroke="#3a3a3a" stroke-width="0.8"/>
<circle cx="164.47" cy="638.53" r="1.38" fill="#bbb" stroke="#3a3a3a" stroke-width="0.8"/>
<circle cx="167.58" cy="638.35" r="1.38" fill="#bbb" stroke="#3a3a3a" stroke-width="0.8"/>
<circle cx="170.25" cy="638.11" r="1.38" fill="#bbb" stroke="#3a3a3a" stroke-width="0.8"/>
<circle cx="173.13" cy="638.26" r="1.38" fill="#bbb" stroke="#3a3a3a" stroke-width="0.8"/>
<circle cx="162.38" cy="639.93" r="1.38" fill="#bbb" stroke="#3a3a3a" stroke-width="0.8"/>
<circle cx="165.14" cy="639.75" r="1.38" fill="#bbb" stroke="#3a3a3a" stroke-width="0.8"/>
<circle cx="167.16" cy="639.52" r="1.38" fill="#bbb" stroke="#3a3a3a" stroke-width="0.8"/>
<circle cx="170.42" cy="639.53" r="1.38" fill="#bbb" stroke="#3a3a3a" stroke-width="0.8"/>
<circle cx="173.05" cy="639.9" r="1.38" fill="#bbb" stroke="#3a3a3a" stroke-width="0.8"/>
<line x1="159" y1="639" x2="175" y2="639" stroke="#111" stroke-width="0.9"/>
<circle cx="188.4" cy="607.9" r="1.45" fill="#a4243b"/>
<circle cx="192" cy="610.6" r="1.45" fill="#a4243b"/>
<circle cx="184.7" cy="617" r="1.45" fill="#a4243b"/>
<circle cx="188.7" cy="618.5" r="1.45" fill="#a4243b"/>
<circle cx="192.4" cy="618" r="1.45" fill="#a4243b"/>
<circle cx="195.7" cy="616.7" r="1.45" fill="#a4243b"/>
<circle cx="187.8" cy="622.9" r="1.45" fill="#a4243b"/>
<circle cx="185.1" cy="626.2" r="1.45" fill="#a4243b"/>
<circle cx="191.5" cy="624.4" r="1.45" fill="#a4243b"/>
<circle cx="195.1" cy="626.2" r="1.45" fill="#a4243b"/>
<circle cx="186" cy="629.5" r="1.45" fill="#a4243b"/>
<circle cx="190.6" cy="629.5" r="1.45" fill="#a4243b"/>
<circle cx="196" cy="631.7" r="1.45" fill="#a4243b"/>
<circle cx="184.7" cy="633.9" r="1.45" fill="#a4243b"/>
<circle cx="188.7" cy="634.4" r="1.45" fill="#a4243b"/>
<circle cx="193.3" cy="634.4" r="1.45" fill="#a4243b"/>
<circle cx="192" cy="637.5" r="1.45" fill="#a4243b"/>
<circle cx="188.4" cy="639" r="1.45" fill="#a4243b"/>
<line x1="182" y1="625.3" x2="198" y2="625.3" stroke="#111" stroke-width="0.9"/>
<line x1="189.3" y1="622" x2="189.3" y2="628.5" stroke="#222" stroke-width="0.6"/>
<line x1="187.3" y1="622" x2="191.3" y2="622" stroke="#222" stroke-width="0.6"/>
<line x1="187.3" y1="628.5" x2="191.3" y2="628.5" stroke="#222" stroke-width="0.6"/>
<rect x="211.05" y="591.85" width="2.9" height="2.9" fill="#3d5d8f"/>
<rect x="214.75" y="617.45" width="2.9" height="2.9" fill="#3d5d8f"/>
<rect x="207.05" y="620.15" width="2.9" height="2.9" fill="#3d5d8f"/>
<rect x="211.05" y="621.05" width="2.9" height="2.9" fill="#3d5d8f"/>
<rect x="209.25" y="630.25" width="2.9" height="2.9" fill="#3d5d8f"/>
<rect x="212.85" y="631.15" width="2.9" height="2.9" fill="#3d5d8f"/>
<rect x="216.55" y="635.75" width="2.9" height="2.9" fill="#3d5d8f"/>
<rect x="204.55" y="637.05" width="2.9" height="2.9" fill="#3d5d8f"/>
<rect x="208.55" y="637.55" width="2.9" height="2.9" fill="#3d5d8f"/>
<rect x="212.55" y="637.05" width="2.9" height="2.9" fill="#3d5d8f"/>
<rect x="206.55" y="634.55" width="2.9" height="2.9" fill="#3d5d8f"/>
<rect x="210.55" y="626.55" width="2.9" height="2.9" fill="#3d5d8f"/>
<line x1="204" y1="630.2" x2="220" y2="630.2" stroke="#111" stroke-width="0.9"/>
<line x1="212" y1="627" x2="212" y2="633.5" stroke="#222" stroke-width="0.6"/>
<line x1="210" y1="627" x2="214" y2="627" stroke="#222" stroke-width="0.6"/>
<line x1="210" y1="633.5" x2="214" y2="633.5" stroke="#222" stroke-width="0.6"/>
<path d="M235.4 615.57L237.07 618.62L233.73 618.62Z" fill="#6db04f"/>
<path d="M233.5 620.67L235.17 623.72L231.83 623.72Z" fill="#6db04f"/>
<path d="M238.1 620.67L239.77 623.72L236.43 623.72Z" fill="#6db04f"/>
<path d="M240.8 625.27L242.47 628.32L239.13 628.32Z" fill="#6db04f"/>
<path d="M229.9 626.17L231.57 629.22L228.23 629.22Z" fill="#6db04f"/>
<path d="M234.4 627.07L236.07 630.12L232.73 630.12Z" fill="#6db04f"/>
<path d="M238.1 626.57L239.77 629.62L236.43 629.62Z" fill="#6db04f"/>
<path d="M230.8 631.67L232.47 634.72L229.13 634.72Z" fill="#6db04f"/>
<path d="M235.4 632.07L237.07 635.12L233.73 635.12Z" fill="#6db04f"/>
<path d="M229 636.27L230.67 639.32L227.33 639.32Z" fill="#6db04f"/>
<path d="M233.5 637.57L235.17 640.62L231.83 640.62Z" fill="#6db04f"/>
<path d="M237.2 637.57L238.87 640.62L235.53 640.62Z" fill="#6db04f"/>
<path d="M240.8 637.57L242.47 640.62L239.13 640.62Z" fill="#6db04f"/>
<line x1="227" y1="631.1" x2="243" y2="631.1" stroke="#333" stroke-width="0.9"/>
<line x1="290.6" y1="578.8" x2="290.6" y2="641.7" stroke="#1c1c1c" stroke-width="1.1"/>
<line x1="290.1" y1="641.2" x2="377.5" y2="641.2" stroke="#1c1c1c" stroke-width="1.1"/>
<line x1="286.7" y1="641.2" x2="290.6" y2="641.2" stroke="#1c1c1c" stroke-width="0.9"/>
<text x="284.3" y="643.4" font-size="6.4" text-anchor="end" textLength="3.3" lengthAdjust="spacingAndGlyphs" fill="#333">0</text>
<line x1="286.7" y1="629.3" x2="290.6" y2="629.3" stroke="#1c1c1c" stroke-width="0.9"/>
<text x="284.3" y="631.5" font-size="6.4" text-anchor="end" textLength="3.3" lengthAdjust="spacingAndGlyphs" fill="#333">5</text>
<line x1="286.7" y1="617.5" x2="290.6" y2="617.5" stroke="#1c1c1c" stroke-width="0.9"/>
<text x="284.3" y="619.7" font-size="6.4" text-anchor="end" textLength="6.8" lengthAdjust="spacingAndGlyphs" fill="#333">10</text>
<line x1="286.7" y1="605.6" x2="290.6" y2="605.6" stroke="#1c1c1c" stroke-width="0.9"/>
<text x="284.3" y="607.8" font-size="6.4" text-anchor="end" textLength="6.8" lengthAdjust="spacingAndGlyphs" fill="#333">15</text>
<line x1="286.7" y1="593.6" x2="290.6" y2="593.6" stroke="#1c1c1c" stroke-width="0.9"/>
<text x="284.3" y="595.8" font-size="6.4" text-anchor="end" textLength="6.8" lengthAdjust="spacingAndGlyphs" fill="#333">20</text>
<line x1="286.7" y1="581.9" x2="290.6" y2="581.9" stroke="#1c1c1c" stroke-width="0.9"/>
<text x="284.3" y="584.1" font-size="6.4" text-anchor="end" textLength="6.8" lengthAdjust="spacingAndGlyphs" fill="#333">25</text>
<text x="305" y="572.9" font-size="8.6" style="stroke-width:0.14px" textLength="60" lengthAdjust="spacingAndGlyphs">spleen total CD8</text>
<rect x="293.2" y="638.8" width="16.3" height="2.4" fill="#5f636b" stroke="#4a4d54" stroke-width="0.8"/>
<line x1="301.35" y1="638.8" x2="301.35" y2="637" stroke="#333" stroke-width="1"/>
<line x1="297.35" y1="637" x2="305.35" y2="637" stroke="#333" stroke-width="1.1"/>
<rect x="316.3" y="604.5" width="15.5" height="36.7" fill="#a5354b" stroke="#8a2a3c" stroke-width="0.8"/>
<line x1="324.05" y1="604.5" x2="324.05" y2="595.5" stroke="#333" stroke-width="1"/>
<line x1="320.05" y1="595.5" x2="328.05" y2="595.5" stroke="#333" stroke-width="1.1"/>
<rect x="338.3" y="617.5" width="16" height="23.7" fill="#4b6388" stroke="#3b5070" stroke-width="0.8"/>
<line x1="346.3" y1="617.5" x2="346.3" y2="609.3" stroke="#333" stroke-width="1"/>
<line x1="342.3" y1="609.3" x2="350.3" y2="609.3" stroke="#333" stroke-width="1.1"/>
<rect x="360.3" y="614.5" width="16" height="26.7" fill="#74aa5a" stroke="#5e9148" stroke-width="0.8"/>
<line x1="368.3" y1="614.5" x2="368.3" y2="608.3" stroke="#333" stroke-width="1"/>
<line x1="364.3" y1="608.3" x2="372.3" y2="608.3" stroke="#333" stroke-width="1.1"/>
<text x="302" y="649" font-size="6.6" text-anchor="middle" textLength="10.6" lengthAdjust="spacingAndGlyphs">PBS</text>
<text x="323.7" y="649" font-size="6.6" text-anchor="middle" textLength="10.6" lengthAdjust="spacingAndGlyphs">PBS</text>
<text x="344.8" y="649" font-size="6.6" text-anchor="middle" textLength="20.2" lengthAdjust="spacingAndGlyphs">IFNα14</text>
<text x="367.4" y="649" font-size="6.6" text-anchor="middle" textLength="20.2" lengthAdjust="spacingAndGlyphs">IFNα17</text>
<line x1="315.6" y1="654.1" x2="376.5" y2="654.1" stroke="#333" stroke-width="0.95"/>
<text x="345.8" y="662" font-size="6.6" text-anchor="middle" textLength="10.8" lengthAdjust="spacingAndGlyphs">EBV</text>
<text x="261.3" y="610.8" font-size="8.2" style="stroke-width:0.14px" text-anchor="middle" textLength="43.5" lengthAdjust="spacingAndGlyphs" transform="rotate(-90 261.3 610.8)">CD8+ T cells</text>
<text x="271.3" y="610.2" font-size="8.2" style="stroke-width:0.14px" text-anchor="middle" textLength="56.7" lengthAdjust="spacingAndGlyphs" transform="rotate(-90 271.3 610.2)">(10<tspan dy="-2.5" font-size="5">6</tspan><tspan dy="2.5"> per spleen)</tspan></text>
<line x1="423.2" y1="578.8" x2="423.2" y2="641.7" stroke="#1c1c1c" stroke-width="1.1"/>
<line x1="422.7" y1="641.2" x2="511" y2="641.2" stroke="#1c1c1c" stroke-width="1.1"/>
<line x1="419.3" y1="641.2" x2="423.2" y2="641.2" stroke="#1c1c1c" stroke-width="0.9"/>
<text x="416.9" y="643.4" font-size="6.4" text-anchor="end" textLength="3.3" lengthAdjust="spacingAndGlyphs" fill="#333">0</text>
<line x1="419.3" y1="629.3" x2="423.2" y2="629.3" stroke="#1c1c1c" stroke-width="0.9"/>
<text x="416.9" y="631.5" font-size="6.4" text-anchor="end" textLength="3.3" lengthAdjust="spacingAndGlyphs" fill="#333">5</text>
<line x1="419.3" y1="617.5" x2="423.2" y2="617.5" stroke="#1c1c1c" stroke-width="0.9"/>
<text x="416.9" y="619.7" font-size="6.4" text-anchor="end" textLength="6.8" lengthAdjust="spacingAndGlyphs" fill="#333">10</text>
<line x1="419.3" y1="605.6" x2="423.2" y2="605.6" stroke="#1c1c1c" stroke-width="0.9"/>
<text x="416.9" y="607.8" font-size="6.4" text-anchor="end" textLength="6.8" lengthAdjust="spacingAndGlyphs" fill="#333">15</text>
<line x1="419.3" y1="593.6" x2="423.2" y2="593.6" stroke="#1c1c1c" stroke-width="0.9"/>
<text x="416.9" y="595.8" font-size="6.4" text-anchor="end" textLength="6.8" lengthAdjust="spacingAndGlyphs" fill="#333">20</text>
<line x1="419.3" y1="581.9" x2="423.2" y2="581.9" stroke="#1c1c1c" stroke-width="0.9"/>
<text x="416.9" y="584.1" font-size="6.4" text-anchor="end" textLength="6.8" lengthAdjust="spacingAndGlyphs" fill="#333">25</text>
<text x="438.2" y="573.4" font-size="8.6" style="stroke-width:0.14px" textLength="59" lengthAdjust="spacingAndGlyphs">spleen total CD4</text>
<rect x="426" y="635.9" width="16.6" height="5.3" fill="#5f636b" stroke="#4a4d54" stroke-width="0.8"/>
<line x1="434.3" y1="635.9" x2="434.3" y2="634" stroke="#333" stroke-width="1"/>
<line x1="430.3" y1="634" x2="438.3" y2="634" stroke="#333" stroke-width="1.1"/>
<rect x="448.6" y="629.4" width="16.1" height="11.8" fill="#a5354b" stroke="#8a2a3c" stroke-width="0.8"/>
<line x1="456.65" y1="629.4" x2="456.65" y2="626.3" stroke="#333" stroke-width="1"/>
<line x1="452.65" y1="626.3" x2="460.65" y2="626.3" stroke="#333" stroke-width="1.1"/>
<rect x="471.2" y="626.3" width="16.3" height="14.9" fill="#4b6388" stroke="#3b5070" stroke-width="0.8"/>
<line x1="479.35" y1="626.3" x2="479.35" y2="621.6" stroke="#333" stroke-width="1"/>
<line x1="475.35" y1="621.6" x2="483.35" y2="621.6" stroke="#333" stroke-width="1.1"/>
<rect x="493.5" y="626.3" width="16.6" height="14.9" fill="#74aa5a" stroke="#5e9148" stroke-width="0.8"/>
<line x1="501.8" y1="626.3" x2="501.8" y2="622.4" stroke="#333" stroke-width="1"/>
<line x1="497.8" y1="622.4" x2="505.8" y2="622.4" stroke="#333" stroke-width="1.1"/>
<text x="435" y="649" font-size="6.6" text-anchor="middle" textLength="10.6" lengthAdjust="spacingAndGlyphs">PBS</text>
<text x="457" y="649" font-size="6.6" text-anchor="middle" textLength="10.6" lengthAdjust="spacingAndGlyphs">PBS</text>
<text x="478.2" y="649" font-size="6.6" text-anchor="middle" textLength="20.2" lengthAdjust="spacingAndGlyphs">IFNα14</text>
<text x="501.6" y="649" font-size="6.6" text-anchor="middle" textLength="20.2" lengthAdjust="spacingAndGlyphs">IFNα17</text>
<line x1="446.1" y1="654.1" x2="509.4" y2="654.1" stroke="#333" stroke-width="0.95"/>
<text x="478.2" y="662" font-size="6.6" text-anchor="middle" textLength="10.8" lengthAdjust="spacingAndGlyphs">EBV</text>
<text x="393.7" y="610.8" font-size="8.2" style="stroke-width:0.14px" text-anchor="middle" textLength="43.5" lengthAdjust="spacingAndGlyphs" transform="rotate(-90 393.7 610.8)">CD4+ T cells</text>
<text x="404" y="610.2" font-size="8.2" style="stroke-width:0.14px" text-anchor="middle" textLength="56.7" lengthAdjust="spacingAndGlyphs" transform="rotate(-90 404 610.2)">(10<tspan dy="-2.5" font-size="5">6</tspan><tspan dy="2.5"> per spleen)</tspan></text>
</svg></body></html>
